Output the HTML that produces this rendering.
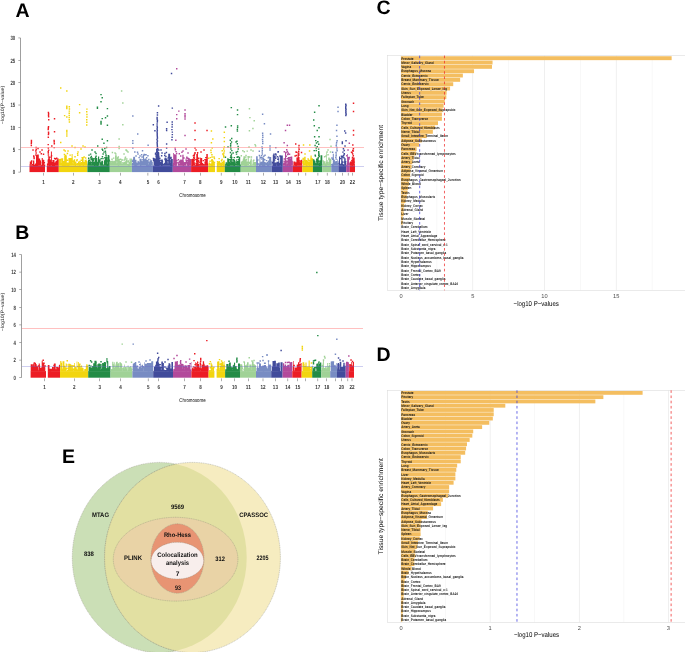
<!DOCTYPE html>
<html><head><meta charset="utf-8"><style>
html,body{margin:0;padding:0;background:#fff;overflow:hidden;}
svg{display:block;font-family:"Liberation Sans", sans-serif;will-change:transform;text-rendering:geometricPrecision;}
</style></head><body>
<svg width="685" height="652" viewBox="0 0 685 652">
<rect width="685" height="652" fill="#fff"/>
<rect x="29.50" y="165.62" width="15.50" height="6.48" fill="#EC1C24"/>
<rect x="46.80" y="165.62" width="12.00" height="6.48" fill="#EC1C24"/>
<rect x="58.80" y="165.62" width="28.60" height="6.48" fill="#F2D50F"/>
<rect x="87.40" y="165.62" width="22.40" height="6.48" fill="#238C46"/>
<rect x="109.80" y="165.62" width="22.10" height="6.48" fill="#A0D296"/>
<rect x="131.90" y="165.62" width="21.00" height="6.48" fill="#788CC3"/>
<rect x="152.90" y="165.62" width="19.90" height="6.48" fill="#414B9B"/>
<rect x="172.80" y="165.62" width="18.30" height="6.48" fill="#B24A9B"/>
<rect x="191.10" y="165.62" width="17.10" height="6.48" fill="#EC1C24"/>
<rect x="208.20" y="165.62" width="6.80" height="6.48" fill="#F2D50F"/>
<rect x="216.70" y="165.62" width="8.10" height="6.48" fill="#F2D50F"/>
<rect x="224.80" y="165.62" width="15.90" height="6.48" fill="#238C46"/>
<rect x="240.70" y="165.62" width="15.30" height="6.48" fill="#A0D296"/>
<rect x="256.00" y="165.62" width="15.80" height="6.48" fill="#788CC3"/>
<rect x="271.80" y="165.62" width="11.00" height="6.48" fill="#414B9B"/>
<rect x="282.80" y="165.62" width="10.10" height="6.48" fill="#B24A9B"/>
<rect x="292.90" y="165.62" width="9.40" height="6.48" fill="#EC1C24"/>
<rect x="302.30" y="165.62" width="10.60" height="6.48" fill="#F2D50F"/>
<rect x="312.90" y="165.62" width="9.40" height="6.48" fill="#238C46"/>
<rect x="322.30" y="165.62" width="9.00" height="6.48" fill="#A0D296"/>
<rect x="331.30" y="165.62" width="7.10" height="6.48" fill="#788CC3"/>
<rect x="338.40" y="165.62" width="7.80" height="6.48" fill="#414B9B"/>
<rect x="346.20" y="165.62" width="3.60" height="6.48" fill="#B24A9B"/>
<rect x="349.80" y="165.62" width="5.20" height="6.48" fill="#EC1C24"/>
<path fill="#EC1C24" d="M39.0 161.9h0.8V165.8h-0.8zM31.6 164.0h1.5V165.8h-1.5zM31.2 165.5h1.4V165.8h-1.4zM42.2 165.3h0.6V165.8h-0.6zM41.9 165.1h2.0V165.8h-2.0zM36.0 155.1h1.6V165.8h-1.6zM58.1 158.6h0.6V165.8h-0.6zM38.0 165.2h0.8V165.8h-0.8zM38.5 164.9h2.0V165.8h-2.0zM40.4 165.4h1.5V165.8h-1.5zM31.2 161.5h0.9V165.8h-0.9zM42.0 162.5h1.1V165.8h-1.1zM42.8 160.0h1.0V165.8h-1.0zM50.0 162.6h0.9V165.8h-0.9zM50.9 151.6h1.0V165.8h-1.0zM33.0 160.6h1.3V165.8h-1.3zM34.0 165.5h1.4V165.8h-1.4zM49.1 162.6h1.9V165.8h-1.9zM55.2 161.4h1.1V165.8h-1.1zM46.9 163.4h1.5V165.8h-1.5zM54.1 163.3h2.2V165.8h-2.2zM49.0 161.3h0.6V165.8h-0.6zM48.5 159.4h2.3V165.8h-2.3zM37.8 161.7h1.2V165.8h-1.2zM30.2 165.0h1.3V165.8h-1.3zM32.9 160.4h0.6V165.8h-0.6zM33.3 163.8h0.9V165.8h-0.9zM55.0 163.5h0.6V165.8h-0.6zM53.5 164.4h2.1V165.8h-2.1zM41.7 157.9h1.1V165.8h-1.1zM57.6 164.9h0.8V165.8h-0.8zM36.3 163.2h0.9V165.8h-0.9zM29.6 164.0h1.3V165.8h-1.3zM49.7 162.2h1.4V165.8h-1.4zM49.3 157.4h0.6V165.8h-0.6zM52.4 159.9h2.1V165.8h-2.1zM41.0 165.2h1.2V165.8h-1.2zM48.1 165.4h0.6V165.8h-0.6zM35.6 164.1h0.8V165.8h-0.8zM31.0 165.0h0.5V165.8h-0.5zM32.5 165.5h1.2V165.8h-1.2zM55.1 165.0h1.6V165.8h-1.6zM36.9 164.0h1.1V165.8h-1.1zM43.2 165.3h1.4V165.8h-1.4zM32.5 164.5h1.1V165.8h-1.1zM53.8 165.5h0.8V165.8h-0.8zM57.3 165.0h1.5V165.8h-1.5zM54.8 164.5h1.8V165.8h-1.8zM40.2 160.3h0.8V165.8h-0.8zM39.2 159.6h0.9V165.8h-0.9zM56.8 159.7h2.0V165.8h-2.0zM53.5 164.7h1.8V165.8h-1.8zM30.3 164.4h0.6V165.8h-0.6zM37.1 154.4h1.7V165.8h-1.7zM57.5 164.7h1.2V165.8h-1.2zM36.1 164.8h0.9V165.8h-0.9zM47.8 159.0h2.1V165.8h-2.1zM52.9 161.7h0.7V165.8h-0.7zM56.2 160.7h1.9V165.8h-1.9zM43.5 160.0h0.8V165.8h-0.8zM38.7 158.4h1.45v1.45h-1.45zM56.8 162.9h1.45v1.45h-1.45zM40.6 153.1h1.45v1.45h-1.45zM49.8 164.1h1.45v1.45h-1.45zM32.9 164.2h1.45v1.45h-1.45zM54.9 158.3h1.45v1.45h-1.45zM33.4 157.8h1.45v1.45h-1.45zM57.0 160.6h1.45v1.45h-1.45zM39.2 161.7h1.45v1.45h-1.45zM33.0 164.8h1.45v1.45h-1.45zM56.8 160.7h1.45v1.45h-1.45zM55.7 162.6h1.45v1.45h-1.45zM53.9 157.8h1.45v1.45h-1.45zM35.2 163.7h1.45v1.45h-1.45zM37.6 163.8h1.45v1.45h-1.45zM36.6 162.7h1.45v1.45h-1.45zM33.0 155.2h1.45v1.45h-1.45zM39.3 162.4h1.45v1.45h-1.45zM54.9 162.7h1.45v1.45h-1.45zM55.2 162.1h1.45v1.45h-1.45zM29.8 162.6h1.45v1.45h-1.45zM34.5 164.9h1.45v1.45h-1.45zM51.9 164.1h1.45v1.45h-1.45zM42.7 159.7h1.45v1.45h-1.45zM38.5 162.0h1.45v1.45h-1.45zM51.5 164.4h1.45v1.45h-1.45zM36.3 163.6h1.45v1.45h-1.45zM51.1 162.0h1.45v1.45h-1.45zM50.8 155.1h1.45v1.45h-1.45zM41.8 161.1h1.45v1.45h-1.45zM43.6 162.0h1.45v1.45h-1.45zM48.9 162.5h1.45v1.45h-1.45zM42.8 153.5h1.45v1.45h-1.45zM49.1 156.5h1.45v1.45h-1.45zM55.9 163.7h1.45v1.45h-1.45zM56.0 157.5h1.45v1.45h-1.45zM33.2 164.4h1.45v1.45h-1.45zM41.8 164.6h1.45v1.45h-1.45zM36.1 164.6h1.45v1.45h-1.45zM48.2 158.7h1.45v1.45h-1.45zM54.7 164.2h1.45v1.45h-1.45zM49.5 160.5h1.45v1.45h-1.45zM33.3 156.3h1.45v1.45h-1.45zM56.7 163.9h1.45v1.45h-1.45zM56.2 162.8h1.45v1.45h-1.45zM52.8 164.2h1.45v1.45h-1.45zM41.5 162.0h1.45v1.45h-1.45zM38.9 164.0h1.45v1.45h-1.45zM38.3 159.7h1.45v1.45h-1.45zM29.8 161.6h1.45v1.45h-1.45zM41.7 164.8h1.45v1.45h-1.45zM38.7 161.0h1.45v1.45h-1.45zM43.8 164.6h1.45v1.45h-1.45zM57.2 158.6h1.45v1.45h-1.45zM56.8 164.4h1.45v1.45h-1.45zM36.8 164.7h1.45v1.45h-1.45zM51.3 163.6h1.45v1.45h-1.45zM32.9 162.7h1.45v1.45h-1.45zM55.1 158.0h1.45v1.45h-1.45zM36.6 164.2h1.45v1.45h-1.45zM55.3 161.5h1.45v1.45h-1.45zM49.1 164.5h1.45v1.45h-1.45zM30.9 160.2h1.45v1.45h-1.45zM41.3 164.6h1.45v1.45h-1.45zM55.8 160.8h1.45v1.45h-1.45zM52.0 164.5h1.45v1.45h-1.45zM53.5 164.6h1.45v1.45h-1.45zM53.7 162.5h1.45v1.45h-1.45zM38.9 161.6h1.45v1.45h-1.45zM55.5 163.6h1.45v1.45h-1.45zM32.9 161.9h1.45v1.45h-1.45zM36.0 164.4h1.45v1.45h-1.45zM33.8 164.7h1.45v1.45h-1.45zM35.0 163.4h1.45v1.45h-1.45zM37.9 159.2h1.45v1.45h-1.45zM192.8 163.8h1.2V165.8h-1.2zM200.7 158.0h1.5V165.8h-1.5zM206.8 163.5h1.4V165.8h-1.4zM201.8 164.1h2.3V165.8h-2.3zM200.2 164.9h2.0V165.8h-2.0zM196.5 159.4h2.3V165.8h-2.3zM199.9 157.6h0.7V165.8h-0.7zM206.3 165.0h1.3V165.8h-1.3zM196.1 163.1h1.4V165.8h-1.4zM194.3 162.1h0.8V165.8h-0.8zM202.0 163.7h0.6V165.8h-0.6zM204.6 161.4h1.1V165.8h-1.1zM191.2 159.0h1.0V165.8h-1.0zM201.1 164.8h1.7V165.8h-1.7zM199.6 164.5h1.5V165.8h-1.5zM200.9 165.2h1.2V165.8h-1.2zM193.8 165.2h1.9V165.8h-1.9zM192.8 163.0h0.8V165.8h-0.8zM205.2 159.7h1.6V165.8h-1.6zM192.2 160.3h0.5V165.8h-0.5zM196.6 164.1h1.8V165.8h-1.8zM194.0 165.2h1.0V165.8h-1.0zM206.6 164.1h1.5V165.8h-1.5zM198.8 165.4h1.2V165.8h-1.2zM206.3 154.1h1.5V165.8h-1.5zM198.6 164.6h1.6V165.8h-1.6zM191.9 158.7h2.2V165.8h-2.2zM196.5 159.6h2.1V165.8h-2.1zM196.3 154.1h1.6V165.8h-1.6zM199.6 164.6h2.2V165.8h-2.2zM197.8 164.7h1.8V165.8h-1.8zM196.4 163.2h2.1V165.8h-2.1zM204.7 164.9h0.9V165.8h-0.9zM197.2 152.9h0.8V165.8h-0.8zM196.1 165.2h1.5V165.8h-1.5zM200.2 163.8h1.2V165.8h-1.2zM192.2 159.4h0.7V165.8h-0.7zM197.1 164.9h0.9V165.8h-0.9zM195.9 165.5h0.9V165.8h-0.9zM201.6 163.2h1.45v1.45h-1.45zM193.4 160.0h1.45v1.45h-1.45zM192.4 163.6h1.45v1.45h-1.45zM204.3 164.3h1.45v1.45h-1.45zM198.0 157.6h1.45v1.45h-1.45zM203.8 164.2h1.45v1.45h-1.45zM196.6 159.7h1.45v1.45h-1.45zM196.9 152.1h1.45v1.45h-1.45zM194.2 152.8h1.45v1.45h-1.45zM199.0 163.9h1.45v1.45h-1.45zM198.2 164.3h1.45v1.45h-1.45zM202.2 163.7h1.45v1.45h-1.45zM205.4 161.3h1.45v1.45h-1.45zM196.8 163.8h1.45v1.45h-1.45zM200.7 163.9h1.45v1.45h-1.45zM204.9 164.4h1.45v1.45h-1.45zM199.1 161.7h1.45v1.45h-1.45zM195.2 158.9h1.45v1.45h-1.45zM197.1 160.6h1.45v1.45h-1.45zM200.0 163.4h1.45v1.45h-1.45zM197.2 164.5h1.45v1.45h-1.45zM193.7 157.2h1.45v1.45h-1.45zM196.0 160.5h1.45v1.45h-1.45zM192.6 161.6h1.45v1.45h-1.45zM196.7 162.1h1.45v1.45h-1.45zM195.7 164.6h1.45v1.45h-1.45zM195.9 163.9h1.45v1.45h-1.45zM192.9 159.8h1.45v1.45h-1.45zM195.4 162.8h1.45v1.45h-1.45zM205.5 158.9h1.45v1.45h-1.45zM205.1 156.9h1.45v1.45h-1.45zM193.0 163.6h1.45v1.45h-1.45zM191.4 160.3h1.45v1.45h-1.45zM201.6 163.1h1.45v1.45h-1.45zM197.5 160.6h1.45v1.45h-1.45zM202.1 163.7h1.45v1.45h-1.45zM204.5 163.1h1.45v1.45h-1.45zM201.0 164.1h1.45v1.45h-1.45zM192.7 155.1h1.45v1.45h-1.45zM202.7 159.9h1.45v1.45h-1.45zM191.5 164.7h1.45v1.45h-1.45zM193.5 164.0h1.45v1.45h-1.45zM195.8 163.0h1.45v1.45h-1.45zM191.5 163.4h1.45v1.45h-1.45zM201.2 164.1h1.45v1.45h-1.45zM204.4 161.5h1.45v1.45h-1.45zM202.4 163.7h1.45v1.45h-1.45zM197.9 160.2h1.45v1.45h-1.45zM196.5 164.9h1.45v1.45h-1.45zM204.3 158.9h1.45v1.45h-1.45zM195.5 164.7h1.45v1.45h-1.45zM295.5 164.0h2.2V165.8h-2.2zM295.0 162.2h2.1V165.8h-2.1zM301.1 163.1h1.2V165.8h-1.2zM294.7 165.0h2.0V165.8h-2.0zM297.9 164.9h0.5V165.8h-0.5zM301.0 159.7h1.3V165.8h-1.3zM295.3 165.2h1.1V165.8h-1.1zM298.1 163.0h2.1V165.8h-2.1zM296.4 157.6h2.2V165.8h-2.2zM299.2 162.1h0.6V165.8h-0.6zM297.1 164.0h2.2V165.8h-2.2zM299.1 163.9h1.6V165.8h-1.6zM297.8 157.1h1.7V165.8h-1.7zM297.6 152.2h1.2V165.8h-1.2zM293.4 161.5h2.0V165.8h-2.0zM298.1 160.6h1.3V165.8h-1.3zM300.5 160.7h1.8V165.8h-1.8zM293.2 165.1h1.1V165.8h-1.1zM300.2 165.1h2.1V165.8h-2.1zM298.4 165.4h1.5V165.8h-1.5zM296.6 161.9h1.8V165.8h-1.8zM295.5 164.4h1.9V165.8h-1.9zM297.2 162.7h1.45v1.45h-1.45zM300.9 160.7h1.45v1.45h-1.45zM299.4 160.3h1.45v1.45h-1.45zM295.9 151.6h1.45v1.45h-1.45zM298.6 160.2h1.45v1.45h-1.45zM295.0 164.2h1.45v1.45h-1.45zM297.5 157.9h1.45v1.45h-1.45zM299.3 163.2h1.45v1.45h-1.45zM293.9 162.0h1.45v1.45h-1.45zM300.0 164.2h1.45v1.45h-1.45zM298.9 164.1h1.45v1.45h-1.45zM295.3 164.7h1.45v1.45h-1.45zM295.2 162.9h1.45v1.45h-1.45zM300.8 151.7h1.45v1.45h-1.45zM294.2 163.4h1.45v1.45h-1.45zM300.6 164.0h1.45v1.45h-1.45zM295.4 162.6h1.45v1.45h-1.45zM293.6 163.7h1.45v1.45h-1.45zM296.0 162.9h1.45v1.45h-1.45zM300.8 163.6h1.45v1.45h-1.45zM294.4 155.3h1.45v1.45h-1.45zM296.5 157.6h1.45v1.45h-1.45zM298.0 158.8h1.45v1.45h-1.45zM295.3 164.2h1.45v1.45h-1.45zM299.0 162.3h1.45v1.45h-1.45zM297.4 160.4h1.45v1.45h-1.45zM299.0 163.6h1.45v1.45h-1.45zM295.7 154.8h1.45v1.45h-1.45zM350.4 161.8h0.9V165.8h-0.9zM352.8 157.4h1.9V165.8h-1.9zM354.2 165.3h0.8V165.8h-0.8zM353.5 164.9h1.5V165.8h-1.5zM353.4 164.6h1.0V165.8h-1.0zM351.7 161.6h1.4V165.8h-1.4zM350.2 162.1h1.8V165.8h-1.8zM352.3 159.9h1.7V165.8h-1.7zM349.8 161.6h1.4V165.8h-1.4zM353.3 164.9h1.7V165.8h-1.7zM353.1 164.7h1.9V165.8h-1.9zM352.0 164.8h2.2V165.8h-2.2zM351.3 151.8h1.45v1.45h-1.45zM353.4 163.8h1.45v1.45h-1.45zM352.7 163.1h1.45v1.45h-1.45zM352.4 159.0h1.45v1.45h-1.45zM350.1 163.9h1.45v1.45h-1.45zM350.5 163.6h1.45v1.45h-1.45zM349.7 164.3h1.45v1.45h-1.45zM351.3 162.7h1.45v1.45h-1.45zM349.9 161.4h1.45v1.45h-1.45zM353.5 161.4h1.45v1.45h-1.45zM351.1 160.0h1.45v1.45h-1.45zM351.4 164.1h1.45v1.45h-1.45zM351.6 164.8h1.45v1.45h-1.45zM352.4 164.2h1.45v1.45h-1.45zM351.1 151.7h1.45v1.45h-1.45zM30.7 139.8h1.45v1.45h-1.45zM30.7 141.3h1.45v1.45h-1.45zM30.6 142.8h1.45v1.45h-1.45zM30.6 144.8h1.45v1.45h-1.45zM35.4 146.8h1.45v1.45h-1.45zM35.5 148.8h1.45v1.45h-1.45zM35.1 150.3h1.45v1.45h-1.45zM35.4 152.3h1.45v1.45h-1.45zM35.2 154.3h1.45v1.45h-1.45zM47.7 111.7h1.45v1.45h-1.45zM47.9 113.1h1.45v1.45h-1.45zM47.8 114.6h1.45v1.45h-1.45zM47.9 116.1h1.45v1.45h-1.45zM48.0 119.0h1.45v1.45h-1.45zM47.8 126.0h1.45v1.45h-1.45zM47.6 127.3h1.45v1.45h-1.45zM47.5 128.7h1.45v1.45h-1.45zM47.8 131.5h1.45v1.45h-1.45zM47.9 132.7h1.45v1.45h-1.45zM47.7 133.8h1.45v1.45h-1.45zM47.6 136.6h1.45v1.45h-1.45zM47.5 143.9h1.45v1.45h-1.45zM47.6 147.2h1.45v1.45h-1.45zM47.9 149.5h1.45v1.45h-1.45zM47.5 150.9h1.45v1.45h-1.45zM47.6 152.3h1.45v1.45h-1.45zM47.7 154.3h1.45v1.45h-1.45zM47.9 156.3h1.45v1.45h-1.45zM48.0 158.3h1.45v1.45h-1.45zM47.5 160.3h1.45v1.45h-1.45zM47.6 162.3h1.45v1.45h-1.45zM53.8 118.1h1.45v1.45h-1.45zM53.8 131.0h1.45v1.45h-1.45zM53.4 139.8h1.45v1.45h-1.45zM53.5 141.3h1.45v1.45h-1.45zM53.6 143.0h1.45v1.45h-1.45zM53.5 146.9h1.45v1.45h-1.45zM51.1 145.3h1.45v1.45h-1.45zM39.3 151.3h1.45v1.45h-1.45zM41.3 149.3h1.45v1.45h-1.45zM32.3 149.3h1.45v1.45h-1.45zM37.3 147.8h1.45v1.45h-1.45zM194.3 122.3h1.45v1.45h-1.45zM194.3 129.8h1.45v1.45h-1.45zM194.3 139.0h1.45v1.45h-1.45zM206.3 129.8h1.45v1.45h-1.45zM194.3 147.3h1.45v1.45h-1.45zM195.3 149.3h1.45v1.45h-1.45zM194.3 152.1h1.45v1.45h-1.45zM193.6 153.7h1.45v1.45h-1.45zM193.5 155.3h1.45v1.45h-1.45zM193.0 156.9h1.45v1.45h-1.45zM193.3 158.5h1.45v1.45h-1.45zM200.3 151.3h1.45v1.45h-1.45zM203.3 149.3h1.45v1.45h-1.45zM295.0 143.3h1.45v1.45h-1.45zM298.3 144.7h1.45v1.45h-1.45zM298.1 146.7h1.45v1.45h-1.45zM298.4 148.6h1.45v1.45h-1.45zM298.0 150.5h1.45v1.45h-1.45zM298.1 152.4h1.45v1.45h-1.45zM298.2 154.3h1.45v1.45h-1.45zM295.3 151.3h1.45v1.45h-1.45zM352.8 102.6h1.45v1.45h-1.45zM352.8 110.8h1.45v1.45h-1.45zM352.8 129.7h1.45v1.45h-1.45zM352.8 134.3h1.45v1.45h-1.45zM352.1 144.3h1.45v1.45h-1.45zM352.6 150.3h1.45v1.45h-1.45zM352.7 148.1h1.45v1.45h-1.45zM352.0 149.8h1.45v1.45h-1.45zM350.8 151.6h1.45v1.45h-1.45zM352.0 153.3h1.45v1.45h-1.45zM352.6 155.0h1.45v1.45h-1.45zM351.8 156.7h1.45v1.45h-1.45zM351.7 158.4h1.45v1.45h-1.45z"/>
<path fill="#F2D50F" d="M67.1 164.9h1.4V165.8h-1.4zM68.7 164.6h0.5V165.8h-0.5zM59.2 162.8h1.8V165.8h-1.8zM64.2 155.9h1.4V165.8h-1.4zM61.8 163.6h2.0V165.8h-2.0zM73.0 163.8h2.0V165.8h-2.0zM68.6 161.2h2.0V165.8h-2.0zM77.0 164.1h1.2V165.8h-1.2zM60.4 165.4h0.7V165.8h-0.7zM80.0 165.0h1.0V165.8h-1.0zM61.2 158.3h2.0V165.8h-2.0zM78.0 164.6h1.0V165.8h-1.0zM67.2 165.0h1.3V165.8h-1.3zM71.6 153.9h1.0V165.8h-1.0zM85.9 164.6h1.5V165.8h-1.5zM86.3 164.0h1.1V165.8h-1.1zM58.8 163.3h1.2V165.8h-1.2zM73.2 163.1h0.9V165.8h-0.9zM58.9 165.3h1.0V165.8h-1.0zM70.2 165.5h0.6V165.8h-0.6zM67.5 162.5h0.9V165.8h-0.9zM73.9 161.8h1.9V165.8h-1.9zM79.3 163.9h2.1V165.8h-2.1zM68.1 165.0h2.3V165.8h-2.3zM79.5 165.5h1.7V165.8h-1.7zM82.7 162.1h2.1V165.8h-2.1zM79.8 165.1h2.0V165.8h-2.0zM73.8 159.2h1.4V165.8h-1.4zM81.8 162.5h2.0V165.8h-2.0zM84.3 161.4h1.7V165.8h-1.7zM65.4 165.1h0.6V165.8h-0.6zM69.1 159.2h0.7V165.8h-0.7zM74.8 162.1h1.6V165.8h-1.6zM78.3 165.6h1.4V165.8h-1.4zM81.6 163.1h1.8V165.8h-1.8zM74.1 165.4h1.7V165.8h-1.7zM79.9 165.3h1.0V165.8h-1.0zM66.4 164.8h1.8V165.8h-1.8zM80.0 163.2h2.3V165.8h-2.3zM69.7 161.5h1.4V165.8h-1.4zM80.7 161.9h1.6V165.8h-1.6zM61.0 164.6h0.8V165.8h-0.8zM80.1 162.6h1.0V165.8h-1.0zM59.2 164.5h0.6V165.8h-0.6zM78.0 161.6h1.7V165.8h-1.7zM67.1 163.4h1.4V165.8h-1.4zM72.1 157.6h0.7V165.8h-0.7zM64.5 155.8h2.3V165.8h-2.3zM59.3 159.5h1.3V165.8h-1.3zM86.1 164.5h1.3V165.8h-1.3zM64.8 164.8h2.2V165.8h-2.2zM75.4 163.0h0.8V165.8h-0.8zM86.0 159.5h0.7V165.8h-0.7zM73.4 161.3h2.1V165.8h-2.1zM65.4 163.2h2.1V165.8h-2.1zM59.5 163.2h0.5V165.8h-0.5zM71.7 165.1h1.0V165.8h-1.0zM68.6 159.1h1.1V165.8h-1.1zM58.8 159.1h1.9V165.8h-1.9zM62.2 161.1h2.2V165.8h-2.2zM84.6 163.9h1.0V165.8h-1.0zM70.0 162.4h2.3V165.8h-2.3zM69.1 164.5h1.3V165.8h-1.3zM60.2 159.2h0.7V165.8h-0.7zM67.0 164.6h2.2V165.8h-2.2zM66.4 164.9h1.4V165.8h-1.4zM69.5 157.9h2.2V165.8h-2.2zM82.0 156.9h1.6V165.8h-1.6zM85.7 161.1h1.5V165.8h-1.5zM60.2 163.5h1.8V165.8h-1.8zM79.3 160.7h1.45v1.45h-1.45zM66.5 164.7h1.45v1.45h-1.45zM84.2 164.3h1.45v1.45h-1.45zM71.6 163.2h1.45v1.45h-1.45zM66.8 159.5h1.45v1.45h-1.45zM85.5 163.7h1.45v1.45h-1.45zM76.7 163.5h1.45v1.45h-1.45zM74.0 162.9h1.45v1.45h-1.45zM63.2 164.2h1.45v1.45h-1.45zM64.3 155.4h1.45v1.45h-1.45zM72.3 163.9h1.45v1.45h-1.45zM71.0 164.3h1.45v1.45h-1.45zM63.9 164.5h1.45v1.45h-1.45zM68.0 164.5h1.45v1.45h-1.45zM65.2 163.7h1.45v1.45h-1.45zM74.3 156.1h1.45v1.45h-1.45zM79.3 162.7h1.45v1.45h-1.45zM70.0 161.9h1.45v1.45h-1.45zM69.0 163.2h1.45v1.45h-1.45zM60.3 163.6h1.45v1.45h-1.45zM85.3 164.3h1.45v1.45h-1.45zM72.5 160.9h1.45v1.45h-1.45zM82.4 163.9h1.45v1.45h-1.45zM66.1 163.7h1.45v1.45h-1.45zM69.6 162.5h1.45v1.45h-1.45zM84.9 157.3h1.45v1.45h-1.45zM82.7 164.8h1.45v1.45h-1.45zM59.5 159.9h1.45v1.45h-1.45zM83.3 162.3h1.45v1.45h-1.45zM74.8 164.9h1.45v1.45h-1.45zM69.4 154.4h1.45v1.45h-1.45zM81.4 157.1h1.45v1.45h-1.45zM85.4 163.7h1.45v1.45h-1.45zM61.6 164.2h1.45v1.45h-1.45zM73.0 160.3h1.45v1.45h-1.45zM84.6 159.7h1.45v1.45h-1.45zM76.4 159.1h1.45v1.45h-1.45zM71.2 161.7h1.45v1.45h-1.45zM59.7 158.8h1.45v1.45h-1.45zM65.0 154.7h1.45v1.45h-1.45zM76.4 163.4h1.45v1.45h-1.45zM62.1 163.7h1.45v1.45h-1.45zM76.1 160.1h1.45v1.45h-1.45zM61.7 164.6h1.45v1.45h-1.45zM73.0 161.4h1.45v1.45h-1.45zM69.3 163.9h1.45v1.45h-1.45zM75.2 164.8h1.45v1.45h-1.45zM66.9 162.4h1.45v1.45h-1.45zM85.0 160.7h1.45v1.45h-1.45zM83.0 162.3h1.45v1.45h-1.45zM65.1 163.7h1.45v1.45h-1.45zM85.1 160.0h1.45v1.45h-1.45zM67.1 164.8h1.45v1.45h-1.45zM72.3 160.4h1.45v1.45h-1.45zM70.2 163.7h1.45v1.45h-1.45zM77.0 154.5h1.45v1.45h-1.45zM64.8 164.8h1.45v1.45h-1.45zM67.9 162.7h1.45v1.45h-1.45zM77.4 164.0h1.45v1.45h-1.45zM80.6 159.5h1.45v1.45h-1.45zM72.5 164.0h1.45v1.45h-1.45zM85.3 163.4h1.45v1.45h-1.45zM81.2 163.8h1.45v1.45h-1.45zM64.7 159.1h1.45v1.45h-1.45zM66.7 152.7h1.45v1.45h-1.45zM72.3 164.1h1.45v1.45h-1.45zM64.7 162.7h1.45v1.45h-1.45zM76.9 152.9h1.45v1.45h-1.45zM62.6 162.9h1.45v1.45h-1.45zM64.5 150.2h1.45v1.45h-1.45zM62.5 164.7h1.45v1.45h-1.45zM60.2 162.9h1.45v1.45h-1.45zM83.4 156.2h1.45v1.45h-1.45zM84.3 163.3h1.45v1.45h-1.45zM63.7 153.8h1.45v1.45h-1.45zM79.2 164.8h1.45v1.45h-1.45zM76.9 163.0h1.45v1.45h-1.45zM68.9 163.3h1.45v1.45h-1.45zM63.2 164.9h1.45v1.45h-1.45zM66.3 163.1h1.45v1.45h-1.45zM84.9 164.4h1.45v1.45h-1.45zM85.2 164.0h1.45v1.45h-1.45zM68.4 158.0h1.45v1.45h-1.45zM222.4 165.4h1.6V165.8h-1.6zM212.3 160.0h0.7V165.8h-0.7zM211.7 160.7h2.1V165.8h-2.1zM209.6 163.8h1.8V165.8h-1.8zM220.6 164.4h2.0V165.8h-2.0zM209.7 163.6h2.2V165.8h-2.2zM223.1 160.8h1.7V165.8h-1.7zM222.0 163.5h1.6V165.8h-1.6zM209.1 163.6h1.8V165.8h-1.8zM210.3 165.5h1.9V165.8h-1.9zM219.9 164.5h2.0V165.8h-2.0zM217.3 162.0h2.2V165.8h-2.2zM217.2 165.4h0.9V165.8h-0.9zM211.5 165.1h1.1V165.8h-1.1zM219.9 164.6h1.7V165.8h-1.7zM212.2 163.5h1.4V165.8h-1.4zM223.7 164.3h1.1V165.8h-1.1zM222.9 162.7h0.8V165.8h-0.8zM217.3 165.0h1.9V165.8h-1.9zM219.3 163.4h1.6V165.8h-1.6zM220.9 165.2h2.0V165.8h-2.0zM213.0 164.8h1.1V165.8h-1.1zM209.2 164.8h1.0V165.8h-1.0zM219.8 165.2h1.3V165.8h-1.3zM213.6 164.0h1.3V165.8h-1.3zM211.0 165.6h0.6V165.8h-0.6zM222.9 165.3h1.9V165.8h-1.9zM220.1 162.6h2.3V165.8h-2.3zM210.0 163.6h1.4V165.8h-1.4zM211.4 165.6h1.5V165.8h-1.5zM223.1 162.1h1.7V165.8h-1.7zM223.1 164.6h1.7V165.8h-1.7zM212.3 165.5h0.7V165.8h-0.7zM221.1 164.4h2.0V165.8h-2.0zM211.3 158.9h1.6V165.8h-1.6zM223.6 160.1h0.8V165.8h-0.8zM222.0 164.2h1.8V165.8h-1.8zM211.3 164.2h2.0V165.8h-2.0zM213.7 161.7h1.45v1.45h-1.45zM213.7 157.7h1.45v1.45h-1.45zM211.7 164.7h1.45v1.45h-1.45zM216.8 160.9h1.45v1.45h-1.45zM220.8 160.0h1.45v1.45h-1.45zM222.1 153.2h1.45v1.45h-1.45zM210.4 163.5h1.45v1.45h-1.45zM217.0 164.6h1.45v1.45h-1.45zM218.7 164.2h1.45v1.45h-1.45zM223.1 164.5h1.45v1.45h-1.45zM208.6 162.6h1.45v1.45h-1.45zM211.0 159.7h1.45v1.45h-1.45zM208.0 157.5h1.45v1.45h-1.45zM221.3 158.7h1.45v1.45h-1.45zM212.4 160.5h1.45v1.45h-1.45zM213.3 162.6h1.45v1.45h-1.45zM218.4 157.9h1.45v1.45h-1.45zM222.1 164.2h1.45v1.45h-1.45zM212.6 162.5h1.45v1.45h-1.45zM216.8 163.2h1.45v1.45h-1.45zM211.0 164.5h1.45v1.45h-1.45zM213.0 162.4h1.45v1.45h-1.45zM223.1 155.3h1.45v1.45h-1.45zM221.5 150.1h1.45v1.45h-1.45zM223.0 161.0h1.45v1.45h-1.45zM220.6 164.6h1.45v1.45h-1.45zM218.5 161.1h1.45v1.45h-1.45zM212.6 161.5h1.45v1.45h-1.45zM222.8 162.3h1.45v1.45h-1.45zM218.1 163.5h1.45v1.45h-1.45zM213.3 156.2h1.45v1.45h-1.45zM208.4 164.0h1.45v1.45h-1.45zM218.6 162.5h1.45v1.45h-1.45zM209.3 160.5h1.45v1.45h-1.45zM217.0 162.7h1.45v1.45h-1.45zM216.8 162.9h1.45v1.45h-1.45zM209.8 164.1h1.45v1.45h-1.45zM221.9 161.7h1.45v1.45h-1.45zM209.7 156.9h1.45v1.45h-1.45zM211.9 164.5h1.45v1.45h-1.45zM307.9 162.1h1.0V165.8h-1.0zM305.1 165.5h1.9V165.8h-1.9zM311.1 164.1h1.5V165.8h-1.5zM311.9 164.6h1.0V165.8h-1.0zM303.0 160.6h1.5V165.8h-1.5zM309.5 159.7h1.2V165.8h-1.2zM303.5 161.9h1.1V165.8h-1.1zM311.3 161.4h1.6V165.8h-1.6zM310.5 155.5h1.2V165.8h-1.2zM310.2 163.8h1.1V165.8h-1.1zM310.8 164.9h1.1V165.8h-1.1zM311.4 163.0h1.5V165.8h-1.5zM309.4 165.1h2.1V165.8h-2.1zM305.9 163.7h0.6V165.8h-0.6zM307.6 161.7h2.0V165.8h-2.0zM308.4 162.6h1.2V165.8h-1.2zM305.2 160.1h2.0V165.8h-2.0zM311.2 161.6h0.8V165.8h-0.8zM310.3 157.4h1.4V165.8h-1.4zM311.1 159.5h1.8V165.8h-1.8zM309.2 165.1h2.1V165.8h-2.1zM309.8 162.2h1.8V165.8h-1.8zM305.2 162.3h0.6V165.8h-0.6zM311.0 164.8h1.0V165.8h-1.0zM304.7 161.6h0.7V165.8h-0.7zM311.0 164.0h1.9V165.8h-1.9zM308.8 164.6h1.45v1.45h-1.45zM310.1 163.3h1.45v1.45h-1.45zM302.1 160.9h1.45v1.45h-1.45zM303.4 163.6h1.45v1.45h-1.45zM302.6 162.5h1.45v1.45h-1.45zM307.4 158.3h1.45v1.45h-1.45zM302.5 157.8h1.45v1.45h-1.45zM303.1 163.9h1.45v1.45h-1.45zM308.1 163.2h1.45v1.45h-1.45zM305.3 161.5h1.45v1.45h-1.45zM304.2 158.5h1.45v1.45h-1.45zM304.1 157.5h1.45v1.45h-1.45zM309.8 161.8h1.45v1.45h-1.45zM302.4 158.8h1.45v1.45h-1.45zM302.3 162.1h1.45v1.45h-1.45zM306.1 164.6h1.45v1.45h-1.45zM308.1 159.7h1.45v1.45h-1.45zM307.7 162.8h1.45v1.45h-1.45zM307.0 161.3h1.45v1.45h-1.45zM304.2 156.8h1.45v1.45h-1.45zM311.6 158.3h1.45v1.45h-1.45zM311.3 163.3h1.45v1.45h-1.45zM311.5 164.6h1.45v1.45h-1.45zM306.7 164.3h1.45v1.45h-1.45zM306.4 160.3h1.45v1.45h-1.45zM308.9 162.5h1.45v1.45h-1.45zM305.4 164.0h1.45v1.45h-1.45zM305.9 163.6h1.45v1.45h-1.45zM303.9 159.5h1.45v1.45h-1.45zM307.0 162.6h1.45v1.45h-1.45zM304.0 160.0h1.45v1.45h-1.45zM60.0 87.3h1.45v1.45h-1.45zM66.1 90.2h1.45v1.45h-1.45zM66.1 105.5h1.45v1.45h-1.45zM66.1 106.8h1.45v1.45h-1.45zM66.1 107.9h1.45v1.45h-1.45zM66.1 116.3h1.45v1.45h-1.45zM66.1 129.7h1.45v1.45h-1.45zM66.1 131.3h1.45v1.45h-1.45zM66.1 133.3h1.45v1.45h-1.45zM66.1 135.3h1.45v1.45h-1.45zM68.6 106.1h1.45v1.45h-1.45zM68.7 108.2h1.45v1.45h-1.45zM68.6 110.4h1.45v1.45h-1.45zM68.5 112.6h1.45v1.45h-1.45zM68.5 114.8h1.45v1.45h-1.45zM68.5 116.9h1.45v1.45h-1.45zM68.5 119.1h1.45v1.45h-1.45zM68.7 121.3h1.45v1.45h-1.45zM63.9 114.9h1.45v1.45h-1.45zM78.9 103.9h1.45v1.45h-1.45zM78.9 112.0h1.45v1.45h-1.45zM86.2 108.4h1.45v1.45h-1.45zM86.0 111.0h1.45v1.45h-1.45zM86.2 113.7h1.45v1.45h-1.45zM86.2 116.3h1.45v1.45h-1.45zM86.0 119.0h1.45v1.45h-1.45zM86.1 121.6h1.45v1.45h-1.45zM86.0 124.3h1.45v1.45h-1.45zM60.0 141.8h1.45v1.45h-1.45zM71.3 145.3h1.45v1.45h-1.45zM74.3 146.8h1.45v1.45h-1.45zM82.3 145.3h1.45v1.45h-1.45zM84.3 146.3h1.45v1.45h-1.45zM63.3 149.3h1.45v1.45h-1.45zM67.3 150.3h1.45v1.45h-1.45zM77.3 151.3h1.45v1.45h-1.45zM80.3 148.3h1.45v1.45h-1.45zM210.7 130.3h1.45v1.45h-1.45zM212.1 138.3h1.45v1.45h-1.45zM210.7 142.1h1.45v1.45h-1.45zM223.6 131.6h1.45v1.45h-1.45zM223.6 136.9h1.45v1.45h-1.45zM223.6 140.8h1.45v1.45h-1.45zM211.5 147.4h1.45v1.45h-1.45zM210.2 149.6h1.45v1.45h-1.45zM210.4 151.8h1.45v1.45h-1.45zM211.2 154.0h1.45v1.45h-1.45zM211.4 156.2h1.45v1.45h-1.45zM223.6 146.3h1.45v1.45h-1.45zM223.0 148.3h1.45v1.45h-1.45zM223.6 150.3h1.45v1.45h-1.45zM223.2 152.3h1.45v1.45h-1.45zM222.8 154.3h1.45v1.45h-1.45zM223.0 156.3h1.45v1.45h-1.45zM302.8 144.3h1.45v1.45h-1.45zM309.1 144.3h1.45v1.45h-1.45zM308.8 150.3h1.45v1.45h-1.45zM304.3 153.3h1.45v1.45h-1.45z"/>
<path fill="#238C46" d="M105.8 165.4h1.3V165.8h-1.3zM98.0 156.6h1.2V165.8h-1.2zM91.7 157.5h1.2V165.8h-1.2zM88.1 159.6h1.2V165.8h-1.2zM104.6 165.5h0.6V165.8h-0.6zM88.8 164.6h2.2V165.8h-2.2zM104.1 164.1h2.1V165.8h-2.1zM93.5 162.2h2.2V165.8h-2.2zM93.3 164.3h1.8V165.8h-1.8zM93.6 160.6h0.5V165.8h-0.5zM107.9 155.4h1.6V165.8h-1.6zM87.9 163.3h0.9V165.8h-0.9zM107.6 163.9h2.2V165.8h-2.2zM93.0 163.2h1.3V165.8h-1.3zM108.2 159.8h0.8V165.8h-0.8zM103.9 160.3h2.0V165.8h-2.0zM101.0 164.2h1.1V165.8h-1.1zM95.5 165.3h1.9V165.8h-1.9zM91.8 164.6h1.9V165.8h-1.9zM88.9 162.7h0.6V165.8h-0.6zM94.7 157.9h2.3V165.8h-2.3zM108.8 165.3h1.0V165.8h-1.0zM89.6 161.2h1.4V165.8h-1.4zM97.4 163.7h0.9V165.8h-0.9zM101.3 160.7h1.7V165.8h-1.7zM106.4 165.2h1.7V165.8h-1.7zM106.2 162.6h1.0V165.8h-1.0zM95.8 164.8h1.8V165.8h-1.8zM92.9 165.0h0.9V165.8h-0.9zM107.2 164.2h1.5V165.8h-1.5zM96.3 163.1h2.3V165.8h-2.3zM92.6 161.8h2.0V165.8h-2.0zM109.1 163.3h0.7V165.8h-0.7zM105.7 156.8h2.0V165.8h-2.0zM88.3 165.2h1.0V165.8h-1.0zM91.6 162.5h2.3V165.8h-2.3zM108.2 158.4h1.2V165.8h-1.2zM97.5 160.2h1.0V165.8h-1.0zM108.6 162.4h0.7V165.8h-0.7zM101.3 164.0h0.9V165.8h-0.9zM90.6 164.6h0.9V165.8h-0.9zM100.8 164.8h1.7V165.8h-1.7zM87.7 161.6h1.1V165.8h-1.1zM91.5 164.8h1.1V165.8h-1.1zM105.2 165.4h1.5V165.8h-1.5zM89.7 162.8h1.2V165.8h-1.2zM101.7 165.0h0.7V165.8h-0.7zM103.0 164.4h1.2V165.8h-1.2zM94.3 164.3h2.2V165.8h-2.2zM100.1 163.7h1.1V165.8h-1.1zM106.8 164.0h2.3V165.8h-2.3zM91.8 164.8h1.8V165.8h-1.8zM87.5 163.6h2.1V165.8h-2.1zM105.8 157.9h1.2V165.8h-1.2zM97.7 165.6h0.8V165.8h-0.8zM99.0 160.8h1.45v1.45h-1.45zM106.6 164.5h1.45v1.45h-1.45zM100.5 163.0h1.45v1.45h-1.45zM98.0 164.3h1.45v1.45h-1.45zM93.2 161.9h1.45v1.45h-1.45zM107.0 164.4h1.45v1.45h-1.45zM97.7 158.3h1.45v1.45h-1.45zM107.9 164.0h1.45v1.45h-1.45zM89.9 153.4h1.45v1.45h-1.45zM108.1 162.2h1.45v1.45h-1.45zM88.3 154.4h1.45v1.45h-1.45zM95.5 155.4h1.45v1.45h-1.45zM100.5 157.9h1.45v1.45h-1.45zM90.6 158.7h1.45v1.45h-1.45zM91.9 162.8h1.45v1.45h-1.45zM105.3 157.8h1.45v1.45h-1.45zM91.1 163.9h1.45v1.45h-1.45zM95.7 162.0h1.45v1.45h-1.45zM95.4 164.4h1.45v1.45h-1.45zM92.5 159.7h1.45v1.45h-1.45zM106.4 164.7h1.45v1.45h-1.45zM99.2 159.2h1.45v1.45h-1.45zM88.0 157.6h1.45v1.45h-1.45zM89.7 161.2h1.45v1.45h-1.45zM98.9 160.9h1.45v1.45h-1.45zM93.7 162.7h1.45v1.45h-1.45zM99.6 162.7h1.45v1.45h-1.45zM101.3 162.5h1.45v1.45h-1.45zM96.6 164.8h1.45v1.45h-1.45zM100.4 162.2h1.45v1.45h-1.45zM92.2 159.1h1.45v1.45h-1.45zM103.9 162.4h1.45v1.45h-1.45zM91.0 162.3h1.45v1.45h-1.45zM89.5 164.3h1.45v1.45h-1.45zM96.4 164.5h1.45v1.45h-1.45zM96.6 162.0h1.45v1.45h-1.45zM88.0 160.8h1.45v1.45h-1.45zM88.9 159.6h1.45v1.45h-1.45zM103.8 162.0h1.45v1.45h-1.45zM88.3 162.1h1.45v1.45h-1.45zM95.3 152.8h1.45v1.45h-1.45zM90.1 157.1h1.45v1.45h-1.45zM108.5 159.6h1.45v1.45h-1.45zM104.6 164.0h1.45v1.45h-1.45zM108.2 162.2h1.45v1.45h-1.45zM107.6 154.9h1.45v1.45h-1.45zM90.7 158.6h1.45v1.45h-1.45zM107.1 164.6h1.45v1.45h-1.45zM94.7 159.2h1.45v1.45h-1.45zM90.6 155.8h1.45v1.45h-1.45zM93.1 158.1h1.45v1.45h-1.45zM90.2 162.1h1.45v1.45h-1.45zM106.9 164.0h1.45v1.45h-1.45zM92.8 162.1h1.45v1.45h-1.45zM94.0 164.7h1.45v1.45h-1.45zM91.1 164.2h1.45v1.45h-1.45zM107.2 160.3h1.45v1.45h-1.45zM106.3 164.1h1.45v1.45h-1.45zM104.0 164.4h1.45v1.45h-1.45zM98.5 160.8h1.45v1.45h-1.45zM94.9 156.6h1.45v1.45h-1.45zM99.1 161.4h1.45v1.45h-1.45zM106.1 164.4h1.45v1.45h-1.45zM108.4 160.9h1.45v1.45h-1.45zM95.6 158.5h1.45v1.45h-1.45zM99.5 163.1h1.45v1.45h-1.45zM228.8 162.7h1.4V165.8h-1.4zM228.4 165.2h1.5V165.8h-1.5zM233.0 165.3h1.6V165.8h-1.6zM231.3 163.5h0.6V165.8h-0.6zM238.5 161.1h1.5V165.8h-1.5zM236.3 159.3h0.7V165.8h-0.7zM231.0 154.1h0.8V165.8h-0.8zM233.8 165.1h1.9V165.8h-1.9zM237.1 164.6h0.6V165.8h-0.6zM230.7 162.4h0.5V165.8h-0.5zM228.2 161.2h1.0V165.8h-1.0zM231.6 162.1h2.1V165.8h-2.1zM238.7 156.7h1.5V165.8h-1.5zM238.6 160.7h0.8V165.8h-0.8zM230.2 161.5h1.9V165.8h-1.9zM237.9 163.9h0.7V165.8h-0.7zM236.5 161.0h2.2V165.8h-2.2zM225.5 165.2h1.6V165.8h-1.6zM233.5 165.2h1.9V165.8h-1.9zM239.0 164.6h1.7V165.8h-1.7zM227.9 159.1h1.3V165.8h-1.3zM234.0 165.5h0.7V165.8h-0.7zM226.6 164.9h1.9V165.8h-1.9zM233.6 161.5h1.0V165.8h-1.0zM230.9 158.2h0.8V165.8h-0.8zM233.4 159.7h1.7V165.8h-1.7zM239.9 164.1h0.5V165.8h-0.5zM227.2 158.2h1.4V165.8h-1.4zM237.5 164.9h0.6V165.8h-0.6zM237.8 163.8h1.7V165.8h-1.7zM232.4 158.9h0.8V165.8h-0.8zM231.1 162.2h2.1V165.8h-2.1zM226.0 164.7h1.1V165.8h-1.1zM239.0 165.5h1.6V165.8h-1.6zM227.5 163.4h1.1V165.8h-1.1zM234.0 164.1h1.2V165.8h-1.2zM224.9 164.2h1.5V165.8h-1.5zM225.3 164.3h1.45v1.45h-1.45zM234.6 163.6h1.45v1.45h-1.45zM228.6 162.1h1.45v1.45h-1.45zM228.5 161.5h1.45v1.45h-1.45zM232.4 152.2h1.45v1.45h-1.45zM239.4 164.8h1.45v1.45h-1.45zM232.9 159.0h1.45v1.45h-1.45zM237.6 158.9h1.45v1.45h-1.45zM234.0 160.8h1.45v1.45h-1.45zM230.0 163.6h1.45v1.45h-1.45zM236.4 156.6h1.45v1.45h-1.45zM238.6 160.3h1.45v1.45h-1.45zM229.1 159.1h1.45v1.45h-1.45zM235.6 162.0h1.45v1.45h-1.45zM234.0 163.2h1.45v1.45h-1.45zM232.8 162.8h1.45v1.45h-1.45zM225.5 163.2h1.45v1.45h-1.45zM231.7 163.0h1.45v1.45h-1.45zM228.2 163.8h1.45v1.45h-1.45zM229.8 164.3h1.45v1.45h-1.45zM224.7 156.6h1.45v1.45h-1.45zM231.3 162.5h1.45v1.45h-1.45zM233.0 163.4h1.45v1.45h-1.45zM227.1 164.6h1.45v1.45h-1.45zM229.1 163.4h1.45v1.45h-1.45zM235.4 161.7h1.45v1.45h-1.45zM238.5 163.2h1.45v1.45h-1.45zM238.3 161.4h1.45v1.45h-1.45zM225.8 164.1h1.45v1.45h-1.45zM229.9 158.9h1.45v1.45h-1.45zM231.0 156.7h1.45v1.45h-1.45zM225.6 162.2h1.45v1.45h-1.45zM238.0 163.6h1.45v1.45h-1.45zM228.4 164.8h1.45v1.45h-1.45zM227.0 163.6h1.45v1.45h-1.45zM235.1 163.9h1.45v1.45h-1.45zM230.5 164.0h1.45v1.45h-1.45zM233.6 156.9h1.45v1.45h-1.45zM234.2 164.0h1.45v1.45h-1.45zM235.5 151.6h1.45v1.45h-1.45zM233.5 164.6h1.45v1.45h-1.45zM236.6 156.5h1.45v1.45h-1.45zM229.7 164.3h1.45v1.45h-1.45zM227.4 161.8h1.45v1.45h-1.45zM237.6 160.8h1.45v1.45h-1.45zM314.7 162.7h1.0V165.8h-1.0zM319.5 160.7h2.3V165.8h-2.3zM320.1 161.0h2.2V165.8h-2.2zM319.7 164.8h0.6V165.8h-0.6zM313.0 161.0h2.1V165.8h-2.1zM318.8 164.0h1.0V165.8h-1.0zM315.8 164.9h0.6V165.8h-0.6zM316.2 159.8h2.1V165.8h-2.1zM317.2 165.2h0.7V165.8h-0.7zM314.3 163.3h1.9V165.8h-1.9zM320.2 160.0h2.1V165.8h-2.1zM317.4 165.1h2.0V165.8h-2.0zM313.9 163.1h1.5V165.8h-1.5zM314.9 165.5h1.0V165.8h-1.0zM320.5 155.2h1.8V165.8h-1.8zM321.0 160.9h1.3V165.8h-1.3zM316.5 159.0h2.0V165.8h-2.0zM314.2 164.8h0.5V165.8h-0.5zM318.4 165.6h1.2V165.8h-1.2zM320.4 163.4h1.9V165.8h-1.9zM313.3 162.9h2.1V165.8h-2.1zM313.6 162.1h1.1V165.8h-1.1zM320.1 162.2h1.45v1.45h-1.45zM318.0 164.0h1.45v1.45h-1.45zM314.7 155.4h1.45v1.45h-1.45zM315.9 164.4h1.45v1.45h-1.45zM317.6 164.3h1.45v1.45h-1.45zM314.4 162.4h1.45v1.45h-1.45zM317.6 160.8h1.45v1.45h-1.45zM318.6 162.6h1.45v1.45h-1.45zM313.2 159.7h1.45v1.45h-1.45zM313.1 162.3h1.45v1.45h-1.45zM316.0 160.4h1.45v1.45h-1.45zM318.7 163.8h1.45v1.45h-1.45zM318.1 160.2h1.45v1.45h-1.45zM316.6 164.3h1.45v1.45h-1.45zM320.3 161.2h1.45v1.45h-1.45zM313.2 163.8h1.45v1.45h-1.45zM321.0 163.8h1.45v1.45h-1.45zM316.0 158.6h1.45v1.45h-1.45zM319.6 160.8h1.45v1.45h-1.45zM318.9 164.7h1.45v1.45h-1.45zM313.5 149.9h1.45v1.45h-1.45zM319.4 164.7h1.45v1.45h-1.45zM313.1 163.8h1.45v1.45h-1.45zM320.5 163.9h1.45v1.45h-1.45zM318.3 154.2h1.45v1.45h-1.45zM318.0 154.8h1.45v1.45h-1.45zM314.9 164.2h1.45v1.45h-1.45zM312.8 159.2h1.45v1.45h-1.45zM100.3 93.9h1.45v1.45h-1.45zM101.5 97.1h1.45v1.45h-1.45zM100.3 101.0h1.45v1.45h-1.45zM96.7 106.6h1.45v1.45h-1.45zM96.7 107.5h1.45v1.45h-1.45zM106.7 107.9h1.45v1.45h-1.45zM106.7 115.2h1.45v1.45h-1.45zM104.8 117.1h1.45v1.45h-1.45zM101.5 117.9h1.45v1.45h-1.45zM100.3 120.8h1.45v1.45h-1.45zM100.3 122.3h1.45v1.45h-1.45zM100.3 123.3h1.45v1.45h-1.45zM106.7 124.5h1.45v1.45h-1.45zM101.5 138.5h1.45v1.45h-1.45zM103.2 142.5h1.45v1.45h-1.45zM106.7 140.1h1.45v1.45h-1.45zM97.0 145.3h1.45v1.45h-1.45zM105.9 146.7h1.45v1.45h-1.45zM104.1 147.7h1.45v1.45h-1.45zM101.5 148.6h1.45v1.45h-1.45zM102.0 149.5h1.45v1.45h-1.45zM104.7 150.5h1.45v1.45h-1.45zM103.2 151.4h1.45v1.45h-1.45zM104.9 152.3h1.45v1.45h-1.45zM102.4 153.2h1.45v1.45h-1.45zM105.3 154.2h1.45v1.45h-1.45zM105.3 155.1h1.45v1.45h-1.45zM101.7 156.0h1.45v1.45h-1.45zM104.2 157.0h1.45v1.45h-1.45zM102.2 157.9h1.45v1.45h-1.45zM104.8 158.8h1.45v1.45h-1.45zM91.3 149.3h1.45v1.45h-1.45zM94.3 151.3h1.45v1.45h-1.45zM230.6 106.9h1.45v1.45h-1.45zM224.8 126.3h1.45v1.45h-1.45zM230.6 125.0h1.45v1.45h-1.45zM236.8 109.2h1.45v1.45h-1.45zM236.8 113.9h1.45v1.45h-1.45zM236.9 125.2h1.45v1.45h-1.45zM236.9 126.9h1.45v1.45h-1.45zM236.6 128.7h1.45v1.45h-1.45zM236.7 130.4h1.45v1.45h-1.45zM231.0 137.7h1.45v1.45h-1.45zM229.6 139.5h1.45v1.45h-1.45zM230.8 141.2h1.45v1.45h-1.45zM230.0 143.0h1.45v1.45h-1.45zM229.9 144.7h1.45v1.45h-1.45zM229.9 146.5h1.45v1.45h-1.45zM230.2 148.2h1.45v1.45h-1.45zM231.1 149.9h1.45v1.45h-1.45zM229.7 151.7h1.45v1.45h-1.45zM230.8 153.4h1.45v1.45h-1.45zM230.0 155.2h1.45v1.45h-1.45zM229.8 156.9h1.45v1.45h-1.45zM230.7 158.7h1.45v1.45h-1.45zM230.0 160.4h1.45v1.45h-1.45zM235.3 141.3h1.45v1.45h-1.45zM236.2 140.6h1.45v1.45h-1.45zM236.6 143.1h1.45v1.45h-1.45zM237.4 145.7h1.45v1.45h-1.45zM237.5 148.3h1.45v1.45h-1.45zM236.9 150.8h1.45v1.45h-1.45zM235.8 153.4h1.45v1.45h-1.45zM237.3 156.0h1.45v1.45h-1.45zM227.3 146.3h1.45v1.45h-1.45zM318.3 105.1h1.45v1.45h-1.45zM313.9 111.6h1.45v1.45h-1.45zM313.0 119.2h1.45v1.45h-1.45zM313.6 125.0h1.45v1.45h-1.45zM318.3 127.1h1.45v1.45h-1.45zM316.5 129.8h1.45v1.45h-1.45zM313.9 136.0h1.45v1.45h-1.45zM318.3 136.0h1.45v1.45h-1.45zM315.0 139.9h1.45v1.45h-1.45zM317.1 141.1h1.45v1.45h-1.45zM315.7 142.3h1.45v1.45h-1.45zM318.0 143.6h1.45v1.45h-1.45zM314.4 144.8h1.45v1.45h-1.45zM316.5 146.0h1.45v1.45h-1.45zM315.5 147.2h1.45v1.45h-1.45zM317.9 148.4h1.45v1.45h-1.45zM315.5 149.7h1.45v1.45h-1.45zM318.0 150.9h1.45v1.45h-1.45zM318.0 152.1h1.45v1.45h-1.45zM318.2 153.3h1.45v1.45h-1.45zM314.5 154.6h1.45v1.45h-1.45zM318.5 155.8h1.45v1.45h-1.45zM317.5 157.0h1.45v1.45h-1.45zM317.2 158.2h1.45v1.45h-1.45zM317.0 159.4h1.45v1.45h-1.45zM314.0 160.7h1.45v1.45h-1.45z"/>
<path fill="#A0D296" d="M126.7 164.9h1.3V165.8h-1.3zM126.2 159.5h0.6V165.8h-0.6zM122.7 164.3h1.7V165.8h-1.7zM109.8 165.0h0.6V165.8h-0.6zM123.4 163.0h1.3V165.8h-1.3zM129.6 164.7h0.7V165.8h-0.7zM124.2 165.6h0.5V165.8h-0.5zM117.6 164.0h0.7V165.8h-0.7zM114.8 162.4h1.6V165.8h-1.6zM114.3 163.3h1.6V165.8h-1.6zM112.8 164.6h2.2V165.8h-2.2zM113.1 162.0h0.7V165.8h-0.7zM129.1 163.8h1.9V165.8h-1.9zM115.6 161.9h0.5V165.8h-0.5zM122.2 161.9h1.1V165.8h-1.1zM119.6 160.9h2.2V165.8h-2.2zM115.3 165.5h2.1V165.8h-2.1zM121.5 164.6h1.2V165.8h-1.2zM111.1 165.6h1.9V165.8h-1.9zM122.0 165.1h2.2V165.8h-2.2zM114.2 163.1h1.6V165.8h-1.6zM124.0 164.9h2.0V165.8h-2.0zM116.6 165.4h1.0V165.8h-1.0zM129.5 161.1h1.9V165.8h-1.9zM109.9 160.7h2.0V165.8h-2.0zM120.1 163.5h1.8V165.8h-1.8zM114.8 164.7h0.7V165.8h-0.7zM110.7 160.7h1.1V165.8h-1.1zM125.2 161.2h2.0V165.8h-2.0zM115.7 163.6h1.5V165.8h-1.5zM127.2 164.5h1.4V165.8h-1.4zM124.0 164.7h2.2V165.8h-2.2zM129.2 164.5h0.5V165.8h-0.5zM115.0 155.3h1.8V165.8h-1.8zM126.3 158.0h1.1V165.8h-1.1zM117.1 157.1h0.9V165.8h-0.9zM123.7 161.7h1.7V165.8h-1.7zM130.6 159.1h1.3V165.8h-1.3zM125.2 163.6h2.0V165.8h-2.0zM125.8 164.3h1.5V165.8h-1.5zM114.5 165.3h1.6V165.8h-1.6zM129.9 165.5h0.8V165.8h-0.8zM112.2 164.1h2.2V165.8h-2.2zM112.9 165.5h0.6V165.8h-0.6zM125.1 161.3h1.6V165.8h-1.6zM126.1 162.4h0.6V165.8h-0.6zM117.8 159.5h2.0V165.8h-2.0zM129.5 158.4h0.6V165.8h-0.6zM129.7 165.2h2.2V165.8h-2.2zM114.3 165.5h0.7V165.8h-0.7zM128.5 162.0h2.0V165.8h-2.0zM128.0 164.4h1.6V165.8h-1.6zM112.0 160.5h0.7V165.8h-0.7zM114.3 163.6h1.1V165.8h-1.1zM110.0 163.7h1.45v1.45h-1.45zM115.5 159.8h1.45v1.45h-1.45zM117.3 163.3h1.45v1.45h-1.45zM129.9 162.1h1.45v1.45h-1.45zM127.5 161.0h1.45v1.45h-1.45zM110.2 162.7h1.45v1.45h-1.45zM118.8 158.9h1.45v1.45h-1.45zM116.9 160.0h1.45v1.45h-1.45zM120.9 163.9h1.45v1.45h-1.45zM127.8 164.5h1.45v1.45h-1.45zM126.9 164.1h1.45v1.45h-1.45zM109.6 164.0h1.45v1.45h-1.45zM125.7 149.6h1.45v1.45h-1.45zM109.7 162.2h1.45v1.45h-1.45zM119.9 158.5h1.45v1.45h-1.45zM113.5 162.1h1.45v1.45h-1.45zM116.9 157.7h1.45v1.45h-1.45zM115.1 153.3h1.45v1.45h-1.45zM115.6 163.9h1.45v1.45h-1.45zM124.3 162.1h1.45v1.45h-1.45zM111.9 160.8h1.45v1.45h-1.45zM111.3 158.6h1.45v1.45h-1.45zM124.3 158.7h1.45v1.45h-1.45zM122.8 163.1h1.45v1.45h-1.45zM118.0 162.9h1.45v1.45h-1.45zM128.4 164.5h1.45v1.45h-1.45zM128.3 164.8h1.45v1.45h-1.45zM113.9 163.7h1.45v1.45h-1.45zM128.6 162.1h1.45v1.45h-1.45zM117.6 156.2h1.45v1.45h-1.45zM114.5 162.4h1.45v1.45h-1.45zM120.8 159.2h1.45v1.45h-1.45zM125.5 160.7h1.45v1.45h-1.45zM116.9 163.3h1.45v1.45h-1.45zM112.9 157.4h1.45v1.45h-1.45zM123.5 159.4h1.45v1.45h-1.45zM113.2 162.6h1.45v1.45h-1.45zM125.9 161.4h1.45v1.45h-1.45zM112.2 162.4h1.45v1.45h-1.45zM128.3 163.8h1.45v1.45h-1.45zM113.6 163.4h1.45v1.45h-1.45zM124.4 157.4h1.45v1.45h-1.45zM112.8 164.2h1.45v1.45h-1.45zM114.8 163.3h1.45v1.45h-1.45zM120.6 164.2h1.45v1.45h-1.45zM116.5 164.0h1.45v1.45h-1.45zM130.2 159.6h1.45v1.45h-1.45zM111.7 151.7h1.45v1.45h-1.45zM111.7 162.9h1.45v1.45h-1.45zM130.3 158.5h1.45v1.45h-1.45zM125.0 162.6h1.45v1.45h-1.45zM113.7 160.8h1.45v1.45h-1.45zM111.8 164.0h1.45v1.45h-1.45zM117.8 164.8h1.45v1.45h-1.45zM118.0 158.6h1.45v1.45h-1.45zM124.2 162.1h1.45v1.45h-1.45zM122.9 162.4h1.45v1.45h-1.45zM112.6 161.2h1.45v1.45h-1.45zM118.1 159.5h1.45v1.45h-1.45zM128.7 162.6h1.45v1.45h-1.45zM121.7 159.3h1.45v1.45h-1.45zM118.5 163.8h1.45v1.45h-1.45zM124.8 156.4h1.45v1.45h-1.45zM125.9 160.0h1.45v1.45h-1.45zM127.6 160.3h1.45v1.45h-1.45zM123.1 162.5h1.45v1.45h-1.45zM254.8 164.2h0.9V165.8h-0.9zM252.2 163.8h1.7V165.8h-1.7zM251.1 165.4h1.1V165.8h-1.1zM247.0 162.1h0.6V165.8h-0.6zM245.8 162.4h1.4V165.8h-1.4zM244.6 165.6h1.3V165.8h-1.3zM241.6 161.0h1.6V165.8h-1.6zM245.7 165.0h0.7V165.8h-0.7zM242.9 165.3h1.9V165.8h-1.9zM253.2 162.8h1.3V165.8h-1.3zM249.7 161.8h1.5V165.8h-1.5zM249.9 160.8h1.1V165.8h-1.1zM244.6 160.5h1.8V165.8h-1.8zM252.6 160.3h1.1V165.8h-1.1zM254.7 164.4h1.3V165.8h-1.3zM248.7 165.1h2.2V165.8h-2.2zM240.8 161.8h1.4V165.8h-1.4zM244.2 165.3h1.9V165.8h-1.9zM241.1 165.4h0.7V165.8h-0.7zM248.4 164.9h1.5V165.8h-1.5zM254.8 165.0h1.2V165.8h-1.2zM243.4 156.5h1.8V165.8h-1.8zM243.2 160.2h0.6V165.8h-0.6zM244.4 163.1h2.3V165.8h-2.3zM250.4 159.8h1.1V165.8h-1.1zM247.7 157.3h1.1V165.8h-1.1zM242.3 165.4h1.8V165.8h-1.8zM250.6 158.5h1.2V165.8h-1.2zM241.6 163.7h1.5V165.8h-1.5zM253.8 162.1h2.2V165.8h-2.2zM244.1 164.5h1.0V165.8h-1.0zM247.3 164.8h0.9V165.8h-0.9zM252.3 164.3h1.7V165.8h-1.7zM255.1 162.6h0.9V165.8h-0.9zM243.1 158.3h2.1V165.8h-2.1zM244.8 159.4h1.9V165.8h-1.9zM244.5 163.3h1.45v1.45h-1.45zM247.4 156.0h1.45v1.45h-1.45zM242.8 160.3h1.45v1.45h-1.45zM249.0 162.5h1.45v1.45h-1.45zM248.8 156.3h1.45v1.45h-1.45zM243.5 156.2h1.45v1.45h-1.45zM245.6 158.8h1.45v1.45h-1.45zM252.8 164.1h1.45v1.45h-1.45zM244.7 164.8h1.45v1.45h-1.45zM242.1 150.1h1.45v1.45h-1.45zM240.6 155.1h1.45v1.45h-1.45zM242.6 159.5h1.45v1.45h-1.45zM241.9 164.1h1.45v1.45h-1.45zM250.2 164.5h1.45v1.45h-1.45zM245.3 154.8h1.45v1.45h-1.45zM250.7 156.3h1.45v1.45h-1.45zM254.5 164.8h1.45v1.45h-1.45zM243.8 158.6h1.45v1.45h-1.45zM250.3 164.7h1.45v1.45h-1.45zM247.7 163.8h1.45v1.45h-1.45zM246.6 164.4h1.45v1.45h-1.45zM245.0 156.4h1.45v1.45h-1.45zM242.2 162.2h1.45v1.45h-1.45zM242.4 162.6h1.45v1.45h-1.45zM243.0 160.2h1.45v1.45h-1.45zM242.6 159.5h1.45v1.45h-1.45zM247.6 164.4h1.45v1.45h-1.45zM245.5 162.1h1.45v1.45h-1.45zM253.6 163.2h1.45v1.45h-1.45zM243.6 151.1h1.45v1.45h-1.45zM253.1 159.6h1.45v1.45h-1.45zM244.4 164.1h1.45v1.45h-1.45zM244.3 164.6h1.45v1.45h-1.45zM241.1 162.0h1.45v1.45h-1.45zM246.3 161.6h1.45v1.45h-1.45zM245.7 164.8h1.45v1.45h-1.45zM250.3 160.6h1.45v1.45h-1.45zM248.3 161.7h1.45v1.45h-1.45zM253.0 159.8h1.45v1.45h-1.45zM246.2 163.3h1.45v1.45h-1.45zM246.5 150.4h1.45v1.45h-1.45zM246.0 162.9h1.45v1.45h-1.45zM323.2 161.2h2.3V165.8h-2.3zM324.0 165.0h2.0V165.8h-2.0zM326.9 160.1h0.7V165.8h-0.7zM329.2 165.6h2.1V165.8h-2.1zM329.8 159.5h1.5V165.8h-1.5zM326.8 162.4h1.6V165.8h-1.6zM329.5 165.4h0.6V165.8h-0.6zM327.2 163.8h1.0V165.8h-1.0zM322.4 165.5h1.8V165.8h-1.8zM329.3 163.4h2.0V165.8h-2.0zM323.4 164.8h1.7V165.8h-1.7zM326.2 152.2h0.7V165.8h-0.7zM327.2 165.3h1.1V165.8h-1.1zM328.9 158.9h2.0V165.8h-2.0zM323.2 164.3h1.2V165.8h-1.2zM329.2 162.3h0.8V165.8h-0.8zM329.4 165.6h1.9V165.8h-1.9zM323.0 161.4h0.7V165.8h-0.7zM327.7 163.4h1.4V165.8h-1.4zM326.0 161.9h1.6V165.8h-1.6zM329.5 159.9h1.8V165.8h-1.8zM329.3 161.1h2.0V165.8h-2.0zM322.3 160.3h1.45v1.45h-1.45zM328.9 162.6h1.45v1.45h-1.45zM329.1 164.1h1.45v1.45h-1.45zM329.6 162.5h1.45v1.45h-1.45zM327.7 163.7h1.45v1.45h-1.45zM324.5 163.2h1.45v1.45h-1.45zM324.7 164.5h1.45v1.45h-1.45zM327.3 154.1h1.45v1.45h-1.45zM328.2 157.6h1.45v1.45h-1.45zM330.0 159.3h1.45v1.45h-1.45zM324.3 163.7h1.45v1.45h-1.45zM325.4 164.8h1.45v1.45h-1.45zM323.9 156.1h1.45v1.45h-1.45zM329.4 163.3h1.45v1.45h-1.45zM328.2 158.9h1.45v1.45h-1.45zM329.2 158.5h1.45v1.45h-1.45zM326.3 164.4h1.45v1.45h-1.45zM328.7 163.4h1.45v1.45h-1.45zM327.1 163.0h1.45v1.45h-1.45zM326.4 151.3h1.45v1.45h-1.45zM323.4 161.8h1.45v1.45h-1.45zM327.3 161.8h1.45v1.45h-1.45zM329.6 162.8h1.45v1.45h-1.45zM329.4 160.2h1.45v1.45h-1.45zM329.8 164.5h1.45v1.45h-1.45zM323.8 163.5h1.45v1.45h-1.45zM120.9 90.2h1.45v1.45h-1.45zM122.1 102.3h1.45v1.45h-1.45zM122.1 124.0h1.45v1.45h-1.45zM118.4 138.2h1.45v1.45h-1.45zM118.4 145.8h1.45v1.45h-1.45zM118.4 147.8h1.45v1.45h-1.45zM125.3 149.3h1.45v1.45h-1.45zM127.3 151.3h1.45v1.45h-1.45zM126.3 150.3h1.45v1.45h-1.45zM114.3 152.3h1.45v1.45h-1.45zM123.3 153.3h1.45v1.45h-1.45zM248.7 108.1h1.45v1.45h-1.45zM249.2 116.9h1.45v1.45h-1.45zM253.5 120.1h1.45v1.45h-1.45zM252.2 127.7h1.45v1.45h-1.45zM248.7 130.1h1.45v1.45h-1.45zM254.3 143.9h1.45v1.45h-1.45zM254.9 145.3h1.45v1.45h-1.45zM248.3 146.3h1.45v1.45h-1.45zM250.3 149.3h1.45v1.45h-1.45zM252.3 150.3h1.45v1.45h-1.45zM329.3 138.8h1.45v1.45h-1.45zM330.3 145.6h1.45v1.45h-1.45zM327.3 149.3h1.45v1.45h-1.45zM329.8 151.3h1.45v1.45h-1.45zM325.3 155.3h1.45v1.45h-1.45z"/>
<path fill="#788CC3" d="M138.5 165.2h1.6V165.8h-1.6zM140.7 161.1h1.9V165.8h-1.9zM145.1 163.6h1.0V165.8h-1.0zM141.5 163.7h1.6V165.8h-1.6zM146.1 164.9h2.2V165.8h-2.2zM145.6 163.9h1.9V165.8h-1.9zM142.2 165.5h2.3V165.8h-2.3zM143.3 160.2h0.8V165.8h-0.8zM151.5 165.2h1.4V165.8h-1.4zM144.0 161.1h1.5V165.8h-1.5zM142.7 159.3h1.7V165.8h-1.7zM142.9 155.0h1.2V165.8h-1.2zM136.3 163.8h1.7V165.8h-1.7zM139.4 164.5h0.6V165.8h-0.6zM140.3 163.7h0.5V165.8h-0.5zM140.7 164.1h1.8V165.8h-1.8zM137.5 160.8h0.9V165.8h-0.9zM151.5 164.7h1.4V165.8h-1.4zM148.7 164.8h1.2V165.8h-1.2zM134.6 159.7h1.9V165.8h-1.9zM145.2 162.7h1.3V165.8h-1.3zM136.6 164.1h2.2V165.8h-2.2zM145.3 159.6h2.0V165.8h-2.0zM141.7 162.8h1.0V165.8h-1.0zM134.5 164.0h2.0V165.8h-2.0zM149.8 163.9h1.0V165.8h-1.0zM137.2 164.9h1.3V165.8h-1.3zM132.0 164.4h1.8V165.8h-1.8zM137.0 163.3h1.0V165.8h-1.0zM140.9 161.8h1.6V165.8h-1.6zM139.5 158.7h2.2V165.8h-2.2zM133.1 157.2h2.0V165.8h-2.0zM148.4 159.2h0.8V165.8h-0.8zM145.2 165.6h0.5V165.8h-0.5zM151.2 164.6h1.7V165.8h-1.7zM134.0 164.7h0.8V165.8h-0.8zM148.2 165.0h1.1V165.8h-1.1zM150.9 165.0h1.9V165.8h-1.9zM150.6 160.2h1.6V165.8h-1.6zM145.9 160.1h2.1V165.8h-2.1zM149.5 161.4h0.9V165.8h-0.9zM143.0 163.6h1.8V165.8h-1.8zM150.4 164.5h1.5V165.8h-1.5zM136.8 163.2h0.8V165.8h-0.8zM133.1 165.1h1.3V165.8h-1.3zM142.2 162.8h1.4V165.8h-1.4zM150.0 159.0h0.5V165.8h-0.5zM141.7 161.7h1.5V165.8h-1.5zM149.6 163.7h1.2V165.8h-1.2zM152.1 162.0h0.6V165.8h-0.6zM145.3 162.2h0.6V165.8h-0.6zM145.3 154.1h1.45v1.45h-1.45zM141.9 162.2h1.45v1.45h-1.45zM149.6 164.8h1.45v1.45h-1.45zM146.0 160.9h1.45v1.45h-1.45zM138.4 156.9h1.45v1.45h-1.45zM139.0 162.3h1.45v1.45h-1.45zM142.2 159.0h1.45v1.45h-1.45zM135.9 162.6h1.45v1.45h-1.45zM140.1 161.6h1.45v1.45h-1.45zM148.2 163.5h1.45v1.45h-1.45zM148.2 162.8h1.45v1.45h-1.45zM141.7 163.6h1.45v1.45h-1.45zM141.8 150.0h1.45v1.45h-1.45zM144.8 158.6h1.45v1.45h-1.45zM138.3 163.4h1.45v1.45h-1.45zM137.7 161.3h1.45v1.45h-1.45zM144.4 158.7h1.45v1.45h-1.45zM132.5 159.7h1.45v1.45h-1.45zM149.4 161.7h1.45v1.45h-1.45zM132.7 163.5h1.45v1.45h-1.45zM131.8 164.0h1.45v1.45h-1.45zM150.1 161.1h1.45v1.45h-1.45zM144.8 158.6h1.45v1.45h-1.45zM149.9 161.1h1.45v1.45h-1.45zM144.0 160.9h1.45v1.45h-1.45zM145.6 161.2h1.45v1.45h-1.45zM145.3 163.9h1.45v1.45h-1.45zM145.0 162.4h1.45v1.45h-1.45zM146.9 164.5h1.45v1.45h-1.45zM135.3 164.7h1.45v1.45h-1.45zM147.2 155.0h1.45v1.45h-1.45zM144.8 163.0h1.45v1.45h-1.45zM148.1 158.7h1.45v1.45h-1.45zM142.9 163.7h1.45v1.45h-1.45zM137.7 162.7h1.45v1.45h-1.45zM138.0 162.6h1.45v1.45h-1.45zM144.5 154.0h1.45v1.45h-1.45zM132.8 161.5h1.45v1.45h-1.45zM132.5 164.4h1.45v1.45h-1.45zM147.9 161.4h1.45v1.45h-1.45zM150.0 162.5h1.45v1.45h-1.45zM132.0 162.9h1.45v1.45h-1.45zM143.5 153.7h1.45v1.45h-1.45zM151.3 162.3h1.45v1.45h-1.45zM139.9 164.5h1.45v1.45h-1.45zM144.6 163.9h1.45v1.45h-1.45zM134.7 164.8h1.45v1.45h-1.45zM131.8 160.3h1.45v1.45h-1.45zM134.1 151.2h1.45v1.45h-1.45zM133.4 156.7h1.45v1.45h-1.45zM134.3 164.8h1.45v1.45h-1.45zM146.1 163.8h1.45v1.45h-1.45zM146.3 164.1h1.45v1.45h-1.45zM132.7 158.9h1.45v1.45h-1.45zM145.9 157.1h1.45v1.45h-1.45zM146.3 164.5h1.45v1.45h-1.45zM144.2 159.9h1.45v1.45h-1.45zM140.9 154.1h1.45v1.45h-1.45zM136.8 151.5h1.45v1.45h-1.45zM146.0 164.8h1.45v1.45h-1.45zM132.0 160.7h1.45v1.45h-1.45zM148.0 164.6h1.45v1.45h-1.45zM256.1 156.3h1.6V165.8h-1.6zM260.0 163.9h1.6V165.8h-1.6zM259.8 165.2h0.9V165.8h-0.9zM269.3 157.1h1.9V165.8h-1.9zM256.8 164.2h1.7V165.8h-1.7zM266.2 164.3h1.5V165.8h-1.5zM271.3 160.7h0.5V165.8h-0.5zM269.5 162.4h1.4V165.8h-1.4zM270.9 162.1h0.9V165.8h-0.9zM267.7 161.2h1.2V165.8h-1.2zM262.2 162.2h1.4V165.8h-1.4zM266.7 162.1h1.1V165.8h-1.1zM264.6 162.2h0.9V165.8h-0.9zM260.2 163.3h2.1V165.8h-2.1zM267.4 163.3h1.4V165.8h-1.4zM259.5 156.2h0.8V165.8h-0.8zM264.4 162.9h1.4V165.8h-1.4zM268.9 164.9h0.9V165.8h-0.9zM269.0 162.0h1.3V165.8h-1.3zM269.1 158.4h2.1V165.8h-2.1zM256.7 159.2h1.2V165.8h-1.2zM268.9 165.0h0.7V165.8h-0.7zM260.0 164.0h0.7V165.8h-0.7zM268.7 163.5h1.4V165.8h-1.4zM267.0 163.3h1.3V165.8h-1.3zM268.6 165.0h1.9V165.8h-1.9zM266.7 163.0h1.2V165.8h-1.2zM259.8 164.1h1.2V165.8h-1.2zM262.0 164.8h0.5V165.8h-0.5zM265.0 164.9h0.6V165.8h-0.6zM267.3 164.2h1.0V165.8h-1.0zM259.8 165.3h2.0V165.8h-2.0zM266.1 164.8h2.0V165.8h-2.0zM262.7 162.2h1.9V165.8h-1.9zM261.9 163.5h0.6V165.8h-0.6zM261.8 164.4h1.8V165.8h-1.8zM262.4 159.7h1.7V165.8h-1.7zM261.0 162.9h1.45v1.45h-1.45zM264.3 154.5h1.45v1.45h-1.45zM258.6 150.6h1.45v1.45h-1.45zM266.3 163.0h1.45v1.45h-1.45zM265.6 163.3h1.45v1.45h-1.45zM256.8 159.2h1.45v1.45h-1.45zM261.4 161.9h1.45v1.45h-1.45zM263.1 155.6h1.45v1.45h-1.45zM267.0 164.8h1.45v1.45h-1.45zM264.5 162.4h1.45v1.45h-1.45zM262.6 157.5h1.45v1.45h-1.45zM261.9 162.3h1.45v1.45h-1.45zM269.0 162.6h1.45v1.45h-1.45zM263.0 162.0h1.45v1.45h-1.45zM268.0 160.4h1.45v1.45h-1.45zM266.7 162.8h1.45v1.45h-1.45zM256.4 160.3h1.45v1.45h-1.45zM264.0 159.0h1.45v1.45h-1.45zM267.2 164.4h1.45v1.45h-1.45zM259.0 164.6h1.45v1.45h-1.45zM267.9 164.5h1.45v1.45h-1.45zM257.1 159.3h1.45v1.45h-1.45zM264.1 164.7h1.45v1.45h-1.45zM265.9 159.9h1.45v1.45h-1.45zM262.9 164.7h1.45v1.45h-1.45zM266.0 162.7h1.45v1.45h-1.45zM267.9 156.6h1.45v1.45h-1.45zM257.9 163.3h1.45v1.45h-1.45zM263.4 164.9h1.45v1.45h-1.45zM270.4 163.6h1.45v1.45h-1.45zM259.7 163.4h1.45v1.45h-1.45zM259.5 157.0h1.45v1.45h-1.45zM264.0 162.0h1.45v1.45h-1.45zM262.0 164.7h1.45v1.45h-1.45zM260.3 156.8h1.45v1.45h-1.45zM267.6 157.1h1.45v1.45h-1.45zM259.6 164.0h1.45v1.45h-1.45zM256.5 161.8h1.45v1.45h-1.45zM261.3 162.4h1.45v1.45h-1.45zM263.0 161.4h1.45v1.45h-1.45zM261.2 158.4h1.45v1.45h-1.45zM258.7 154.8h1.45v1.45h-1.45zM264.0 164.7h1.45v1.45h-1.45zM260.4 161.8h1.45v1.45h-1.45zM261.8 161.5h1.45v1.45h-1.45zM260.6 163.6h1.45v1.45h-1.45zM337.7 164.5h0.5V165.8h-0.5zM336.1 164.9h2.3V165.8h-2.3zM334.4 161.4h1.7V165.8h-1.7zM336.5 164.6h1.9V165.8h-1.9zM333.1 161.4h0.5V165.8h-0.5zM332.8 153.7h1.0V165.8h-1.0zM335.9 161.8h1.6V165.8h-1.6zM335.5 164.3h1.8V165.8h-1.8zM331.8 165.6h0.6V165.8h-0.6zM333.9 165.2h0.8V165.8h-0.8zM334.8 161.5h2.2V165.8h-2.2zM333.2 164.9h1.9V165.8h-1.9zM332.0 163.7h1.0V165.8h-1.0zM336.2 161.0h1.3V165.8h-1.3zM332.0 164.1h2.2V165.8h-2.2zM337.2 159.3h0.6V165.8h-0.6zM332.9 159.8h2.0V165.8h-2.0zM335.2 163.6h1.45v1.45h-1.45zM331.1 164.0h1.45v1.45h-1.45zM336.6 164.2h1.45v1.45h-1.45zM335.1 161.3h1.45v1.45h-1.45zM335.1 164.1h1.45v1.45h-1.45zM332.0 164.5h1.45v1.45h-1.45zM337.1 162.9h1.45v1.45h-1.45zM335.1 161.5h1.45v1.45h-1.45zM332.4 164.6h1.45v1.45h-1.45zM331.2 157.2h1.45v1.45h-1.45zM331.9 151.6h1.45v1.45h-1.45zM333.3 159.7h1.45v1.45h-1.45zM331.9 158.6h1.45v1.45h-1.45zM332.6 163.1h1.45v1.45h-1.45zM334.3 164.4h1.45v1.45h-1.45zM332.6 158.5h1.45v1.45h-1.45zM332.8 163.0h1.45v1.45h-1.45zM335.7 163.9h1.45v1.45h-1.45zM332.3 163.9h1.45v1.45h-1.45zM333.4 163.1h1.45v1.45h-1.45zM335.0 162.3h1.45v1.45h-1.45zM132.1 115.2h1.45v1.45h-1.45zM137.0 133.2h1.45v1.45h-1.45zM132.1 140.1h1.45v1.45h-1.45zM132.1 142.5h1.45v1.45h-1.45zM132.1 147.3h1.45v1.45h-1.45zM147.4 144.5h1.45v1.45h-1.45zM137.3 153.3h1.45v1.45h-1.45zM139.3 155.3h1.45v1.45h-1.45zM141.3 156.3h1.45v1.45h-1.45zM143.3 154.3h1.45v1.45h-1.45zM135.3 155.3h1.45v1.45h-1.45zM261.9 113.6h1.45v1.45h-1.45zM263.7 123.1h1.45v1.45h-1.45zM261.9 132.5h1.45v1.45h-1.45zM262.0 134.6h1.45v1.45h-1.45zM262.1 136.6h1.45v1.45h-1.45zM261.8 138.7h1.45v1.45h-1.45zM262.0 140.8h1.45v1.45h-1.45zM262.0 142.8h1.45v1.45h-1.45zM261.3 146.2h1.45v1.45h-1.45zM261.6 147.9h1.45v1.45h-1.45zM261.6 149.7h1.45v1.45h-1.45zM261.5 151.4h1.45v1.45h-1.45zM261.6 153.2h1.45v1.45h-1.45zM260.9 154.9h1.45v1.45h-1.45zM261.2 156.7h1.45v1.45h-1.45zM262.9 158.4h1.45v1.45h-1.45zM269.8 133.3h1.45v1.45h-1.45zM269.3 145.3h1.45v1.45h-1.45zM269.3 147.3h1.45v1.45h-1.45zM269.3 149.3h1.45v1.45h-1.45zM337.3 106.6h1.45v1.45h-1.45zM337.3 110.8h1.45v1.45h-1.45zM336.2 124.5h1.45v1.45h-1.45zM335.8 129.7h1.45v1.45h-1.45zM336.2 135.5h1.45v1.45h-1.45zM336.4 140.1h1.45v1.45h-1.45zM335.9 141.8h1.45v1.45h-1.45zM335.7 143.4h1.45v1.45h-1.45zM335.5 145.1h1.45v1.45h-1.45zM336.2 146.8h1.45v1.45h-1.45zM336.2 148.4h1.45v1.45h-1.45zM336.4 150.1h1.45v1.45h-1.45zM335.3 151.8h1.45v1.45h-1.45zM335.5 153.4h1.45v1.45h-1.45zM335.4 155.1h1.45v1.45h-1.45zM335.1 156.8h1.45v1.45h-1.45zM335.5 158.4h1.45v1.45h-1.45z"/>
<path fill="#414B9B" d="M159.1 165.0h1.8V165.8h-1.8zM170.0 165.4h1.4V165.8h-1.4zM160.2 163.5h1.5V165.8h-1.5zM166.4 159.9h0.8V165.8h-0.8zM160.1 162.1h1.7V165.8h-1.7zM161.2 160.1h1.2V165.8h-1.2zM170.9 162.6h1.9V165.8h-1.9zM158.7 152.6h0.6V165.8h-0.6zM166.9 164.2h2.0V165.8h-2.0zM165.0 159.2h2.3V165.8h-2.3zM164.9 163.6h1.1V165.8h-1.1zM170.6 161.5h1.2V165.8h-1.2zM164.9 159.7h2.1V165.8h-2.1zM158.5 164.5h0.5V165.8h-0.5zM161.3 159.6h1.6V165.8h-1.6zM170.6 159.2h0.6V165.8h-0.6zM169.1 162.6h2.1V165.8h-2.1zM158.3 159.7h2.0V165.8h-2.0zM166.5 164.1h2.1V165.8h-2.1zM154.6 159.9h1.5V165.8h-1.5zM156.9 156.0h1.9V165.8h-1.9zM157.6 161.6h1.6V165.8h-1.6zM162.2 164.6h0.9V165.8h-0.9zM167.8 163.4h1.9V165.8h-1.9zM154.6 160.3h2.0V165.8h-2.0zM157.5 157.5h1.5V165.8h-1.5zM170.5 163.3h1.4V165.8h-1.4zM164.6 164.9h0.8V165.8h-0.8zM156.5 164.0h1.8V165.8h-1.8zM164.1 163.0h1.2V165.8h-1.2zM160.3 162.0h0.7V165.8h-0.7zM168.6 162.4h0.8V165.8h-0.8zM159.8 165.5h1.4V165.8h-1.4zM153.6 158.4h2.3V165.8h-2.3zM162.6 164.5h1.5V165.8h-1.5zM168.4 155.1h1.3V165.8h-1.3zM168.2 153.8h2.0V165.8h-2.0zM158.0 164.8h0.6V165.8h-0.6zM156.5 165.4h0.7V165.8h-0.7zM164.0 163.4h2.1V165.8h-2.1zM170.7 165.4h2.1V165.8h-2.1zM164.8 165.2h1.2V165.8h-1.2zM171.8 162.6h1.0V165.8h-1.0zM165.6 161.7h2.2V165.8h-2.2zM160.7 165.0h1.3V165.8h-1.3zM170.5 164.7h2.3V165.8h-2.3zM153.7 164.1h1.0V165.8h-1.0zM170.7 159.1h2.1V165.8h-2.1zM153.6 158.7h1.45v1.45h-1.45zM166.1 160.7h1.45v1.45h-1.45zM171.3 164.7h1.45v1.45h-1.45zM155.4 159.2h1.45v1.45h-1.45zM170.4 160.3h1.45v1.45h-1.45zM158.3 161.3h1.45v1.45h-1.45zM167.0 164.4h1.45v1.45h-1.45zM158.8 163.7h1.45v1.45h-1.45zM155.0 162.2h1.45v1.45h-1.45zM155.9 163.8h1.45v1.45h-1.45zM155.4 160.3h1.45v1.45h-1.45zM152.9 159.8h1.45v1.45h-1.45zM156.4 164.7h1.45v1.45h-1.45zM170.2 163.9h1.45v1.45h-1.45zM170.3 156.8h1.45v1.45h-1.45zM169.5 164.3h1.45v1.45h-1.45zM161.1 164.5h1.45v1.45h-1.45zM170.2 157.5h1.45v1.45h-1.45zM164.6 162.5h1.45v1.45h-1.45zM159.1 157.9h1.45v1.45h-1.45zM161.7 160.9h1.45v1.45h-1.45zM155.4 163.9h1.45v1.45h-1.45zM153.7 159.9h1.45v1.45h-1.45zM163.1 164.3h1.45v1.45h-1.45zM169.1 163.6h1.45v1.45h-1.45zM160.5 164.2h1.45v1.45h-1.45zM157.8 157.5h1.45v1.45h-1.45zM159.0 164.2h1.45v1.45h-1.45zM162.0 163.3h1.45v1.45h-1.45zM169.7 164.4h1.45v1.45h-1.45zM171.2 164.7h1.45v1.45h-1.45zM169.6 160.4h1.45v1.45h-1.45zM156.7 162.3h1.45v1.45h-1.45zM158.1 163.7h1.45v1.45h-1.45zM156.5 163.1h1.45v1.45h-1.45zM170.2 164.5h1.45v1.45h-1.45zM158.1 155.8h1.45v1.45h-1.45zM153.8 159.7h1.45v1.45h-1.45zM158.2 149.4h1.45v1.45h-1.45zM153.0 158.3h1.45v1.45h-1.45zM159.1 164.3h1.45v1.45h-1.45zM152.7 157.7h1.45v1.45h-1.45zM162.6 164.1h1.45v1.45h-1.45zM160.9 155.1h1.45v1.45h-1.45zM156.8 161.5h1.45v1.45h-1.45zM155.3 164.1h1.45v1.45h-1.45zM167.2 159.9h1.45v1.45h-1.45zM156.4 164.6h1.45v1.45h-1.45zM154.3 161.1h1.45v1.45h-1.45zM162.0 163.6h1.45v1.45h-1.45zM156.6 161.1h1.45v1.45h-1.45zM166.1 158.2h1.45v1.45h-1.45zM163.7 164.0h1.45v1.45h-1.45zM153.9 159.6h1.45v1.45h-1.45zM160.4 159.7h1.45v1.45h-1.45zM153.7 158.2h1.45v1.45h-1.45zM159.0 157.5h1.45v1.45h-1.45zM169.0 162.2h1.45v1.45h-1.45zM280.6 161.2h1.0V165.8h-1.0zM280.6 163.4h1.6V165.8h-1.6zM281.5 158.1h1.3V165.8h-1.3zM272.4 162.0h1.3V165.8h-1.3zM272.3 165.3h2.1V165.8h-2.1zM278.4 156.5h0.8V165.8h-0.8zM278.0 163.1h1.9V165.8h-1.9zM279.2 164.4h1.7V165.8h-1.7zM274.1 165.1h2.0V165.8h-2.0zM281.9 165.2h0.9V165.8h-0.9zM272.8 154.8h1.9V165.8h-1.9zM276.4 164.5h1.7V165.8h-1.7zM281.1 165.0h1.7V165.8h-1.7zM272.4 165.5h1.8V165.8h-1.8zM281.0 164.7h1.0V165.8h-1.0zM278.2 162.7h1.1V165.8h-1.1zM273.5 164.2h2.1V165.8h-2.1zM281.1 159.9h0.8V165.8h-0.8zM281.6 165.5h1.2V165.8h-1.2zM276.0 164.7h1.7V165.8h-1.7zM277.8 163.4h0.7V165.8h-0.7zM279.8 161.6h1.3V165.8h-1.3zM273.1 165.1h2.0V165.8h-2.0zM280.5 155.6h2.3V165.8h-2.3zM277.6 164.1h1.0V165.8h-1.0zM280.1 156.1h1.4V165.8h-1.4zM272.8 158.5h1.4V165.8h-1.4zM277.6 161.8h1.45v1.45h-1.45zM272.5 164.3h1.45v1.45h-1.45zM274.3 155.9h1.45v1.45h-1.45zM280.0 163.9h1.45v1.45h-1.45zM280.8 164.8h1.45v1.45h-1.45zM277.6 151.1h1.45v1.45h-1.45zM275.0 153.3h1.45v1.45h-1.45zM278.1 164.7h1.45v1.45h-1.45zM274.9 162.5h1.45v1.45h-1.45zM274.0 159.4h1.45v1.45h-1.45zM273.4 158.7h1.45v1.45h-1.45zM274.6 164.6h1.45v1.45h-1.45zM277.2 164.5h1.45v1.45h-1.45zM277.1 158.6h1.45v1.45h-1.45zM277.5 162.4h1.45v1.45h-1.45zM271.9 162.0h1.45v1.45h-1.45zM272.5 160.7h1.45v1.45h-1.45zM272.9 161.4h1.45v1.45h-1.45zM275.1 163.0h1.45v1.45h-1.45zM278.2 164.2h1.45v1.45h-1.45zM273.3 153.5h1.45v1.45h-1.45zM274.9 157.5h1.45v1.45h-1.45zM280.3 162.3h1.45v1.45h-1.45zM273.1 164.5h1.45v1.45h-1.45zM280.4 164.4h1.45v1.45h-1.45zM276.5 161.8h1.45v1.45h-1.45zM272.8 162.4h1.45v1.45h-1.45zM273.2 161.8h1.45v1.45h-1.45zM276.6 163.1h1.45v1.45h-1.45zM273.6 162.8h1.45v1.45h-1.45zM273.6 164.3h1.45v1.45h-1.45zM274.0 156.6h1.45v1.45h-1.45zM276.6 156.0h1.45v1.45h-1.45zM345.2 161.7h0.6V165.8h-0.6zM344.9 165.5h0.9V165.8h-0.9zM341.8 163.4h0.7V165.8h-0.7zM343.9 165.2h0.7V165.8h-0.7zM342.1 164.7h0.8V165.8h-0.8zM341.8 165.4h0.7V165.8h-0.7zM341.2 155.7h1.3V165.8h-1.3zM342.7 164.7h0.6V165.8h-0.6zM344.2 158.3h1.5V165.8h-1.5zM344.2 165.2h2.0V165.8h-2.0zM344.8 164.6h1.4V165.8h-1.4zM339.7 164.8h2.1V165.8h-2.1zM339.0 156.4h1.0V165.8h-1.0zM342.0 165.3h1.8V165.8h-1.8zM341.9 164.8h1.1V165.8h-1.1zM343.6 165.2h1.2V165.8h-1.2zM344.8 164.9h1.4V165.8h-1.4zM338.5 163.0h1.7V165.8h-1.7zM338.6 160.8h1.3V165.8h-1.3zM341.8 163.8h1.45v1.45h-1.45zM341.6 161.2h1.45v1.45h-1.45zM342.6 164.3h1.45v1.45h-1.45zM343.6 153.2h1.45v1.45h-1.45zM343.2 157.1h1.45v1.45h-1.45zM340.7 155.5h1.45v1.45h-1.45zM339.4 163.9h1.45v1.45h-1.45zM342.2 155.6h1.45v1.45h-1.45zM338.7 163.9h1.45v1.45h-1.45zM338.4 162.6h1.45v1.45h-1.45zM339.1 164.0h1.45v1.45h-1.45zM343.3 161.4h1.45v1.45h-1.45zM344.6 162.8h1.45v1.45h-1.45zM342.8 164.8h1.45v1.45h-1.45zM344.6 163.8h1.45v1.45h-1.45zM341.4 162.0h1.45v1.45h-1.45zM344.6 162.2h1.45v1.45h-1.45zM344.9 161.0h1.45v1.45h-1.45zM339.6 157.7h1.45v1.45h-1.45zM341.3 163.9h1.45v1.45h-1.45zM344.7 163.3h1.45v1.45h-1.45zM340.9 163.2h1.45v1.45h-1.45zM156.7 112.0h1.45v1.45h-1.45zM156.7 114.3h1.45v1.45h-1.45zM156.4 116.8h1.45v1.45h-1.45zM156.4 118.3h1.45v1.45h-1.45zM156.7 119.8h1.45v1.45h-1.45zM156.6 121.3h1.45v1.45h-1.45zM156.4 123.3h1.45v1.45h-1.45zM156.4 125.3h1.45v1.45h-1.45zM156.6 126.8h1.45v1.45h-1.45zM156.4 128.3h1.45v1.45h-1.45zM156.6 129.8h1.45v1.45h-1.45zM156.4 131.3h1.45v1.45h-1.45zM156.5 132.8h1.45v1.45h-1.45zM156.5 134.3h1.45v1.45h-1.45zM156.6 135.8h1.45v1.45h-1.45zM156.7 137.3h1.45v1.45h-1.45zM156.3 138.8h1.45v1.45h-1.45zM156.7 140.3h1.45v1.45h-1.45zM156.4 141.8h1.45v1.45h-1.45zM156.5 143.3h1.45v1.45h-1.45zM156.6 144.8h1.45v1.45h-1.45zM156.7 146.3h1.45v1.45h-1.45zM156.6 147.8h1.45v1.45h-1.45zM157.3 148.6h1.45v1.45h-1.45zM156.0 149.1h1.45v1.45h-1.45zM156.2 149.7h1.45v1.45h-1.45zM156.9 150.3h1.45v1.45h-1.45zM156.1 150.8h1.45v1.45h-1.45zM156.0 151.4h1.45v1.45h-1.45zM156.1 152.0h1.45v1.45h-1.45zM157.1 152.5h1.45v1.45h-1.45zM157.2 153.1h1.45v1.45h-1.45zM157.0 153.7h1.45v1.45h-1.45zM157.4 154.2h1.45v1.45h-1.45zM157.1 154.8h1.45v1.45h-1.45zM156.2 155.4h1.45v1.45h-1.45zM156.2 155.9h1.45v1.45h-1.45zM157.0 156.5h1.45v1.45h-1.45zM155.8 157.1h1.45v1.45h-1.45zM156.8 157.6h1.45v1.45h-1.45zM155.8 158.2h1.45v1.45h-1.45zM155.8 158.8h1.45v1.45h-1.45zM156.6 159.3h1.45v1.45h-1.45zM155.9 159.9h1.45v1.45h-1.45zM157.4 160.5h1.45v1.45h-1.45zM157.3 161.0h1.45v1.45h-1.45zM156.5 161.6h1.45v1.45h-1.45zM156.0 162.2h1.45v1.45h-1.45zM155.9 162.7h1.45v1.45h-1.45zM156.6 163.3h1.45v1.45h-1.45zM156.6 163.9h1.45v1.45h-1.45zM156.3 164.4h1.45v1.45h-1.45zM157.0 165.0h1.45v1.45h-1.45zM156.6 151.5h1.45v1.45h-1.45zM157.6 152.1h1.45v1.45h-1.45zM154.9 152.6h1.45v1.45h-1.45zM154.8 153.2h1.45v1.45h-1.45zM156.0 153.7h1.45v1.45h-1.45zM156.4 154.2h1.45v1.45h-1.45zM155.5 154.8h1.45v1.45h-1.45zM157.1 155.3h1.45v1.45h-1.45zM155.4 155.9h1.45v1.45h-1.45zM155.7 156.4h1.45v1.45h-1.45zM156.4 156.9h1.45v1.45h-1.45zM157.3 157.5h1.45v1.45h-1.45zM157.6 158.0h1.45v1.45h-1.45zM156.0 158.5h1.45v1.45h-1.45zM156.3 159.1h1.45v1.45h-1.45zM158.2 159.6h1.45v1.45h-1.45zM158.2 160.2h1.45v1.45h-1.45zM156.9 160.7h1.45v1.45h-1.45zM154.9 161.2h1.45v1.45h-1.45zM156.3 161.8h1.45v1.45h-1.45zM157.0 162.3h1.45v1.45h-1.45zM155.6 162.9h1.45v1.45h-1.45zM154.6 163.4h1.45v1.45h-1.45zM158.4 163.9h1.45v1.45h-1.45zM158.1 164.5h1.45v1.45h-1.45zM155.0 165.0h1.45v1.45h-1.45zM157.9 105.2h1.45v1.45h-1.45zM152.6 124.0h1.45v1.45h-1.45zM154.2 130.1h1.45v1.45h-1.45zM170.8 72.8h1.45v1.45h-1.45zM171.6 107.4h1.45v1.45h-1.45zM171.5 121.2h1.45v1.45h-1.45zM171.5 123.8h1.45v1.45h-1.45zM171.4 126.3h1.45v1.45h-1.45zM171.2 128.9h1.45v1.45h-1.45zM171.6 131.4h1.45v1.45h-1.45zM171.6 133.9h1.45v1.45h-1.45zM171.4 136.5h1.45v1.45h-1.45zM171.2 139.0h1.45v1.45h-1.45zM166.4 121.6h1.45v1.45h-1.45zM165.9 128.1h1.45v1.45h-1.45zM165.9 129.7h1.45v1.45h-1.45zM165.9 143.3h1.45v1.45h-1.45zM165.9 147.3h1.45v1.45h-1.45zM165.7 151.8h1.45v1.45h-1.45zM164.2 152.8h1.45v1.45h-1.45zM168.6 153.8h1.45v1.45h-1.45zM164.0 154.8h1.45v1.45h-1.45zM165.2 155.8h1.45v1.45h-1.45zM167.6 156.8h1.45v1.45h-1.45zM164.5 157.8h1.45v1.45h-1.45zM164.3 158.8h1.45v1.45h-1.45zM160.3 149.3h1.45v1.45h-1.45zM161.3 152.3h1.45v1.45h-1.45zM275.1 146.9h1.45v1.45h-1.45zM277.3 151.3h1.45v1.45h-1.45zM275.3 154.3h1.45v1.45h-1.45zM279.3 155.3h1.45v1.45h-1.45zM345.0 103.5h1.45v1.45h-1.45zM345.3 104.5h1.45v1.45h-1.45zM345.1 105.5h1.45v1.45h-1.45zM345.0 106.6h1.45v1.45h-1.45zM345.0 107.6h1.45v1.45h-1.45zM345.3 108.6h1.45v1.45h-1.45zM345.1 109.6h1.45v1.45h-1.45zM345.2 110.7h1.45v1.45h-1.45zM345.1 111.7h1.45v1.45h-1.45zM345.3 112.7h1.45v1.45h-1.45zM345.4 113.7h1.45v1.45h-1.45zM345.1 114.8h1.45v1.45h-1.45zM344.0 130.3h1.45v1.45h-1.45zM344.9 132.3h1.45v1.45h-1.45zM345.3 140.1h1.45v1.45h-1.45zM341.6 141.3h1.45v1.45h-1.45zM341.6 142.8h1.45v1.45h-1.45zM344.3 145.3h1.45v1.45h-1.45zM342.7 148.1h1.45v1.45h-1.45zM343.5 149.8h1.45v1.45h-1.45zM342.2 151.4h1.45v1.45h-1.45zM343.5 153.1h1.45v1.45h-1.45zM343.0 154.8h1.45v1.45h-1.45zM341.7 156.4h1.45v1.45h-1.45z"/>
<path fill="#B24A9B" d="M173.1 163.3h2.1V165.8h-2.1zM188.8 164.9h1.0V165.8h-1.0zM188.0 165.0h1.2V165.8h-1.2zM179.6 165.6h1.6V165.8h-1.6zM182.3 163.0h1.3V165.8h-1.3zM175.0 159.5h1.8V165.8h-1.8zM188.6 161.2h1.1V165.8h-1.1zM179.8 165.4h1.9V165.8h-1.9zM188.8 163.2h2.2V165.8h-2.2zM182.2 162.9h1.5V165.8h-1.5zM173.2 164.7h2.2V165.8h-2.2zM176.1 164.6h0.7V165.8h-0.7zM187.8 165.3h0.6V165.8h-0.6zM185.6 165.6h0.9V165.8h-0.9zM183.8 163.0h1.5V165.8h-1.5zM185.7 158.3h0.7V165.8h-0.7zM185.9 165.1h0.6V165.8h-0.6zM181.8 164.4h1.4V165.8h-1.4zM175.0 165.1h1.2V165.8h-1.2zM183.6 165.0h2.0V165.8h-2.0zM183.3 165.0h1.8V165.8h-1.8zM187.9 163.9h2.2V165.8h-2.2zM180.5 162.9h2.0V165.8h-2.0zM180.0 160.2h2.2V165.8h-2.2zM179.0 164.2h0.9V165.8h-0.9zM180.8 159.8h2.3V165.8h-2.3zM189.1 158.9h2.0V165.8h-2.0zM173.8 154.3h1.4V165.8h-1.4zM189.9 163.7h0.9V165.8h-0.9zM184.4 162.9h1.2V165.8h-1.2zM174.1 163.1h1.3V165.8h-1.3zM173.2 153.1h0.8V165.8h-0.8zM187.0 162.0h2.2V165.8h-2.2zM187.6 157.9h2.1V165.8h-2.1zM173.4 164.5h1.7V165.8h-1.7zM185.2 162.8h1.0V165.8h-1.0zM189.5 164.6h1.6V165.8h-1.6zM182.3 154.8h1.3V165.8h-1.3zM178.1 161.9h1.0V165.8h-1.0zM175.0 154.4h1.6V165.8h-1.6zM182.2 163.4h1.0V165.8h-1.0zM182.6 165.1h0.8V165.8h-0.8zM175.2 163.7h1.0V165.8h-1.0zM178.1 165.3h0.9V165.8h-0.9zM182.8 162.2h2.0V165.8h-2.0zM182.4 160.7h1.45v1.45h-1.45zM176.1 159.9h1.45v1.45h-1.45zM180.5 161.7h1.45v1.45h-1.45zM183.2 162.3h1.45v1.45h-1.45zM177.9 163.8h1.45v1.45h-1.45zM176.4 162.0h1.45v1.45h-1.45zM179.2 161.3h1.45v1.45h-1.45zM172.8 163.1h1.45v1.45h-1.45zM187.5 163.8h1.45v1.45h-1.45zM182.2 162.2h1.45v1.45h-1.45zM177.7 158.9h1.45v1.45h-1.45zM175.3 164.6h1.45v1.45h-1.45zM187.6 162.6h1.45v1.45h-1.45zM173.6 162.9h1.45v1.45h-1.45zM180.2 159.5h1.45v1.45h-1.45zM174.5 163.9h1.45v1.45h-1.45zM189.2 159.5h1.45v1.45h-1.45zM175.2 163.2h1.45v1.45h-1.45zM178.7 160.4h1.45v1.45h-1.45zM183.2 157.3h1.45v1.45h-1.45zM186.8 162.0h1.45v1.45h-1.45zM185.4 159.4h1.45v1.45h-1.45zM185.7 162.3h1.45v1.45h-1.45zM186.2 159.9h1.45v1.45h-1.45zM188.4 164.3h1.45v1.45h-1.45zM187.6 164.9h1.45v1.45h-1.45zM185.8 161.3h1.45v1.45h-1.45zM181.2 151.6h1.45v1.45h-1.45zM182.5 162.7h1.45v1.45h-1.45zM186.1 156.6h1.45v1.45h-1.45zM183.1 163.0h1.45v1.45h-1.45zM180.4 162.4h1.45v1.45h-1.45zM185.1 163.5h1.45v1.45h-1.45zM179.3 161.6h1.45v1.45h-1.45zM179.2 163.3h1.45v1.45h-1.45zM186.2 157.3h1.45v1.45h-1.45zM181.2 162.5h1.45v1.45h-1.45zM175.8 163.4h1.45v1.45h-1.45zM175.1 161.4h1.45v1.45h-1.45zM182.6 164.5h1.45v1.45h-1.45zM188.5 163.3h1.45v1.45h-1.45zM187.2 157.6h1.45v1.45h-1.45zM189.2 164.0h1.45v1.45h-1.45zM180.0 155.2h1.45v1.45h-1.45zM172.8 164.7h1.45v1.45h-1.45zM182.3 162.1h1.45v1.45h-1.45zM188.5 158.9h1.45v1.45h-1.45zM181.5 162.0h1.45v1.45h-1.45zM184.4 162.9h1.45v1.45h-1.45zM178.8 161.3h1.45v1.45h-1.45zM178.6 153.0h1.45v1.45h-1.45zM184.3 161.9h1.45v1.45h-1.45zM283.0 163.2h2.2V165.8h-2.2zM290.8 161.4h1.5V165.8h-1.5zM285.1 165.0h1.9V165.8h-1.9zM285.5 163.8h0.6V165.8h-0.6zM288.0 157.7h1.0V165.8h-1.0zM283.7 164.7h1.5V165.8h-1.5zM288.8 161.2h1.9V165.8h-1.9zM283.4 162.3h0.9V165.8h-0.9zM292.3 162.2h0.6V165.8h-0.6zM289.8 164.1h2.0V165.8h-2.0zM291.0 156.5h1.3V165.8h-1.3zM282.9 163.7h2.2V165.8h-2.2zM286.9 164.6h0.7V165.8h-0.7zM290.2 165.0h1.7V165.8h-1.7zM286.3 164.8h0.8V165.8h-0.8zM285.0 152.3h1.1V165.8h-1.1zM291.0 163.3h1.9V165.8h-1.9zM287.8 157.1h1.9V165.8h-1.9zM290.4 164.8h1.6V165.8h-1.6zM289.1 160.1h2.0V165.8h-2.0zM283.7 164.1h1.8V165.8h-1.8zM284.4 161.6h2.2V165.8h-2.2zM290.3 159.3h0.7V165.8h-0.7zM290.8 160.7h2.1V165.8h-2.1zM291.0 162.4h1.9V165.8h-1.9zM286.5 157.9h1.45v1.45h-1.45zM289.7 156.7h1.45v1.45h-1.45zM285.3 151.8h1.45v1.45h-1.45zM287.4 153.1h1.45v1.45h-1.45zM283.6 151.0h1.45v1.45h-1.45zM289.7 163.7h1.45v1.45h-1.45zM290.2 163.8h1.45v1.45h-1.45zM284.4 162.4h1.45v1.45h-1.45zM284.7 162.2h1.45v1.45h-1.45zM290.8 160.2h1.45v1.45h-1.45zM289.0 162.9h1.45v1.45h-1.45zM289.7 158.5h1.45v1.45h-1.45zM288.8 153.5h1.45v1.45h-1.45zM290.1 162.8h1.45v1.45h-1.45zM283.4 160.6h1.45v1.45h-1.45zM290.2 163.2h1.45v1.45h-1.45zM288.0 157.6h1.45v1.45h-1.45zM289.8 164.9h1.45v1.45h-1.45zM287.0 164.8h1.45v1.45h-1.45zM283.6 158.2h1.45v1.45h-1.45zM286.4 161.2h1.45v1.45h-1.45zM286.7 163.2h1.45v1.45h-1.45zM284.5 163.1h1.45v1.45h-1.45zM290.3 161.0h1.45v1.45h-1.45zM285.2 164.5h1.45v1.45h-1.45zM285.0 160.0h1.45v1.45h-1.45zM286.6 160.5h1.45v1.45h-1.45zM289.9 164.4h1.45v1.45h-1.45zM288.8 164.7h1.45v1.45h-1.45zM290.1 164.1h1.45v1.45h-1.45zM348.6 163.9h0.5V165.8h-0.5zM346.8 165.6h2.0V165.8h-2.0zM348.4 163.4h1.0V165.8h-1.0zM348.0 165.1h1.8V165.8h-1.8zM347.1 154.1h0.7V165.8h-0.7zM346.7 163.0h0.7V165.8h-0.7zM347.7 165.4h2.1V165.8h-2.1zM347.0 162.5h0.8V165.8h-0.8zM347.8 157.8h1.2V165.8h-1.2zM347.7 157.0h1.45v1.45h-1.45zM348.5 163.6h1.45v1.45h-1.45zM348.4 162.8h1.45v1.45h-1.45zM346.1 155.0h1.45v1.45h-1.45zM346.2 164.8h1.45v1.45h-1.45zM346.7 163.5h1.45v1.45h-1.45zM348.5 156.7h1.45v1.45h-1.45zM347.1 161.9h1.45v1.45h-1.45zM348.2 158.3h1.45v1.45h-1.45zM347.7 162.0h1.45v1.45h-1.45zM176.0 68.1h1.45v1.45h-1.45zM178.1 110.4h1.45v1.45h-1.45zM176.0 113.9h1.45v1.45h-1.45zM176.0 118.0h1.45v1.45h-1.45zM184.3 109.2h1.45v1.45h-1.45zM184.3 113.1h1.45v1.45h-1.45zM184.3 114.8h1.45v1.45h-1.45zM184.3 116.3h1.45v1.45h-1.45zM184.3 118.3h1.45v1.45h-1.45zM184.3 134.7h1.45v1.45h-1.45zM175.1 139.5h1.45v1.45h-1.45zM174.4 147.2h1.45v1.45h-1.45zM174.6 149.0h1.45v1.45h-1.45zM175.3 150.9h1.45v1.45h-1.45zM175.9 152.7h1.45v1.45h-1.45zM174.6 154.5h1.45v1.45h-1.45zM174.6 156.4h1.45v1.45h-1.45zM182.3 150.3h1.45v1.45h-1.45zM185.3 148.3h1.45v1.45h-1.45zM187.3 152.3h1.45v1.45h-1.45zM286.6 124.5h1.45v1.45h-1.45zM288.8 124.5h1.45v1.45h-1.45zM284.8 129.8h1.45v1.45h-1.45zM283.4 142.1h1.45v1.45h-1.45zM286.6 144.8h1.45v1.45h-1.45zM286.0 149.1h1.45v1.45h-1.45zM286.7 150.7h1.45v1.45h-1.45zM287.4 152.3h1.45v1.45h-1.45zM287.0 153.9h1.45v1.45h-1.45zM285.5 155.5h1.45v1.45h-1.45zM348.6 142.5h1.45v1.45h-1.45zM347.3 149.3h1.45v1.45h-1.45z"/>
<rect x="21" y="147.05" width="343" height="0.7" fill="#ff9a9a" opacity="0.9"/>
<rect x="21" y="166.05" width="343" height="0.6" fill="#6a6ad0" opacity="0.55"/>
<rect x="20.15" y="37.94" width="0.7" height="134.16" fill="#777"/>
<rect x="18.30" y="171.80" width="2.2" height="0.6" fill="#777"/>
<text x="15.20" y="174.30" font-size="6.2" text-anchor="end" fill="#3a3a3a" font-weight="bold" textLength="2.4" lengthAdjust="spacingAndGlyphs">0</text>
<rect x="18.30" y="149.44" width="2.2" height="0.6" fill="#777"/>
<text x="15.20" y="151.94" font-size="6.2" text-anchor="end" fill="#3a3a3a" font-weight="bold" textLength="2.4" lengthAdjust="spacingAndGlyphs">5</text>
<rect x="18.30" y="127.08" width="2.2" height="0.6" fill="#777"/>
<text x="15.20" y="129.58" font-size="6.2" text-anchor="end" fill="#3a3a3a" font-weight="bold" textLength="4.8" lengthAdjust="spacingAndGlyphs">10</text>
<rect x="18.30" y="104.72" width="2.2" height="0.6" fill="#777"/>
<text x="15.20" y="107.22" font-size="6.2" text-anchor="end" fill="#3a3a3a" font-weight="bold" textLength="4.8" lengthAdjust="spacingAndGlyphs">15</text>
<rect x="18.30" y="82.36" width="2.2" height="0.6" fill="#777"/>
<text x="15.20" y="84.86" font-size="6.2" text-anchor="end" fill="#3a3a3a" font-weight="bold" textLength="4.8" lengthAdjust="spacingAndGlyphs">20</text>
<rect x="18.30" y="60.00" width="2.2" height="0.6" fill="#777"/>
<text x="15.20" y="62.50" font-size="6.2" text-anchor="end" fill="#3a3a3a" font-weight="bold" textLength="4.8" lengthAdjust="spacingAndGlyphs">25</text>
<rect x="18.30" y="37.64" width="2.2" height="0.6" fill="#777"/>
<text x="15.20" y="40.14" font-size="6.2" text-anchor="end" fill="#3a3a3a" font-weight="bold" textLength="4.8" lengthAdjust="spacingAndGlyphs">30</text>
<rect x="43.30" y="172.80" width="0.6" height="2.8" fill="#777"/>
<text x="43.60" y="183.80" font-size="5.9" text-anchor="middle" fill="#3a3a3a" font-weight="bold" textLength="2.55" lengthAdjust="spacingAndGlyphs">1</text>
<rect x="73.00" y="172.80" width="0.6" height="2.8" fill="#777"/>
<text x="73.30" y="183.80" font-size="5.9" text-anchor="middle" fill="#3a3a3a" font-weight="bold" textLength="2.55" lengthAdjust="spacingAndGlyphs">2</text>
<rect x="99.10" y="172.80" width="0.6" height="2.8" fill="#777"/>
<text x="99.40" y="183.80" font-size="5.9" text-anchor="middle" fill="#3a3a3a" font-weight="bold" textLength="2.55" lengthAdjust="spacingAndGlyphs">3</text>
<rect x="120.00" y="172.80" width="0.6" height="2.8" fill="#777"/>
<text x="120.30" y="183.80" font-size="5.9" text-anchor="middle" fill="#3a3a3a" font-weight="bold" textLength="2.55" lengthAdjust="spacingAndGlyphs">4</text>
<rect x="147.60" y="172.80" width="0.6" height="2.8" fill="#777"/>
<text x="147.90" y="183.80" font-size="5.9" text-anchor="middle" fill="#3a3a3a" font-weight="bold" textLength="2.55" lengthAdjust="spacingAndGlyphs">5</text>
<rect x="158.20" y="172.80" width="0.6" height="2.8" fill="#777"/>
<text x="158.50" y="183.80" font-size="5.9" text-anchor="middle" fill="#3a3a3a" font-weight="bold" textLength="2.55" lengthAdjust="spacingAndGlyphs">6</text>
<rect x="184.20" y="172.80" width="0.6" height="2.8" fill="#777"/>
<text x="184.50" y="183.80" font-size="5.9" text-anchor="middle" fill="#3a3a3a" font-weight="bold" textLength="2.55" lengthAdjust="spacingAndGlyphs">7</text>
<rect x="200.00" y="172.80" width="0.6" height="2.8" fill="#777"/>
<text x="200.30" y="183.80" font-size="5.9" text-anchor="middle" fill="#3a3a3a" font-weight="bold" textLength="2.55" lengthAdjust="spacingAndGlyphs">8</text>
<rect x="220.90" y="172.80" width="0.6" height="2.8" fill="#777"/>
<text x="221.20" y="183.80" font-size="5.9" text-anchor="middle" fill="#3a3a3a" font-weight="bold" textLength="2.55" lengthAdjust="spacingAndGlyphs">9</text>
<rect x="234.60" y="172.80" width="0.6" height="2.8" fill="#777"/>
<text x="234.90" y="183.80" font-size="5.9" text-anchor="middle" fill="#3a3a3a" font-weight="bold" textLength="5.1" lengthAdjust="spacingAndGlyphs">10</text>
<rect x="248.00" y="172.80" width="0.6" height="2.8" fill="#777"/>
<text x="248.30" y="183.80" font-size="5.9" text-anchor="middle" fill="#3a3a3a" font-weight="bold" textLength="5.1" lengthAdjust="spacingAndGlyphs">11</text>
<rect x="263.00" y="172.80" width="0.6" height="2.8" fill="#777"/>
<text x="263.30" y="183.80" font-size="5.9" text-anchor="middle" fill="#3a3a3a" font-weight="bold" textLength="5.1" lengthAdjust="spacingAndGlyphs">12</text>
<rect x="275.30" y="172.80" width="0.6" height="2.8" fill="#777"/>
<text x="275.60" y="183.80" font-size="5.9" text-anchor="middle" fill="#3a3a3a" font-weight="bold" textLength="5.1" lengthAdjust="spacingAndGlyphs">13</text>
<rect x="287.90" y="172.80" width="0.6" height="2.8" fill="#777"/>
<text x="288.20" y="183.80" font-size="5.9" text-anchor="middle" fill="#3a3a3a" font-weight="bold" textLength="5.1" lengthAdjust="spacingAndGlyphs">14</text>
<rect x="298.20" y="172.80" width="0.6" height="2.8" fill="#777"/>
<text x="298.50" y="183.80" font-size="5.9" text-anchor="middle" fill="#3a3a3a" font-weight="bold" textLength="5.1" lengthAdjust="spacingAndGlyphs">15</text>
<rect x="305.50" y="172.80" width="0.6" height="2.8" fill="#777"/>
<rect x="317.60" y="172.80" width="0.6" height="2.8" fill="#777"/>
<text x="317.90" y="183.80" font-size="5.9" text-anchor="middle" fill="#3a3a3a" font-weight="bold" textLength="5.1" lengthAdjust="spacingAndGlyphs">17</text>
<rect x="326.90" y="172.80" width="0.6" height="2.8" fill="#777"/>
<text x="327.20" y="183.80" font-size="5.9" text-anchor="middle" fill="#3a3a3a" font-weight="bold" textLength="5.1" lengthAdjust="spacingAndGlyphs">18</text>
<rect x="335.00" y="172.80" width="0.6" height="2.8" fill="#777"/>
<rect x="342.20" y="172.80" width="0.6" height="2.8" fill="#777"/>
<text x="342.50" y="183.80" font-size="5.9" text-anchor="middle" fill="#3a3a3a" font-weight="bold" textLength="5.1" lengthAdjust="spacingAndGlyphs">20</text>
<rect x="347.90" y="172.80" width="0.6" height="2.8" fill="#777"/>
<rect x="352.10" y="172.80" width="0.6" height="2.8" fill="#777"/>
<text x="352.40" y="183.80" font-size="5.9" text-anchor="middle" fill="#3a3a3a" font-weight="bold" textLength="5.1" lengthAdjust="spacingAndGlyphs">22</text>
<text x="192.50" y="196.60" font-size="5.4" text-anchor="middle" fill="#000" textLength="26.3" lengthAdjust="spacingAndGlyphs">Chromosome</text>
<text x="3.60" y="105.00" font-size="4.8" text-anchor="middle" fill="#1a1a1a" textLength="38.5" lengthAdjust="spacingAndGlyphs" transform="rotate(-90 3.60 105.00)">−log10(P−value)</text>
<rect x="30.60" y="371.10" width="15.40" height="6.60" fill="#EC1C24"/>
<rect x="47.80" y="371.10" width="12.20" height="6.60" fill="#EC1C24"/>
<rect x="60.00" y="371.10" width="28.20" height="6.60" fill="#F2D50F"/>
<rect x="88.20" y="371.10" width="22.30" height="6.60" fill="#238C46"/>
<rect x="110.50" y="371.10" width="21.90" height="6.60" fill="#A0D296"/>
<rect x="132.40" y="371.10" width="20.80" height="6.60" fill="#788CC3"/>
<rect x="153.20" y="371.10" width="19.80" height="6.60" fill="#414B9B"/>
<rect x="173.00" y="371.10" width="18.40" height="6.60" fill="#B24A9B"/>
<rect x="191.40" y="371.10" width="17.20" height="6.60" fill="#EC1C24"/>
<rect x="208.60" y="371.10" width="5.80" height="6.60" fill="#F2D50F"/>
<rect x="216.60" y="371.10" width="8.50" height="6.60" fill="#F2D50F"/>
<rect x="225.10" y="371.10" width="14.90" height="6.60" fill="#238C46"/>
<rect x="240.00" y="371.10" width="16.00" height="6.60" fill="#A0D296"/>
<rect x="256.00" y="371.10" width="15.20" height="6.60" fill="#788CC3"/>
<rect x="271.20" y="371.10" width="11.40" height="6.60" fill="#414B9B"/>
<rect x="282.60" y="371.10" width="9.70" height="6.60" fill="#B24A9B"/>
<rect x="292.30" y="371.10" width="9.30" height="6.60" fill="#EC1C24"/>
<rect x="301.60" y="371.10" width="10.60" height="6.60" fill="#F2D50F"/>
<rect x="312.20" y="371.10" width="9.10" height="6.60" fill="#238C46"/>
<rect x="321.30" y="371.10" width="8.90" height="6.60" fill="#A0D296"/>
<rect x="330.20" y="371.10" width="6.80" height="6.60" fill="#788CC3"/>
<rect x="337.00" y="371.10" width="8.70" height="6.60" fill="#414B9B"/>
<rect x="345.70" y="371.10" width="3.20" height="6.60" fill="#B24A9B"/>
<rect x="348.90" y="371.10" width="5.10" height="6.60" fill="#EC1C24"/>
<path fill="#EC1C24" d="M42.8 366.3h2.0V371.3h-2.0zM36.7 369.1h1.1V371.3h-1.1zM58.3 370.5h1.7V371.3h-1.7zM57.5 367.2h0.6V371.3h-0.6zM43.3 368.6h1.7V371.3h-1.7zM33.3 363.5h1.4V371.3h-1.4zM53.8 370.0h1.1V371.3h-1.1zM52.5 370.0h1.9V371.3h-1.9zM56.6 368.6h2.2V371.3h-2.2zM36.5 369.3h1.0V371.3h-1.0zM52.1 367.6h0.8V371.3h-0.8zM36.0 367.6h2.0V371.3h-2.0zM52.9 369.1h2.0V371.3h-2.0zM57.8 371.0h0.9V371.3h-0.9zM57.1 368.0h2.1V371.3h-2.1zM58.0 370.4h1.5V371.3h-1.5zM49.2 368.7h1.9V371.3h-1.9zM48.3 369.7h0.9V371.3h-0.9zM43.0 368.3h1.4V371.3h-1.4zM33.3 369.3h0.5V371.3h-0.5zM51.7 369.9h1.8V371.3h-1.8zM38.1 370.3h1.4V371.3h-1.4zM48.3 370.1h2.0V371.3h-2.0zM47.8 365.0h1.7V371.3h-1.7zM51.5 369.7h1.7V371.3h-1.7zM55.2 370.9h2.1V371.3h-2.1zM58.4 370.7h1.3V371.3h-1.3zM32.6 366.1h1.9V371.3h-1.9zM34.8 366.6h1.3V371.3h-1.3zM58.9 364.7h1.1V371.3h-1.1zM37.8 370.3h0.8V371.3h-0.8zM42.7 369.5h1.6V371.3h-1.6zM35.4 370.7h0.9V371.3h-0.9zM36.3 368.0h1.0V371.3h-1.0zM36.0 368.6h1.3V371.3h-1.3zM44.5 367.2h0.8V371.3h-0.8zM34.9 370.8h0.8V371.3h-0.8zM51.2 368.8h2.1V371.3h-2.1zM41.0 369.2h1.2V371.3h-1.2zM50.9 370.4h1.2V371.3h-1.2zM56.0 371.1h1.5V371.3h-1.5zM55.6 369.2h1.7V371.3h-1.7zM49.1 368.8h2.1V371.3h-2.1zM43.3 367.5h1.0V371.3h-1.0zM34.9 362.7h1.1V371.3h-1.1zM53.9 366.1h1.5V371.3h-1.5zM40.6 367.6h2.1V371.3h-2.1zM42.4 370.6h0.8V371.3h-0.8zM57.0 371.0h1.9V371.3h-1.9zM40.1 368.1h1.3V371.3h-1.3zM41.3 369.2h2.0V371.3h-2.0zM49.4 369.3h1.3V371.3h-1.3zM42.0 364.3h1.5V371.3h-1.5zM38.3 368.9h1.1V371.3h-1.1zM41.3 367.7h2.1V371.3h-2.1zM38.7 363.5h1.1V371.3h-1.1zM35.3 371.0h1.7V371.3h-1.7zM36.3 363.9h0.6V371.3h-0.6zM34.9 370.8h0.9V371.3h-0.9zM38.4 365.5h1.7V371.3h-1.7zM57.4 367.6h2.1V371.3h-2.1zM43.4 365.0h0.8V371.3h-0.8zM55.8 370.7h1.2V371.3h-1.2zM56.3 367.1h1.8V371.3h-1.8zM59.3 370.8h0.6V371.3h-0.6zM34.3 365.7h0.5V371.3h-0.5zM49.1 370.3h0.7V371.3h-0.7zM35.9 366.2h1.5V371.3h-1.5zM43.4 369.8h1.2V371.3h-1.2zM51.4 370.2h0.8V371.3h-0.8zM35.1 365.2h1.1V371.3h-1.1zM32.3 366.1h1.4V371.3h-1.4zM31.6 364.2h1.2V371.3h-1.2zM56.5 369.3h1.5V371.3h-1.5zM42.2 362.5h2.1V371.3h-2.1zM57.5 370.4h1.5V371.3h-1.5zM35.7 365.9h1.2V371.3h-1.2zM30.7 364.3h1.9V371.3h-1.9zM54.1 366.2h1.2V371.3h-1.2zM57.9 369.4h1.5V371.3h-1.5zM41.7 360.8h1.0V371.3h-1.0zM53.9 363.5h1.8V371.3h-1.8zM58.3 369.4h1.7V371.3h-1.7zM52.9 366.9h0.9V371.3h-0.9zM35.3 368.1h2.0V371.3h-2.0zM38.7 370.7h2.1V371.3h-2.1zM57.9 370.4h1.8V371.3h-1.8zM52.0 367.0h1.45v1.45h-1.45zM56.1 366.9h1.45v1.45h-1.45zM42.5 359.6h1.45v1.45h-1.45zM32.9 364.4h1.45v1.45h-1.45zM33.3 369.1h1.45v1.45h-1.45zM33.6 362.3h1.45v1.45h-1.45zM42.9 365.2h1.45v1.45h-1.45zM37.7 365.2h1.45v1.45h-1.45zM48.8 370.0h1.45v1.45h-1.45zM44.4 365.3h1.45v1.45h-1.45zM36.5 366.2h1.45v1.45h-1.45zM38.3 368.5h1.45v1.45h-1.45zM58.7 368.2h1.45v1.45h-1.45zM53.3 364.7h1.45v1.45h-1.45zM43.3 362.5h1.45v1.45h-1.45zM43.8 369.9h1.45v1.45h-1.45zM51.6 369.8h1.45v1.45h-1.45zM49.7 370.2h1.45v1.45h-1.45zM58.4 367.3h1.45v1.45h-1.45zM51.4 369.8h1.45v1.45h-1.45zM195.1 369.3h0.5V371.3h-0.5zM196.8 368.7h0.7V371.3h-0.7zM192.0 368.2h2.1V371.3h-2.1zM206.5 365.3h1.7V371.3h-1.7zM204.4 365.4h1.0V371.3h-1.0zM194.9 367.1h1.4V371.3h-1.4zM204.7 369.2h0.8V371.3h-0.8zM193.4 370.6h0.9V371.3h-0.9zM203.8 366.5h1.8V371.3h-1.8zM204.8 367.5h1.4V371.3h-1.4zM207.0 366.4h1.6V371.3h-1.6zM201.5 364.9h1.3V371.3h-1.3zM201.2 368.7h0.7V371.3h-0.7zM198.6 367.5h1.2V371.3h-1.2zM197.6 368.7h1.2V371.3h-1.2zM197.8 370.7h2.2V371.3h-2.2zM191.7 368.9h1.7V371.3h-1.7zM199.1 369.1h1.5V371.3h-1.5zM195.5 362.0h0.5V371.3h-0.5zM207.6 368.3h1.0V371.3h-1.0zM197.0 361.3h0.6V371.3h-0.6zM205.8 369.8h0.9V371.3h-0.9zM203.4 368.3h1.9V371.3h-1.9zM198.1 364.1h0.9V371.3h-0.9zM206.3 370.6h2.0V371.3h-2.0zM201.6 365.6h2.2V371.3h-2.2zM199.3 370.8h0.7V371.3h-0.7zM204.0 363.8h0.6V371.3h-0.6zM202.8 361.3h1.3V371.3h-1.3zM207.1 370.6h1.5V371.3h-1.5zM201.5 369.8h1.2V371.3h-1.2zM206.9 370.5h1.7V371.3h-1.7zM195.3 367.4h1.1V371.3h-1.1zM197.0 363.7h1.2V371.3h-1.2zM194.5 369.3h1.7V371.3h-1.7zM206.5 369.4h2.1V371.3h-2.1zM201.8 368.8h0.7V371.3h-0.7zM202.1 369.3h1.6V371.3h-1.6zM192.0 367.5h0.7V371.3h-0.7zM194.3 366.9h1.0V371.3h-1.0zM206.9 369.8h1.4V371.3h-1.4zM201.5 364.4h1.0V371.3h-1.0zM194.1 368.6h0.9V371.3h-0.9zM207.0 370.2h0.8V371.3h-0.8zM193.7 369.3h0.9V371.3h-0.9zM198.2 368.8h1.8V371.3h-1.8zM199.6 364.6h1.2V371.3h-1.2zM195.7 367.8h2.2V371.3h-2.2zM203.1 369.7h1.1V371.3h-1.1zM193.7 369.1h2.0V371.3h-2.0zM203.4 367.8h1.3V371.3h-1.3zM195.0 369.3h0.8V371.3h-0.8zM203.1 371.1h1.4V371.3h-1.4zM203.6 370.8h1.2V371.3h-1.2zM195.9 363.5h0.9V371.3h-0.9zM200.9 369.8h1.1V371.3h-1.1zM196.4 369.2h1.0V371.3h-1.0zM205.0 365.8h1.8V371.3h-1.8zM205.5 366.2h1.45v1.45h-1.45zM193.0 370.2h1.45v1.45h-1.45zM193.8 369.2h1.45v1.45h-1.45zM199.7 363.5h1.45v1.45h-1.45zM200.7 368.2h1.45v1.45h-1.45zM203.4 368.7h1.45v1.45h-1.45zM195.3 362.9h1.45v1.45h-1.45zM193.1 366.2h1.45v1.45h-1.45zM196.9 361.7h1.45v1.45h-1.45zM196.0 370.0h1.45v1.45h-1.45zM194.4 363.9h1.45v1.45h-1.45zM296.8 364.5h2.0V371.3h-2.0zM292.7 366.8h1.7V371.3h-1.7zM296.8 367.9h1.6V371.3h-1.6zM294.0 370.5h1.7V371.3h-1.7zM295.2 367.4h1.9V371.3h-1.9zM297.1 368.1h1.7V371.3h-1.7zM295.9 371.0h1.4V371.3h-1.4zM300.0 370.3h1.6V371.3h-1.6zM300.3 363.9h1.0V371.3h-1.0zM298.4 365.1h1.5V371.3h-1.5zM294.8 367.7h1.9V371.3h-1.9zM299.3 369.8h1.9V371.3h-1.9zM296.1 370.7h1.1V371.3h-1.1zM299.9 368.1h1.7V371.3h-1.7zM297.4 370.8h2.0V371.3h-2.0zM295.6 367.7h1.7V371.3h-1.7zM296.9 370.0h0.9V371.3h-0.9zM299.5 369.7h2.1V371.3h-2.1zM297.1 369.1h0.7V371.3h-0.7zM299.4 369.7h1.1V371.3h-1.1zM301.0 362.9h0.6V371.3h-0.6zM298.3 368.7h1.2V371.3h-1.2zM298.0 362.2h1.4V371.3h-1.4zM300.5 371.1h1.1V371.3h-1.1zM299.5 366.4h1.6V371.3h-1.6zM293.0 361.0h0.6V371.3h-0.6zM294.1 370.8h1.6V371.3h-1.6zM296.7 365.1h1.45v1.45h-1.45zM293.4 364.7h1.45v1.45h-1.45zM300.1 363.4h1.45v1.45h-1.45zM298.0 367.2h1.45v1.45h-1.45zM298.9 363.9h1.45v1.45h-1.45zM297.3 366.0h1.45v1.45h-1.45zM352.3 369.9h1.6V371.3h-1.6zM351.3 362.1h0.9V371.3h-0.9zM352.1 366.8h1.7V371.3h-1.7zM349.2 364.5h2.0V371.3h-2.0zM351.5 368.1h1.5V371.3h-1.5zM352.6 369.7h1.4V371.3h-1.4zM351.5 371.1h0.9V371.3h-0.9zM351.6 365.5h2.0V371.3h-2.0zM350.0 367.2h1.4V371.3h-1.4zM351.9 368.0h1.3V371.3h-1.3zM352.0 367.9h2.0V371.3h-2.0zM352.3 370.5h1.7V371.3h-1.7zM350.2 369.2h1.0V371.3h-1.0zM352.6 365.8h1.1V371.3h-1.1zM353.2 366.7h0.8V371.3h-0.8zM352.9 361.9h1.1V371.3h-1.1zM352.0 368.8h1.45v1.45h-1.45zM349.3 363.9h1.45v1.45h-1.45zM350.4 368.7h1.45v1.45h-1.45zM350.6 365.2h1.45v1.45h-1.45zM206.1 339.9h1.45v1.45h-1.45zM194.0 353.0h1.45v1.45h-1.45zM193.3 359.9h1.45v1.45h-1.45zM200.0 357.8h1.45v1.45h-1.45zM200.0 359.3h1.45v1.45h-1.45zM199.9 360.9h1.45v1.45h-1.45zM199.6 362.5h1.45v1.45h-1.45zM299.6 358.0h1.45v1.45h-1.45zM299.4 359.5h1.45v1.45h-1.45zM299.3 361.0h1.45v1.45h-1.45zM350.3 359.3h1.45v1.45h-1.45zM351.8 360.8h1.45v1.45h-1.45z"/>
<path fill="#F2D50F" d="M78.0 369.8h1.1V371.3h-1.1zM83.0 368.2h0.6V371.3h-0.6zM62.5 361.3h1.9V371.3h-1.9zM61.0 368.3h1.3V371.3h-1.3zM80.3 369.3h1.7V371.3h-1.7zM86.3 370.5h0.8V371.3h-0.8zM83.0 370.2h0.7V371.3h-0.7zM74.1 370.3h1.1V371.3h-1.1zM86.2 364.3h1.3V371.3h-1.3zM67.1 370.0h2.1V371.3h-2.1zM81.7 367.8h1.6V371.3h-1.6zM84.1 370.6h1.3V371.3h-1.3zM85.8 366.1h1.9V371.3h-1.9zM81.0 368.4h0.9V371.3h-0.9zM64.5 367.5h1.7V371.3h-1.7zM71.4 370.5h0.8V371.3h-0.8zM73.3 369.7h1.3V371.3h-1.3zM70.4 364.8h1.4V371.3h-1.4zM76.6 361.5h0.8V371.3h-0.8zM70.9 369.4h1.4V371.3h-1.4zM60.8 370.5h0.8V371.3h-0.8zM68.0 367.5h1.6V371.3h-1.6zM86.5 369.1h1.7V371.3h-1.7zM86.6 367.7h1.6V371.3h-1.6zM84.3 369.1h1.6V371.3h-1.6zM66.9 370.8h2.2V371.3h-2.2zM60.3 370.1h1.4V371.3h-1.4zM74.3 363.1h0.7V371.3h-0.7zM86.5 365.6h1.7V371.3h-1.7zM60.1 368.7h0.6V371.3h-0.6zM87.2 367.4h1.0V371.3h-1.0zM60.2 360.9h1.2V371.3h-1.2zM76.6 371.0h1.9V371.3h-1.9zM65.7 363.2h0.8V371.3h-0.8zM62.9 369.7h2.1V371.3h-2.1zM84.8 369.4h1.4V371.3h-1.4zM87.0 365.8h1.2V371.3h-1.2zM63.1 369.7h1.8V371.3h-1.8zM64.2 366.3h1.1V371.3h-1.1zM77.6 370.3h1.6V371.3h-1.6zM80.5 369.1h1.4V371.3h-1.4zM85.4 370.4h0.9V371.3h-0.9zM64.5 367.2h0.8V371.3h-0.8zM82.6 368.0h0.8V371.3h-0.8zM76.2 368.8h1.5V371.3h-1.5zM75.3 370.8h0.5V371.3h-0.5zM71.9 364.9h0.9V371.3h-0.9zM66.8 369.9h1.9V371.3h-1.9zM62.6 368.9h1.3V371.3h-1.3zM69.5 370.0h1.8V371.3h-1.8zM78.9 368.4h1.9V371.3h-1.9zM74.2 367.0h2.1V371.3h-2.1zM65.1 370.7h0.6V371.3h-0.6zM69.4 366.5h0.7V371.3h-0.7zM71.9 367.9h1.0V371.3h-1.0zM86.4 370.4h0.9V371.3h-0.9zM79.9 370.3h1.2V371.3h-1.2zM61.3 362.8h0.7V371.3h-0.7zM78.3 366.8h0.8V371.3h-0.8zM61.6 369.3h1.4V371.3h-1.4zM62.9 365.5h1.8V371.3h-1.8zM74.4 366.2h0.8V371.3h-0.8zM72.2 370.7h1.6V371.3h-1.6zM85.5 370.0h0.5V371.3h-0.5zM71.2 370.7h0.8V371.3h-0.8zM79.4 369.3h2.2V371.3h-2.2zM67.5 370.0h1.6V371.3h-1.6zM71.3 368.6h1.7V371.3h-1.7zM64.4 367.7h0.6V371.3h-0.6zM86.1 370.6h2.1V371.3h-2.1zM74.2 370.2h1.3V371.3h-1.3zM78.9 363.8h1.3V371.3h-1.3zM68.2 363.7h2.1V371.3h-2.1zM73.4 368.2h0.7V371.3h-0.7zM63.6 365.8h1.7V371.3h-1.7zM76.3 370.9h2.2V371.3h-2.2zM80.2 370.6h1.9V371.3h-1.9zM69.1 367.3h0.6V371.3h-0.6zM80.4 365.9h1.1V371.3h-1.1zM70.3 369.7h1.7V371.3h-1.7zM87.0 371.1h1.2V371.3h-1.2zM62.6 362.3h1.7V371.3h-1.7zM78.0 362.1h0.8V371.3h-0.8zM80.2 369.0h0.7V371.3h-0.7zM78.9 370.9h0.5V371.3h-0.5zM69.0 364.3h2.0V371.3h-2.0zM78.2 367.4h2.1V371.3h-2.1zM65.1 367.5h1.45v1.45h-1.45zM72.9 368.7h1.45v1.45h-1.45zM69.9 367.5h1.45v1.45h-1.45zM75.8 369.4h1.45v1.45h-1.45zM67.3 367.6h1.45v1.45h-1.45zM73.5 368.2h1.45v1.45h-1.45zM77.8 369.6h1.45v1.45h-1.45zM74.2 369.1h1.45v1.45h-1.45zM80.7 365.6h1.45v1.45h-1.45zM81.0 367.5h1.45v1.45h-1.45zM66.5 360.1h1.45v1.45h-1.45zM73.7 368.5h1.45v1.45h-1.45zM67.7 368.3h1.45v1.45h-1.45zM79.1 363.6h1.45v1.45h-1.45zM72.9 365.2h1.45v1.45h-1.45zM65.6 368.0h1.45v1.45h-1.45zM69.5 368.9h1.45v1.45h-1.45zM69.6 364.8h1.45v1.45h-1.45zM79.7 369.5h1.45v1.45h-1.45zM66.1 364.3h1.45v1.45h-1.45zM77.6 365.9h1.45v1.45h-1.45zM77.1 365.7h1.45v1.45h-1.45zM223.5 366.1h1.6V371.3h-1.6zM213.3 370.7h1.0V371.3h-1.0zM224.5 366.9h0.6V371.3h-0.6zM212.7 366.7h0.8V371.3h-0.8zM219.4 370.2h1.4V371.3h-1.4zM223.0 370.3h0.7V371.3h-0.7zM212.6 368.3h1.4V371.3h-1.4zM217.7 361.2h1.7V371.3h-1.7zM222.3 369.4h0.5V371.3h-0.5zM211.0 364.4h1.5V371.3h-1.5zM210.7 362.7h1.0V371.3h-1.0zM220.0 366.0h0.7V371.3h-0.7zM221.7 370.4h1.2V371.3h-1.2zM219.5 370.5h1.0V371.3h-1.0zM211.3 370.5h1.2V371.3h-1.2zM217.7 364.0h1.2V371.3h-1.2zM222.9 364.7h2.1V371.3h-2.1zM217.4 367.4h1.8V371.3h-1.8zM210.5 370.6h0.9V371.3h-0.9zM223.0 368.8h1.0V371.3h-1.0zM217.5 365.7h0.7V371.3h-0.7zM221.7 361.7h1.9V371.3h-1.9zM221.2 369.1h1.7V371.3h-1.7zM222.3 363.7h1.3V371.3h-1.3zM217.1 361.7h1.8V371.3h-1.8zM221.1 369.1h1.4V371.3h-1.4zM221.8 370.7h1.0V371.3h-1.0zM211.8 370.9h2.1V371.3h-2.1zM222.0 367.5h1.4V371.3h-1.4zM217.5 367.5h1.2V371.3h-1.2zM210.1 370.6h2.1V371.3h-2.1zM210.9 366.6h1.6V371.3h-1.6zM209.5 369.9h0.5V371.3h-0.5zM221.5 367.8h0.8V371.3h-0.8zM221.3 367.8h0.8V371.3h-0.8zM223.3 368.9h1.8V371.3h-1.8zM223.3 366.1h1.8V371.3h-1.8zM216.6 369.1h1.9V371.3h-1.9zM223.1 368.5h1.7V371.3h-1.7zM217.9 367.8h1.9V371.3h-1.9zM224.4 361.1h0.5V371.3h-0.5zM220.4 362.8h1.3V371.3h-1.3zM211.1 365.6h1.1V371.3h-1.1zM221.1 368.5h1.45v1.45h-1.45zM223.8 366.2h1.45v1.45h-1.45zM209.1 369.9h1.45v1.45h-1.45zM209.6 367.0h1.45v1.45h-1.45zM212.4 368.0h1.45v1.45h-1.45zM209.6 360.9h1.45v1.45h-1.45zM221.4 367.1h1.45v1.45h-1.45zM213.2 366.7h1.45v1.45h-1.45zM219.6 363.5h1.45v1.45h-1.45zM303.5 369.4h1.1V371.3h-1.1zM310.4 369.6h1.8V371.3h-1.8zM311.6 370.8h0.6V371.3h-0.6zM305.4 362.6h1.2V371.3h-1.2zM307.2 368.5h1.6V371.3h-1.6zM306.5 369.7h2.1V371.3h-2.1zM307.2 370.4h1.3V371.3h-1.3zM303.2 364.0h1.4V371.3h-1.4zM303.1 370.9h2.0V371.3h-2.0zM308.5 369.8h0.7V371.3h-0.7zM306.1 368.6h1.8V371.3h-1.8zM306.0 367.9h1.2V371.3h-1.2zM304.6 370.2h2.1V371.3h-2.1zM303.0 369.2h1.4V371.3h-1.4zM309.2 366.1h0.6V371.3h-0.6zM305.5 369.5h2.1V371.3h-2.1zM306.2 367.7h1.0V371.3h-1.0zM304.6 368.8h1.6V371.3h-1.6zM309.1 368.4h1.0V371.3h-1.0zM307.5 366.4h1.7V371.3h-1.7zM306.1 370.6h0.6V371.3h-0.6zM303.2 370.2h0.8V371.3h-0.8zM308.6 360.6h1.1V371.3h-1.1zM304.1 370.2h0.9V371.3h-0.9zM303.1 367.3h1.7V371.3h-1.7zM304.3 366.1h1.9V371.3h-1.9zM306.1 366.4h1.5V371.3h-1.5zM306.3 369.1h0.7V371.3h-0.7zM311.1 366.6h1.1V371.3h-1.1zM302.5 362.3h1.8V371.3h-1.8zM305.6 367.9h1.1V371.3h-1.1zM304.3 370.5h0.9V371.3h-0.9zM310.5 370.5h0.5V371.3h-0.5zM310.7 362.2h1.45v1.45h-1.45zM307.3 366.5h1.45v1.45h-1.45zM305.6 368.2h1.45v1.45h-1.45zM302.8 367.2h1.45v1.45h-1.45zM304.0 369.9h1.45v1.45h-1.45zM309.7 367.0h1.45v1.45h-1.45zM309.8 369.0h1.45v1.45h-1.45zM306.9 369.1h1.45v1.45h-1.45zM218.8 358.9h1.45v1.45h-1.45zM220.8 360.3h1.45v1.45h-1.45zM208.8 363.1h1.45v1.45h-1.45zM301.6 345.8h1.45v1.45h-1.45zM301.6 347.5h1.45v1.45h-1.45zM301.6 349.3h1.45v1.45h-1.45z"/>
<path fill="#238C46" d="M94.3 369.1h0.6V371.3h-0.6zM88.9 367.8h2.1V371.3h-2.1zM103.1 363.9h2.1V371.3h-2.1zM93.3 370.6h1.1V371.3h-1.1zM105.9 368.2h1.8V371.3h-1.8zM96.4 368.2h1.0V371.3h-1.0zM104.1 362.8h2.0V371.3h-2.0zM107.5 368.7h1.2V371.3h-1.2zM95.2 370.2h2.2V371.3h-2.2zM107.2 362.7h1.1V371.3h-1.1zM108.1 370.2h1.2V371.3h-1.2zM105.4 370.5h1.1V371.3h-1.1zM108.3 368.9h1.2V371.3h-1.2zM101.5 371.0h0.9V371.3h-0.9zM96.9 371.1h1.1V371.3h-1.1zM96.5 369.3h1.8V371.3h-1.8zM103.4 370.2h1.6V371.3h-1.6zM88.7 366.9h1.6V371.3h-1.6zM94.8 362.6h0.8V371.3h-0.8zM108.5 367.2h0.9V371.3h-0.9zM101.0 370.9h1.0V371.3h-1.0zM95.5 367.0h1.6V371.3h-1.6zM99.6 370.0h0.7V371.3h-0.7zM95.1 369.1h1.2V371.3h-1.2zM93.6 369.9h2.0V371.3h-2.0zM101.3 370.9h1.1V371.3h-1.1zM106.0 369.7h1.9V371.3h-1.9zM89.4 370.0h1.1V371.3h-1.1zM102.1 363.0h1.8V371.3h-1.8zM100.4 364.0h1.2V371.3h-1.2zM90.5 365.0h0.9V371.3h-0.9zM98.0 370.7h2.2V371.3h-2.2zM98.5 371.1h0.9V371.3h-0.9zM90.3 369.1h0.7V371.3h-0.7zM97.8 369.6h1.4V371.3h-1.4zM92.0 368.1h1.4V371.3h-1.4zM96.5 370.1h2.0V371.3h-2.0zM107.8 369.3h1.1V371.3h-1.1zM101.9 369.6h1.5V371.3h-1.5zM90.1 369.1h2.1V371.3h-2.1zM90.8 367.8h1.6V371.3h-1.6zM95.5 362.9h1.1V371.3h-1.1zM96.2 370.3h1.2V371.3h-1.2zM103.0 368.5h1.6V371.3h-1.6zM97.3 364.2h0.9V371.3h-0.9zM98.4 369.0h1.9V371.3h-1.9zM104.6 370.0h0.5V371.3h-0.5zM108.8 366.1h1.7V371.3h-1.7zM99.3 370.1h1.3V371.3h-1.3zM92.1 365.9h1.6V371.3h-1.6zM94.0 370.5h1.6V371.3h-1.6zM101.9 368.0h0.8V371.3h-0.8zM95.2 370.5h1.4V371.3h-1.4zM99.0 370.5h1.5V371.3h-1.5zM95.1 367.6h1.7V371.3h-1.7zM102.0 367.4h1.8V371.3h-1.8zM93.2 363.3h1.3V371.3h-1.3zM100.8 369.1h1.8V371.3h-1.8zM98.2 363.5h2.1V371.3h-2.1zM102.8 366.9h0.7V371.3h-0.7zM104.4 362.9h1.0V371.3h-1.0zM92.2 367.9h1.9V371.3h-1.9zM88.6 368.5h2.0V371.3h-2.0zM106.7 367.8h1.7V371.3h-1.7zM107.4 361.0h0.8V371.3h-0.8zM95.8 369.3h0.5V371.3h-0.5zM89.7 366.8h0.6V371.3h-0.6zM90.9 369.6h0.8V371.3h-0.8zM94.4 360.7h2.1V371.3h-2.1zM107.6 368.5h2.2V371.3h-2.2zM106.3 370.0h1.7V371.3h-1.7zM89.9 360.1h1.45v1.45h-1.45zM99.7 366.6h1.45v1.45h-1.45zM106.3 369.8h1.45v1.45h-1.45zM102.9 367.9h1.45v1.45h-1.45zM104.7 368.0h1.45v1.45h-1.45zM94.0 365.0h1.45v1.45h-1.45zM105.7 369.2h1.45v1.45h-1.45zM102.8 368.4h1.45v1.45h-1.45zM92.7 369.4h1.45v1.45h-1.45zM108.3 368.6h1.45v1.45h-1.45zM98.8 367.6h1.45v1.45h-1.45zM88.5 364.8h1.45v1.45h-1.45zM103.8 362.1h1.45v1.45h-1.45zM95.6 369.4h1.45v1.45h-1.45zM95.4 365.2h1.45v1.45h-1.45zM102.0 368.3h1.45v1.45h-1.45zM226.2 369.2h0.7V371.3h-0.7zM237.5 370.0h2.1V371.3h-2.1zM228.4 369.7h0.5V371.3h-0.5zM225.9 369.5h1.4V371.3h-1.4zM235.1 367.1h1.5V371.3h-1.5zM229.6 366.0h1.7V371.3h-1.7zM235.7 368.4h1.3V371.3h-1.3zM229.4 368.3h0.6V371.3h-0.6zM234.3 362.4h0.8V371.3h-0.8zM238.0 363.6h2.0V371.3h-2.0zM232.4 369.7h0.8V371.3h-0.8zM236.1 370.6h2.2V371.3h-2.2zM225.2 369.2h1.1V371.3h-1.1zM234.0 362.9h0.7V371.3h-0.7zM230.1 369.3h2.0V371.3h-2.0zM233.9 370.8h1.9V371.3h-1.9zM239.1 369.0h0.7V371.3h-0.7zM229.0 369.1h1.5V371.3h-1.5zM238.2 363.5h0.9V371.3h-0.9zM228.9 367.3h1.1V371.3h-1.1zM228.6 366.4h1.7V371.3h-1.7zM226.5 370.8h2.1V371.3h-2.1zM235.5 370.4h1.1V371.3h-1.1zM226.3 364.0h2.2V371.3h-2.2zM238.6 369.7h1.4V371.3h-1.4zM232.8 365.3h2.2V371.3h-2.2zM235.1 368.8h1.9V371.3h-1.9zM233.4 370.1h1.9V371.3h-1.9zM237.9 367.7h0.5V371.3h-0.5zM231.6 368.8h0.8V371.3h-0.8zM233.9 371.1h1.2V371.3h-1.2zM226.5 370.5h1.7V371.3h-1.7zM228.9 362.4h1.9V371.3h-1.9zM238.2 371.1h0.8V371.3h-0.8zM236.3 369.1h1.5V371.3h-1.5zM225.4 369.9h1.2V371.3h-1.2zM233.9 370.1h2.2V371.3h-2.2zM226.2 370.6h1.7V371.3h-1.7zM229.9 368.3h1.0V371.3h-1.0zM227.5 365.8h1.2V371.3h-1.2zM229.9 370.2h1.9V371.3h-1.9zM226.6 368.4h1.6V371.3h-1.6zM237.6 369.9h1.45v1.45h-1.45zM235.2 366.0h1.45v1.45h-1.45zM230.0 369.8h1.45v1.45h-1.45zM233.4 364.8h1.45v1.45h-1.45zM231.4 367.8h1.45v1.45h-1.45zM234.4 366.7h1.45v1.45h-1.45zM230.8 369.6h1.45v1.45h-1.45zM231.3 367.2h1.45v1.45h-1.45zM232.6 368.8h1.45v1.45h-1.45zM228.0 366.4h1.45v1.45h-1.45zM319.8 366.5h0.9V371.3h-0.9zM317.2 370.7h1.1V371.3h-1.1zM316.6 363.6h1.4V371.3h-1.4zM314.0 369.5h0.8V371.3h-0.8zM319.5 366.7h0.9V371.3h-0.9zM312.5 365.7h0.6V371.3h-0.6zM316.7 368.3h0.7V371.3h-0.7zM320.1 367.5h1.2V371.3h-1.2zM316.0 370.9h1.4V371.3h-1.4zM319.8 369.2h1.5V371.3h-1.5zM319.9 367.0h1.1V371.3h-1.1zM317.2 371.0h0.8V371.3h-0.8zM318.9 367.4h0.8V371.3h-0.8zM312.4 370.3h0.5V371.3h-0.5zM318.2 371.0h1.4V371.3h-1.4zM320.0 362.5h1.3V371.3h-1.3zM312.6 368.3h1.9V371.3h-1.9zM314.2 370.8h1.2V371.3h-1.2zM317.5 365.8h0.9V371.3h-0.9zM313.8 366.9h1.7V371.3h-1.7zM318.7 369.6h2.1V371.3h-2.1zM318.4 361.2h1.2V371.3h-1.2zM319.5 367.1h1.8V371.3h-1.8zM320.2 363.5h1.1V371.3h-1.1zM318.4 364.0h1.9V371.3h-1.9zM316.3 364.1h1.2V371.3h-1.2zM318.2 362.0h1.4V371.3h-1.4zM312.5 368.4h0.5V371.3h-0.5zM312.8 363.1h1.45v1.45h-1.45zM312.7 361.9h1.45v1.45h-1.45zM313.8 369.8h1.45v1.45h-1.45zM318.1 365.9h1.45v1.45h-1.45zM315.3 366.8h1.45v1.45h-1.45zM316.1 367.3h1.45v1.45h-1.45zM106.2 358.3h1.45v1.45h-1.45zM106.2 360.3h1.45v1.45h-1.45zM106.8 361.8h1.45v1.45h-1.45zM104.8 362.3h1.45v1.45h-1.45zM90.9 361.3h1.45v1.45h-1.45zM95.3 361.8h1.45v1.45h-1.45zM100.3 361.1h1.45v1.45h-1.45zM236.2 357.6h1.45v1.45h-1.45zM236.1 358.9h1.45v1.45h-1.45zM236.3 360.2h1.45v1.45h-1.45zM236.1 361.4h1.45v1.45h-1.45zM228.3 360.6h1.45v1.45h-1.45zM316.1 271.7h1.45v1.45h-1.45zM317.1 334.9h1.45v1.45h-1.45zM312.8 360.3h1.45v1.45h-1.45zM313.8 359.8h1.45v1.45h-1.45zM314.8 359.5h1.45v1.45h-1.45z"/>
<path fill="#A0D296" d="M120.8 364.3h1.4V371.3h-1.4zM114.8 369.2h1.7V371.3h-1.7zM128.3 369.7h0.7V371.3h-0.7zM124.4 369.0h1.3V371.3h-1.3zM123.2 368.6h0.9V371.3h-0.9zM110.5 369.8h1.9V371.3h-1.9zM128.7 367.1h1.4V371.3h-1.4zM124.2 364.5h0.7V371.3h-0.7zM116.9 364.3h2.0V371.3h-2.0zM125.4 368.6h1.9V371.3h-1.9zM125.2 370.2h2.1V371.3h-2.1zM112.7 368.0h1.2V371.3h-1.2zM113.8 362.2h0.9V371.3h-0.9zM119.0 370.2h0.8V371.3h-0.8zM123.1 368.3h0.8V371.3h-0.8zM122.3 368.0h1.2V371.3h-1.2zM114.9 364.7h0.6V371.3h-0.6zM123.0 370.0h1.4V371.3h-1.4zM127.6 365.4h1.0V371.3h-1.0zM115.5 366.5h1.5V371.3h-1.5zM118.6 370.8h1.3V371.3h-1.3zM124.6 370.4h1.7V371.3h-1.7zM122.6 370.6h1.7V371.3h-1.7zM128.9 370.9h2.0V371.3h-2.0zM115.9 369.8h0.6V371.3h-0.6zM112.4 369.8h1.3V371.3h-1.3zM117.1 369.1h1.3V371.3h-1.3zM127.8 370.6h1.7V371.3h-1.7zM115.4 369.3h0.5V371.3h-0.5zM112.9 364.4h1.7V371.3h-1.7zM131.5 370.9h0.9V371.3h-0.9zM119.1 370.8h1.0V371.3h-1.0zM131.0 368.5h1.4V371.3h-1.4zM120.1 363.3h1.8V371.3h-1.8zM120.9 368.8h0.8V371.3h-0.8zM130.0 366.3h1.2V371.3h-1.2zM122.8 367.3h1.3V371.3h-1.3zM115.9 362.3h1.4V371.3h-1.4zM112.2 361.7h1.1V371.3h-1.1zM131.9 366.8h0.5V371.3h-0.5zM124.3 368.3h1.9V371.3h-1.9zM113.4 365.6h1.0V371.3h-1.0zM126.5 366.6h0.8V371.3h-0.8zM124.9 371.0h1.6V371.3h-1.6zM120.2 367.1h1.1V371.3h-1.1zM117.9 366.2h0.7V371.3h-0.7zM116.8 369.5h1.8V371.3h-1.8zM122.5 370.6h1.9V371.3h-1.9zM111.1 369.1h1.7V371.3h-1.7zM114.4 368.0h1.2V371.3h-1.2zM119.6 367.8h0.7V371.3h-0.7zM117.1 369.0h2.1V371.3h-2.1zM117.5 363.2h1.6V371.3h-1.6zM119.1 369.7h1.8V371.3h-1.8zM112.9 368.5h0.6V371.3h-0.6zM129.6 368.5h0.8V371.3h-0.8zM127.2 370.4h1.0V371.3h-1.0zM130.2 367.5h0.9V371.3h-0.9zM119.6 368.5h0.6V371.3h-0.6zM130.6 367.2h1.0V371.3h-1.0zM112.9 365.6h1.0V371.3h-1.0zM110.9 370.5h1.1V371.3h-1.1zM120.9 370.4h0.5V371.3h-0.5zM115.4 370.7h0.6V371.3h-0.6zM114.8 370.5h1.4V371.3h-1.4zM128.5 369.8h1.2V371.3h-1.2zM115.8 370.9h1.9V371.3h-1.9zM119.4 362.3h1.5V371.3h-1.5zM112.4 370.1h1.45v1.45h-1.45zM124.8 366.9h1.45v1.45h-1.45zM125.3 369.1h1.45v1.45h-1.45zM120.7 369.6h1.45v1.45h-1.45zM119.4 369.1h1.45v1.45h-1.45zM122.5 369.0h1.45v1.45h-1.45zM116.0 366.3h1.45v1.45h-1.45zM112.1 364.0h1.45v1.45h-1.45zM120.6 369.3h1.45v1.45h-1.45zM112.7 367.6h1.45v1.45h-1.45zM120.8 365.3h1.45v1.45h-1.45zM118.1 368.3h1.45v1.45h-1.45zM128.9 369.1h1.45v1.45h-1.45zM130.8 361.5h1.45v1.45h-1.45zM115.7 363.7h1.45v1.45h-1.45zM123.1 369.5h1.45v1.45h-1.45zM251.8 365.9h0.9V371.3h-0.9zM247.0 362.2h1.6V371.3h-1.6zM241.0 368.3h1.0V371.3h-1.0zM250.7 370.8h0.5V371.3h-0.5zM240.6 371.0h1.2V371.3h-1.2zM248.4 370.1h1.6V371.3h-1.6zM245.7 367.7h1.6V371.3h-1.6zM244.2 371.1h1.8V371.3h-1.8zM244.0 361.7h1.0V371.3h-1.0zM248.0 369.5h0.6V371.3h-0.6zM249.8 370.6h1.9V371.3h-1.9zM252.5 367.8h1.2V371.3h-1.2zM253.9 365.2h2.1V371.3h-2.1zM251.2 370.9h0.7V371.3h-0.7zM253.3 366.7h1.6V371.3h-1.6zM248.5 369.3h0.5V371.3h-0.5zM254.1 371.1h1.9V371.3h-1.9zM246.7 365.4h0.7V371.3h-0.7zM253.0 364.2h1.8V371.3h-1.8zM241.9 370.7h0.5V371.3h-0.5zM253.5 367.9h1.9V371.3h-1.9zM243.8 370.5h2.0V371.3h-2.0zM246.6 364.0h1.8V371.3h-1.8zM249.3 364.5h2.2V371.3h-2.2zM253.9 370.7h2.1V371.3h-2.1zM252.0 369.4h0.9V371.3h-0.9zM245.5 370.8h2.2V371.3h-2.2zM247.9 367.9h1.7V371.3h-1.7zM252.3 368.8h1.1V371.3h-1.1zM251.9 361.5h1.7V371.3h-1.7zM244.9 365.2h1.9V371.3h-1.9zM249.2 367.4h1.2V371.3h-1.2zM241.2 369.5h0.7V371.3h-0.7zM242.0 365.5h0.6V371.3h-0.6zM251.7 370.1h1.5V371.3h-1.5zM251.6 366.9h1.9V371.3h-1.9zM243.6 368.9h1.5V371.3h-1.5zM244.3 362.3h0.8V371.3h-0.8zM250.1 370.3h2.1V371.3h-2.1zM244.2 370.8h1.4V371.3h-1.4zM244.8 368.2h1.4V371.3h-1.4zM254.5 366.6h1.5V371.3h-1.5zM249.4 369.1h1.8V371.3h-1.8zM240.0 364.2h2.2V371.3h-2.2zM242.0 370.0h0.7V371.3h-0.7zM250.5 371.0h0.7V371.3h-0.7zM247.9 369.8h0.5V371.3h-0.5zM245.5 369.5h1.45v1.45h-1.45zM239.8 369.2h1.45v1.45h-1.45zM243.4 368.8h1.45v1.45h-1.45zM246.0 368.6h1.45v1.45h-1.45zM244.6 370.3h1.45v1.45h-1.45zM252.3 365.1h1.45v1.45h-1.45zM247.2 370.4h1.45v1.45h-1.45zM243.3 361.2h1.45v1.45h-1.45zM246.6 369.5h1.45v1.45h-1.45zM252.1 361.6h1.45v1.45h-1.45zM241.6 367.6h1.45v1.45h-1.45zM248.2 369.9h1.45v1.45h-1.45zM325.4 365.9h1.2V371.3h-1.2zM328.1 369.2h1.4V371.3h-1.4zM322.2 367.7h0.7V371.3h-0.7zM328.2 370.2h2.0V371.3h-2.0zM328.0 368.2h1.9V371.3h-1.9zM328.9 369.3h0.8V371.3h-0.8zM325.9 368.5h1.7V371.3h-1.7zM324.0 368.9h2.0V371.3h-2.0zM325.0 368.2h0.9V371.3h-0.9zM327.6 366.3h1.1V371.3h-1.1zM323.1 370.1h0.6V371.3h-0.6zM322.7 367.9h1.9V371.3h-1.9zM321.7 368.0h1.0V371.3h-1.0zM322.9 360.8h1.0V371.3h-1.0zM325.3 367.1h0.9V371.3h-0.9zM322.3 366.5h1.4V371.3h-1.4zM322.1 369.5h1.4V371.3h-1.4zM326.7 370.2h0.8V371.3h-0.8zM327.6 370.8h1.9V371.3h-1.9zM325.0 368.3h1.0V371.3h-1.0zM328.7 365.1h1.5V371.3h-1.5zM328.1 366.9h1.0V371.3h-1.0zM324.6 367.8h1.3V371.3h-1.3zM327.2 363.1h0.8V371.3h-0.8zM322.7 362.8h1.0V371.3h-1.0zM321.6 370.1h2.1V371.3h-2.1zM321.4 364.7h1.45v1.45h-1.45zM322.4 364.9h1.45v1.45h-1.45zM321.1 369.9h1.45v1.45h-1.45zM323.9 370.0h1.45v1.45h-1.45zM324.8 368.7h1.45v1.45h-1.45zM326.9 367.7h1.45v1.45h-1.45zM328.7 363.0h1.45v1.45h-1.45zM121.5 343.4h1.45v1.45h-1.45zM248.5 357.0h1.45v1.45h-1.45zM251.3 360.3h1.45v1.45h-1.45zM253.3 359.8h1.45v1.45h-1.45zM323.8 355.8h1.45v1.45h-1.45zM324.3 357.3h1.45v1.45h-1.45zM322.8 359.3h1.45v1.45h-1.45zM125.3 361.3h1.45v1.45h-1.45zM116.3 361.8h1.45v1.45h-1.45z"/>
<path fill="#788CC3" d="M151.6 363.8h1.6V371.3h-1.6zM144.0 362.3h0.6V371.3h-0.6zM136.0 366.9h0.9V371.3h-0.9zM136.4 365.6h1.3V371.3h-1.3zM134.4 370.6h1.6V371.3h-1.6zM142.3 366.0h1.6V371.3h-1.6zM140.5 369.0h1.2V371.3h-1.2zM146.9 366.5h1.8V371.3h-1.8zM140.8 367.9h1.5V371.3h-1.5zM148.6 368.3h2.2V371.3h-2.2zM149.9 365.1h0.9V371.3h-0.9zM147.3 363.2h2.1V371.3h-2.1zM150.7 364.3h1.0V371.3h-1.0zM142.3 369.1h1.0V371.3h-1.0zM149.0 362.9h1.9V371.3h-1.9zM146.3 370.4h0.8V371.3h-0.8zM144.2 369.3h0.9V371.3h-0.9zM134.5 365.5h0.8V371.3h-0.8zM137.1 369.3h1.9V371.3h-1.9zM150.1 369.7h1.0V371.3h-1.0zM140.6 368.6h0.5V371.3h-0.5zM140.3 362.4h0.5V371.3h-0.5zM137.2 371.0h0.9V371.3h-0.9zM134.5 367.3h1.7V371.3h-1.7zM142.9 369.6h0.9V371.3h-0.9zM150.8 362.8h0.7V371.3h-0.7zM132.8 363.8h1.7V371.3h-1.7zM146.9 363.7h1.4V371.3h-1.4zM135.6 369.7h1.4V371.3h-1.4zM140.7 365.7h0.8V371.3h-0.8zM144.3 366.7h1.8V371.3h-1.8zM144.9 363.7h2.1V371.3h-2.1zM140.1 369.3h0.7V371.3h-0.7zM147.1 366.5h2.1V371.3h-2.1zM146.2 364.5h2.1V371.3h-2.1zM141.7 364.8h1.3V371.3h-1.3zM139.0 366.8h0.7V371.3h-0.7zM149.2 366.0h0.9V371.3h-0.9zM151.0 370.5h0.7V371.3h-0.7zM151.9 364.2h1.3V371.3h-1.3zM136.0 368.4h0.6V371.3h-0.6zM132.8 368.8h1.3V371.3h-1.3zM152.0 362.8h1.2V371.3h-1.2zM148.6 369.9h1.5V371.3h-1.5zM138.7 368.9h1.3V371.3h-1.3zM145.8 369.4h1.4V371.3h-1.4zM145.0 370.1h2.2V371.3h-2.2zM139.4 370.7h0.5V371.3h-0.5zM133.6 363.1h1.2V371.3h-1.2zM146.9 363.1h2.1V371.3h-2.1zM144.6 371.0h1.5V371.3h-1.5zM140.4 366.8h0.9V371.3h-0.9zM133.8 369.0h1.4V371.3h-1.4zM142.6 370.6h1.2V371.3h-1.2zM147.6 367.1h1.9V371.3h-1.9zM134.8 362.1h1.5V371.3h-1.5zM151.4 370.9h1.8V371.3h-1.8zM150.7 369.7h1.6V371.3h-1.6zM151.3 361.2h1.9V371.3h-1.9zM137.5 369.0h1.5V371.3h-1.5zM138.6 366.9h1.8V371.3h-1.8zM144.2 367.4h2.1V371.3h-2.1zM152.7 368.4h0.5V371.3h-0.5zM144.5 367.8h1.45v1.45h-1.45zM144.7 367.4h1.45v1.45h-1.45zM132.5 368.8h1.45v1.45h-1.45zM149.5 370.1h1.45v1.45h-1.45zM147.8 370.3h1.45v1.45h-1.45zM145.0 364.0h1.45v1.45h-1.45zM136.9 368.5h1.45v1.45h-1.45zM136.7 365.5h1.45v1.45h-1.45zM142.6 366.7h1.45v1.45h-1.45zM138.6 366.9h1.45v1.45h-1.45zM151.1 364.4h1.45v1.45h-1.45zM151.0 369.3h1.45v1.45h-1.45zM142.4 368.4h1.45v1.45h-1.45zM139.0 363.9h1.45v1.45h-1.45zM135.6 367.1h1.45v1.45h-1.45zM260.9 366.2h1.6V371.3h-1.6zM265.6 369.0h1.6V371.3h-1.6zM257.0 363.1h0.5V371.3h-0.5zM269.1 370.8h2.0V371.3h-2.0zM267.7 369.2h0.8V371.3h-0.8zM259.0 363.6h2.0V371.3h-2.0zM260.0 366.2h1.5V371.3h-1.5zM259.6 370.6h1.1V371.3h-1.1zM268.1 370.5h0.8V371.3h-0.8zM260.2 366.6h1.6V371.3h-1.6zM264.0 365.0h2.0V371.3h-2.0zM259.2 370.3h1.4V371.3h-1.4zM259.7 370.7h0.7V371.3h-0.7zM261.3 366.4h2.0V371.3h-2.0zM257.3 367.2h0.9V371.3h-0.9zM264.1 370.7h0.5V371.3h-0.5zM264.6 370.7h1.5V371.3h-1.5zM267.7 367.2h0.9V371.3h-0.9zM262.0 367.7h1.2V371.3h-1.2zM268.8 364.6h2.2V371.3h-2.2zM264.2 366.6h1.7V371.3h-1.7zM269.0 364.8h2.2V371.3h-2.2zM259.3 368.6h1.5V371.3h-1.5zM259.5 370.0h1.8V371.3h-1.8zM266.8 368.7h1.3V371.3h-1.3zM269.3 369.8h1.9V371.3h-1.9zM262.8 371.0h1.1V371.3h-1.1zM263.1 369.5h1.4V371.3h-1.4zM257.6 370.8h1.3V371.3h-1.3zM258.6 369.2h1.3V371.3h-1.3zM263.6 368.9h1.4V371.3h-1.4zM258.0 367.5h0.5V371.3h-0.5zM270.2 369.2h1.0V371.3h-1.0zM260.9 368.1h1.8V371.3h-1.8zM268.1 370.5h0.5V371.3h-0.5zM259.1 368.9h1.1V371.3h-1.1zM261.9 368.6h2.1V371.3h-2.1zM264.7 366.6h2.1V371.3h-2.1zM265.0 369.3h1.9V371.3h-1.9zM256.5 367.7h2.1V371.3h-2.1zM264.8 365.1h0.6V371.3h-0.6zM261.7 369.6h1.6V371.3h-1.6zM270.0 369.7h1.1V371.3h-1.1zM269.6 369.7h0.9V371.3h-0.9zM263.4 370.6h2.2V371.3h-2.2zM259.2 370.8h1.9V371.3h-1.9zM262.3 365.6h1.8V371.3h-1.8zM268.1 361.4h0.7V371.3h-0.7zM261.4 368.3h1.9V371.3h-1.9zM268.4 367.8h1.45v1.45h-1.45zM259.4 369.7h1.45v1.45h-1.45zM262.8 370.2h1.45v1.45h-1.45zM258.1 362.2h1.45v1.45h-1.45zM263.9 362.5h1.45v1.45h-1.45zM257.9 367.8h1.45v1.45h-1.45zM262.4 369.9h1.45v1.45h-1.45zM259.5 360.3h1.45v1.45h-1.45zM266.0 367.6h1.45v1.45h-1.45zM264.4 362.6h1.45v1.45h-1.45zM269.3 366.8h1.45v1.45h-1.45zM256.5 362.2h1.45v1.45h-1.45zM331.4 361.2h2.1V371.3h-2.1zM334.0 370.3h1.4V371.3h-1.4zM332.4 370.1h0.9V371.3h-0.9zM334.4 364.7h1.1V371.3h-1.1zM334.1 370.7h1.9V371.3h-1.9zM335.6 366.7h1.4V371.3h-1.4zM331.8 368.8h1.7V371.3h-1.7zM335.1 370.4h1.5V371.3h-1.5zM332.2 371.0h1.8V371.3h-1.8zM334.5 365.6h1.4V371.3h-1.4zM332.4 368.2h1.3V371.3h-1.3zM335.3 368.0h0.6V371.3h-0.6zM332.0 369.8h1.5V371.3h-1.5zM331.6 361.2h0.9V371.3h-0.9zM332.7 365.3h2.0V371.3h-2.0zM332.0 371.1h1.4V371.3h-1.4zM335.4 370.6h1.6V371.3h-1.6zM333.7 366.2h1.3V371.3h-1.3zM332.2 366.8h2.0V371.3h-2.0zM330.7 361.6h1.9V371.3h-1.9zM332.3 362.4h1.7V371.3h-1.7zM336.2 363.1h0.6V371.3h-0.6zM331.9 366.0h1.9V371.3h-1.9zM332.7 361.2h1.45v1.45h-1.45zM335.5 367.0h1.45v1.45h-1.45zM334.2 366.0h1.45v1.45h-1.45zM332.3 367.6h1.45v1.45h-1.45zM132.5 343.4h1.45v1.45h-1.45zM261.9 355.9h1.45v1.45h-1.45zM266.3 354.5h1.45v1.45h-1.45zM262.3 359.8h1.45v1.45h-1.45zM267.8 360.3h1.45v1.45h-1.45zM336.1 338.6h1.45v1.45h-1.45zM266.3 354.1h1.45v1.45h-1.45zM334.7 353.5h1.45v1.45h-1.45zM145.3 360.3h1.45v1.45h-1.45zM149.3 359.3h1.45v1.45h-1.45zM138.3 361.3h1.45v1.45h-1.45z"/>
<path fill="#414B9B" d="M168.5 371.0h2.1V371.3h-2.1zM156.4 368.9h1.9V371.3h-1.9zM164.0 370.8h2.1V371.3h-2.1zM159.7 370.5h0.8V371.3h-0.8zM159.2 367.3h1.7V371.3h-1.7zM155.6 368.0h1.9V371.3h-1.9zM156.0 363.5h1.9V371.3h-1.9zM157.5 363.8h2.1V371.3h-2.1zM157.7 362.2h0.5V371.3h-0.5zM169.6 364.7h0.7V371.3h-0.7zM168.5 363.2h1.6V371.3h-1.6zM171.9 363.2h1.1V371.3h-1.1zM171.4 366.0h1.0V371.3h-1.0zM166.8 367.4h1.9V371.3h-1.9zM158.7 367.7h0.9V371.3h-0.9zM155.9 361.4h2.0V371.3h-2.0zM158.0 366.2h1.7V371.3h-1.7zM155.6 364.7h1.8V371.3h-1.8zM159.3 369.6h0.7V371.3h-0.7zM168.5 363.7h1.3V371.3h-1.3zM156.4 369.2h0.7V371.3h-0.7zM170.6 370.8h0.8V371.3h-0.8zM168.1 366.3h0.7V371.3h-0.7zM154.9 366.3h0.9V371.3h-0.9zM170.5 368.5h1.2V371.3h-1.2zM153.8 369.9h1.1V371.3h-1.1zM168.8 364.3h1.7V371.3h-1.7zM163.7 370.5h1.7V371.3h-1.7zM160.8 369.6h1.0V371.3h-1.0zM167.8 369.4h0.9V371.3h-0.9zM158.8 366.6h2.0V371.3h-2.0zM171.7 367.4h1.3V371.3h-1.3zM170.3 369.8h0.9V371.3h-0.9zM155.2 364.7h1.4V371.3h-1.4zM162.7 363.1h1.2V371.3h-1.2zM170.9 370.5h1.1V371.3h-1.1zM166.3 367.9h1.0V371.3h-1.0zM158.9 368.3h1.3V371.3h-1.3zM162.7 370.4h2.1V371.3h-2.1zM171.4 362.0h1.6V371.3h-1.6zM161.4 371.0h2.2V371.3h-2.2zM170.0 369.0h1.9V371.3h-1.9zM169.6 365.0h0.9V371.3h-0.9zM162.5 370.1h1.2V371.3h-1.2zM169.0 370.7h1.7V371.3h-1.7zM172.1 369.0h0.9V371.3h-0.9zM161.4 361.4h1.5V371.3h-1.5zM171.4 369.1h1.6V371.3h-1.6zM155.3 367.9h0.6V371.3h-0.6zM161.4 368.7h1.1V371.3h-1.1zM156.6 367.2h2.1V371.3h-2.1zM163.9 369.8h1.2V371.3h-1.2zM159.4 368.5h1.3V371.3h-1.3zM171.5 370.1h1.5V371.3h-1.5zM154.3 369.2h0.8V371.3h-0.8zM168.7 369.9h2.0V371.3h-2.0zM168.6 367.7h1.3V371.3h-1.3zM163.8 370.8h0.6V371.3h-0.6zM166.4 369.0h1.7V371.3h-1.7zM171.1 369.5h1.9V371.3h-1.9zM154.5 366.4h1.4V371.3h-1.4zM157.6 368.2h0.6V371.3h-0.6zM153.9 366.8h1.8V371.3h-1.8zM158.2 368.0h1.45v1.45h-1.45zM157.4 369.6h1.45v1.45h-1.45zM156.4 363.7h1.45v1.45h-1.45zM161.5 365.4h1.45v1.45h-1.45zM159.5 363.9h1.45v1.45h-1.45zM164.2 366.2h1.45v1.45h-1.45zM160.4 367.1h1.45v1.45h-1.45zM165.6 367.4h1.45v1.45h-1.45zM165.0 370.0h1.45v1.45h-1.45zM159.3 369.3h1.45v1.45h-1.45zM168.8 370.3h1.45v1.45h-1.45zM161.3 362.3h1.45v1.45h-1.45zM167.7 365.4h1.45v1.45h-1.45zM158.6 369.3h1.45v1.45h-1.45zM273.1 370.5h0.9V371.3h-0.9zM277.0 368.4h1.5V371.3h-1.5zM276.6 365.5h0.7V371.3h-0.7zM277.3 363.2h1.0V371.3h-1.0zM272.0 368.5h1.2V371.3h-1.2zM274.1 360.7h1.8V371.3h-1.8zM281.3 370.6h1.3V371.3h-1.3zM276.4 364.3h1.4V371.3h-1.4zM271.3 370.7h1.5V371.3h-1.5zM273.7 370.0h2.0V371.3h-2.0zM271.7 370.8h0.6V371.3h-0.6zM275.6 369.2h2.2V371.3h-2.2zM279.4 367.9h0.6V371.3h-0.6zM277.3 367.3h0.7V371.3h-0.7zM276.3 363.3h1.1V371.3h-1.1zM279.1 370.6h0.7V371.3h-0.7zM271.8 366.6h0.9V371.3h-0.9zM280.5 362.3h2.1V371.3h-2.1zM272.6 364.8h1.8V371.3h-1.8zM276.6 367.1h2.2V371.3h-2.2zM272.5 370.5h0.9V371.3h-0.9zM278.2 362.5h1.6V371.3h-1.6zM274.2 362.2h0.9V371.3h-0.9zM272.5 361.1h1.8V371.3h-1.8zM277.6 371.1h1.5V371.3h-1.5zM278.1 364.6h1.5V371.3h-1.5zM277.1 370.0h0.7V371.3h-0.7zM278.6 370.6h0.6V371.3h-0.6zM274.1 367.6h1.9V371.3h-1.9zM275.3 367.3h2.1V371.3h-2.1zM273.9 362.6h1.5V371.3h-1.5zM275.4 367.3h1.2V371.3h-1.2zM281.0 370.2h1.6V371.3h-1.6zM277.8 368.3h1.0V371.3h-1.0zM278.4 370.3h1.45v1.45h-1.45zM276.3 368.9h1.45v1.45h-1.45zM277.2 363.6h1.45v1.45h-1.45zM275.8 366.4h1.45v1.45h-1.45zM274.0 369.2h1.45v1.45h-1.45zM276.3 367.4h1.45v1.45h-1.45zM273.3 364.6h1.45v1.45h-1.45zM276.2 368.6h1.45v1.45h-1.45zM273.6 363.2h1.45v1.45h-1.45zM341.4 369.8h0.9V371.3h-0.9zM343.8 365.8h1.9V371.3h-1.9zM343.0 367.4h1.4V371.3h-1.4zM342.8 368.5h0.5V371.3h-0.5zM344.9 368.3h0.8V371.3h-0.8zM337.7 363.5h0.9V371.3h-0.9zM337.3 364.1h1.9V371.3h-1.9zM341.7 370.6h1.7V371.3h-1.7zM337.0 370.6h0.9V371.3h-0.9zM342.9 365.6h0.8V371.3h-0.8zM339.8 370.8h1.4V371.3h-1.4zM343.9 367.3h1.8V371.3h-1.8zM343.0 370.5h1.1V371.3h-1.1zM339.8 367.5h1.8V371.3h-1.8zM338.2 368.3h0.9V371.3h-0.9zM337.1 368.5h0.6V371.3h-0.6zM338.2 370.5h2.0V371.3h-2.0zM343.5 369.4h1.9V371.3h-1.9zM341.7 366.9h2.2V371.3h-2.2zM340.4 369.8h2.2V371.3h-2.2zM344.7 368.7h1.0V371.3h-1.0zM339.7 361.7h1.6V371.3h-1.6zM343.3 362.8h1.4V371.3h-1.4zM337.9 364.3h1.5V371.3h-1.5zM343.8 370.8h1.6V371.3h-1.6zM341.2 367.0h1.0V371.3h-1.0zM339.8 368.0h1.45v1.45h-1.45zM340.9 366.9h1.45v1.45h-1.45zM343.6 369.1h1.45v1.45h-1.45zM338.9 369.6h1.45v1.45h-1.45zM337.6 362.9h1.45v1.45h-1.45zM343.9 369.8h1.45v1.45h-1.45zM156.9 352.6h1.45v1.45h-1.45zM280.4 349.8h1.45v1.45h-1.45zM158.0 356.8h1.45v1.45h-1.45zM157.4 358.0h1.45v1.45h-1.45zM157.2 359.5h1.45v1.45h-1.45zM157.0 361.0h1.45v1.45h-1.45zM157.5 362.5h1.45v1.45h-1.45zM167.3 358.8h1.45v1.45h-1.45zM164.3 361.3h1.45v1.45h-1.45zM337.8 357.3h1.45v1.45h-1.45zM339.3 359.3h1.45v1.45h-1.45zM342.3 360.3h1.45v1.45h-1.45z"/>
<path fill="#B24A9B" d="M186.0 365.5h1.0V371.3h-1.0zM179.4 367.4h1.8V371.3h-1.8zM188.0 369.0h2.2V371.3h-2.2zM190.9 361.9h0.5V371.3h-0.5zM173.5 368.9h1.4V371.3h-1.4zM187.2 370.1h1.0V371.3h-1.0zM187.4 364.9h1.4V371.3h-1.4zM182.0 364.6h0.6V371.3h-0.6zM177.0 371.1h1.3V371.3h-1.3zM177.8 364.7h1.6V371.3h-1.6zM184.7 365.3h1.3V371.3h-1.3zM185.3 367.7h0.9V371.3h-0.9zM184.0 370.1h1.7V371.3h-1.7zM178.7 370.7h1.1V371.3h-1.1zM179.4 367.3h1.7V371.3h-1.7zM176.2 370.6h1.7V371.3h-1.7zM186.8 370.7h0.8V371.3h-0.8zM177.6 369.7h1.4V371.3h-1.4zM189.3 369.6h2.1V371.3h-2.1zM186.8 367.5h1.7V371.3h-1.7zM173.2 369.4h1.1V371.3h-1.1zM176.7 361.0h1.2V371.3h-1.2zM173.4 369.5h1.9V371.3h-1.9zM173.2 369.7h2.0V371.3h-2.0zM176.9 369.1h0.7V371.3h-0.7zM175.2 369.8h0.8V371.3h-0.8zM183.6 369.5h1.3V371.3h-1.3zM182.7 365.4h1.8V371.3h-1.8zM179.3 364.2h2.1V371.3h-2.1zM183.3 369.3h1.3V371.3h-1.3zM175.5 367.0h2.0V371.3h-2.0zM174.8 361.5h2.1V371.3h-2.1zM173.6 369.9h1.7V371.3h-1.7zM182.9 369.2h1.9V371.3h-1.9zM182.2 370.2h1.6V371.3h-1.6zM176.5 370.9h1.7V371.3h-1.7zM178.0 370.4h0.7V371.3h-0.7zM182.7 364.1h0.8V371.3h-0.8zM174.8 362.4h1.6V371.3h-1.6zM175.3 364.7h0.9V371.3h-0.9zM181.7 369.3h2.1V371.3h-2.1zM180.3 369.2h2.1V371.3h-2.1zM189.4 370.1h2.0V371.3h-2.0zM183.0 370.6h2.1V371.3h-2.1zM188.6 365.0h1.8V371.3h-1.8zM174.9 365.4h1.8V371.3h-1.8zM178.8 368.8h1.7V371.3h-1.7zM180.1 368.3h1.9V371.3h-1.9zM187.9 367.6h1.0V371.3h-1.0zM173.5 370.7h1.3V371.3h-1.3zM188.8 368.7h1.7V371.3h-1.7zM174.5 365.4h1.7V371.3h-1.7zM181.1 363.7h1.5V371.3h-1.5zM178.0 370.5h0.6V371.3h-0.6zM189.6 370.1h1.8V371.3h-1.8zM175.7 366.3h2.0V371.3h-2.0zM183.7 368.8h0.7V371.3h-0.7zM189.2 370.4h1.45v1.45h-1.45zM180.1 370.1h1.45v1.45h-1.45zM190.1 369.9h1.45v1.45h-1.45zM189.4 363.1h1.45v1.45h-1.45zM185.5 370.2h1.45v1.45h-1.45zM184.9 367.7h1.45v1.45h-1.45zM181.3 369.8h1.45v1.45h-1.45zM181.7 364.0h1.45v1.45h-1.45zM175.1 362.1h1.45v1.45h-1.45zM180.1 369.1h1.45v1.45h-1.45zM176.9 367.9h1.45v1.45h-1.45zM184.0 367.0h1.45v1.45h-1.45zM188.3 367.5h1.45v1.45h-1.45zM290.2 369.8h2.1V371.3h-2.1zM283.3 371.0h1.6V371.3h-1.6zM290.6 369.3h1.7V371.3h-1.7zM286.9 370.3h1.7V371.3h-1.7zM286.1 366.1h1.8V371.3h-1.8zM288.3 370.0h0.7V371.3h-0.7zM285.1 366.6h0.6V371.3h-0.6zM288.2 367.5h2.1V371.3h-2.1zM291.0 367.9h1.3V371.3h-1.3zM287.3 369.2h0.5V371.3h-0.5zM284.5 368.0h1.6V371.3h-1.6zM287.2 364.8h2.1V371.3h-2.1zM283.4 365.8h0.6V371.3h-0.6zM288.4 368.0h1.6V371.3h-1.6zM282.9 363.2h1.3V371.3h-1.3zM288.4 370.5h0.6V371.3h-0.6zM290.9 370.3h1.4V371.3h-1.4zM289.5 362.3h2.1V371.3h-2.1zM288.9 370.7h1.9V371.3h-1.9zM287.1 369.3h1.9V371.3h-1.9zM284.0 365.7h2.0V371.3h-2.0zM282.7 367.5h0.6V371.3h-0.6zM290.7 361.9h1.6V371.3h-1.6zM283.6 370.2h1.5V371.3h-1.5zM285.8 368.4h0.8V371.3h-0.8zM283.0 366.5h1.6V371.3h-1.6zM290.5 370.8h1.8V371.3h-1.8zM287.4 365.7h0.6V371.3h-0.6zM284.3 367.7h2.2V371.3h-2.2zM291.0 369.4h1.3V371.3h-1.3zM289.0 368.4h1.7V371.3h-1.7zM284.8 368.2h1.45v1.45h-1.45zM288.6 369.3h1.45v1.45h-1.45zM283.7 367.8h1.45v1.45h-1.45zM288.1 370.1h1.45v1.45h-1.45zM284.7 364.5h1.45v1.45h-1.45zM285.0 370.0h1.45v1.45h-1.45zM346.9 362.3h2.0V371.3h-2.0zM346.7 369.5h2.2V371.3h-2.2zM345.9 368.0h0.9V371.3h-0.9zM345.7 368.3h0.9V371.3h-0.9zM347.9 370.5h0.8V371.3h-0.8zM346.8 370.5h0.7V371.3h-0.7zM346.0 361.8h1.9V371.3h-1.9zM345.8 362.9h1.9V371.3h-1.9zM347.8 363.6h1.0V371.3h-1.0zM346.4 364.9h2.1V371.3h-2.1zM345.6 370.0h1.45v1.45h-1.45zM346.9 369.7h1.45v1.45h-1.45zM176.3 354.8h1.45v1.45h-1.45zM173.3 357.7h1.45v1.45h-1.45zM176.2 354.8h1.45v1.45h-1.45zM188.9 358.4h1.45v1.45h-1.45zM180.0 359.9h1.45v1.45h-1.45zM179.8 361.3h1.45v1.45h-1.45zM179.9 362.6h1.45v1.45h-1.45zM185.3 361.3h1.45v1.45h-1.45zM348.1 355.2h1.45v1.45h-1.45zM284.8 361.8h1.45v1.45h-1.45zM286.8 361.8h1.45v1.45h-1.45zM288.3 361.6h1.45v1.45h-1.45z"/>
<rect x="22" y="328.05" width="341" height="0.7" fill="#ff9a9a" opacity="0.9"/>
<rect x="22" y="366.05" width="341" height="0.6" fill="#6a6ad0" opacity="0.55"/>
<rect x="21.05" y="254.50" width="0.7" height="123.20" fill="#777"/>
<rect x="19.20" y="377.40" width="2.2" height="0.6" fill="#777"/>
<text x="16.00" y="379.90" font-size="6.2" text-anchor="end" fill="#3a3a3a" font-weight="bold" textLength="2.4" lengthAdjust="spacingAndGlyphs">0</text>
<rect x="19.20" y="359.80" width="2.2" height="0.6" fill="#777"/>
<text x="16.00" y="362.30" font-size="6.2" text-anchor="end" fill="#3a3a3a" font-weight="bold" textLength="2.4" lengthAdjust="spacingAndGlyphs">2</text>
<rect x="19.20" y="342.20" width="2.2" height="0.6" fill="#777"/>
<text x="16.00" y="344.70" font-size="6.2" text-anchor="end" fill="#3a3a3a" font-weight="bold" textLength="2.4" lengthAdjust="spacingAndGlyphs">4</text>
<rect x="19.20" y="324.60" width="2.2" height="0.6" fill="#777"/>
<text x="16.00" y="327.10" font-size="6.2" text-anchor="end" fill="#3a3a3a" font-weight="bold" textLength="2.4" lengthAdjust="spacingAndGlyphs">6</text>
<rect x="19.20" y="307.00" width="2.2" height="0.6" fill="#777"/>
<text x="16.00" y="309.50" font-size="6.2" text-anchor="end" fill="#3a3a3a" font-weight="bold" textLength="2.4" lengthAdjust="spacingAndGlyphs">8</text>
<rect x="19.20" y="289.40" width="2.2" height="0.6" fill="#777"/>
<text x="16.00" y="291.90" font-size="6.2" text-anchor="end" fill="#3a3a3a" font-weight="bold" textLength="4.8" lengthAdjust="spacingAndGlyphs">10</text>
<rect x="19.20" y="271.80" width="2.2" height="0.6" fill="#777"/>
<text x="16.00" y="274.30" font-size="6.2" text-anchor="end" fill="#3a3a3a" font-weight="bold" textLength="4.8" lengthAdjust="spacingAndGlyphs">12</text>
<rect x="19.20" y="254.20" width="2.2" height="0.6" fill="#777"/>
<text x="16.00" y="256.70" font-size="6.2" text-anchor="end" fill="#3a3a3a" font-weight="bold" textLength="4.8" lengthAdjust="spacingAndGlyphs">14</text>
<rect x="44.20" y="378.40" width="0.6" height="2.8" fill="#777"/>
<text x="44.50" y="389.00" font-size="5.9" text-anchor="middle" fill="#3a3a3a" font-weight="bold" textLength="2.55" lengthAdjust="spacingAndGlyphs">1</text>
<rect x="74.00" y="378.40" width="0.6" height="2.8" fill="#777"/>
<text x="74.30" y="389.00" font-size="5.9" text-anchor="middle" fill="#3a3a3a" font-weight="bold" textLength="2.55" lengthAdjust="spacingAndGlyphs">2</text>
<rect x="99.40" y="378.40" width="0.6" height="2.8" fill="#777"/>
<text x="99.70" y="389.00" font-size="5.9" text-anchor="middle" fill="#3a3a3a" font-weight="bold" textLength="2.55" lengthAdjust="spacingAndGlyphs">3</text>
<rect x="120.20" y="378.40" width="0.6" height="2.8" fill="#777"/>
<text x="120.50" y="389.00" font-size="5.9" text-anchor="middle" fill="#3a3a3a" font-weight="bold" textLength="2.55" lengthAdjust="spacingAndGlyphs">4</text>
<rect x="147.90" y="378.40" width="0.6" height="2.8" fill="#777"/>
<text x="148.20" y="389.00" font-size="5.9" text-anchor="middle" fill="#3a3a3a" font-weight="bold" textLength="2.55" lengthAdjust="spacingAndGlyphs">5</text>
<rect x="158.40" y="378.40" width="0.6" height="2.8" fill="#777"/>
<text x="158.70" y="389.00" font-size="5.9" text-anchor="middle" fill="#3a3a3a" font-weight="bold" textLength="2.55" lengthAdjust="spacingAndGlyphs">6</text>
<rect x="184.20" y="378.40" width="0.6" height="2.8" fill="#777"/>
<text x="184.50" y="389.00" font-size="5.9" text-anchor="middle" fill="#3a3a3a" font-weight="bold" textLength="2.55" lengthAdjust="spacingAndGlyphs">7</text>
<rect x="200.20" y="378.40" width="0.6" height="2.8" fill="#777"/>
<text x="200.50" y="389.00" font-size="5.9" text-anchor="middle" fill="#3a3a3a" font-weight="bold" textLength="2.55" lengthAdjust="spacingAndGlyphs">8</text>
<rect x="221.10" y="378.40" width="0.6" height="2.8" fill="#777"/>
<text x="221.40" y="389.00" font-size="5.9" text-anchor="middle" fill="#3a3a3a" font-weight="bold" textLength="2.55" lengthAdjust="spacingAndGlyphs">9</text>
<rect x="234.30" y="378.40" width="0.6" height="2.8" fill="#777"/>
<text x="234.60" y="389.00" font-size="5.9" text-anchor="middle" fill="#3a3a3a" font-weight="bold" textLength="5.1" lengthAdjust="spacingAndGlyphs">10</text>
<rect x="248.00" y="378.40" width="0.6" height="2.8" fill="#777"/>
<text x="248.30" y="389.00" font-size="5.9" text-anchor="middle" fill="#3a3a3a" font-weight="bold" textLength="5.1" lengthAdjust="spacingAndGlyphs">11</text>
<rect x="262.70" y="378.40" width="0.6" height="2.8" fill="#777"/>
<text x="263.00" y="389.00" font-size="5.9" text-anchor="middle" fill="#3a3a3a" font-weight="bold" textLength="5.1" lengthAdjust="spacingAndGlyphs">12</text>
<rect x="275.10" y="378.40" width="0.6" height="2.8" fill="#777"/>
<text x="275.40" y="389.00" font-size="5.9" text-anchor="middle" fill="#3a3a3a" font-weight="bold" textLength="5.1" lengthAdjust="spacingAndGlyphs">13</text>
<rect x="287.50" y="378.40" width="0.6" height="2.8" fill="#777"/>
<text x="287.80" y="389.00" font-size="5.9" text-anchor="middle" fill="#3a3a3a" font-weight="bold" textLength="5.1" lengthAdjust="spacingAndGlyphs">14</text>
<rect x="297.40" y="378.40" width="0.6" height="2.8" fill="#777"/>
<text x="297.70" y="389.00" font-size="5.9" text-anchor="middle" fill="#3a3a3a" font-weight="bold" textLength="5.1" lengthAdjust="spacingAndGlyphs">15</text>
<rect x="305.30" y="378.40" width="0.6" height="2.8" fill="#777"/>
<rect x="317.50" y="378.40" width="0.6" height="2.8" fill="#777"/>
<text x="317.80" y="389.00" font-size="5.9" text-anchor="middle" fill="#3a3a3a" font-weight="bold" textLength="5.1" lengthAdjust="spacingAndGlyphs">17</text>
<rect x="326.40" y="378.40" width="0.6" height="2.8" fill="#777"/>
<text x="326.70" y="389.00" font-size="5.9" text-anchor="middle" fill="#3a3a3a" font-weight="bold" textLength="5.1" lengthAdjust="spacingAndGlyphs">18</text>
<rect x="335.10" y="378.40" width="0.6" height="2.8" fill="#777"/>
<rect x="341.30" y="378.40" width="0.6" height="2.8" fill="#777"/>
<text x="341.60" y="389.00" font-size="5.9" text-anchor="middle" fill="#3a3a3a" font-weight="bold" textLength="5.1" lengthAdjust="spacingAndGlyphs">20</text>
<rect x="347.50" y="378.40" width="0.6" height="2.8" fill="#777"/>
<rect x="351.70" y="378.40" width="0.6" height="2.8" fill="#777"/>
<text x="352.00" y="389.00" font-size="5.9" text-anchor="middle" fill="#3a3a3a" font-weight="bold" textLength="5.1" lengthAdjust="spacingAndGlyphs">22</text>
<text x="192.50" y="401.80" font-size="5.4" text-anchor="middle" fill="#000" textLength="26.3" lengthAdjust="spacingAndGlyphs">Chromosome</text>
<text x="3.60" y="312.00" font-size="4.8" text-anchor="middle" fill="#1a1a1a" textLength="38.5" lengthAdjust="spacingAndGlyphs" transform="rotate(-90 3.60 312.00)">−log10(P−value)</text>
<rect x="436.57" y="55.60" width="0.6" height="234.70" fill="#f3f3f3"/>
<rect x="508.32" y="55.60" width="0.6" height="234.70" fill="#f3f3f3"/>
<rect x="580.08" y="55.60" width="0.6" height="234.70" fill="#f3f3f3"/>
<rect x="651.83" y="55.60" width="0.6" height="234.70" fill="#f3f3f3"/>
<rect x="400.65" y="55.60" width="0.7" height="234.70" fill="#e9e9e9"/>
<rect x="472.40" y="55.60" width="0.7" height="234.70" fill="#e9e9e9"/>
<rect x="544.15" y="55.60" width="0.7" height="234.70" fill="#e9e9e9"/>
<rect x="615.90" y="55.60" width="0.7" height="234.70" fill="#e9e9e9"/>
<rect x="401.00" y="56.25" width="270.64" height="3.90" fill="#F4BE60"/>
<rect x="401.00" y="60.58" width="91.55" height="3.90" fill="#F4BE60"/>
<rect x="401.00" y="64.91" width="90.98" height="3.90" fill="#F4BE60"/>
<rect x="401.00" y="69.24" width="73.04" height="3.90" fill="#F4BE60"/>
<rect x="401.00" y="73.57" width="61.85" height="3.90" fill="#F4BE60"/>
<rect x="401.00" y="77.90" width="59.12" height="3.90" fill="#F4BE60"/>
<rect x="401.00" y="82.23" width="52.23" height="3.90" fill="#F4BE60"/>
<rect x="401.00" y="86.56" width="49.08" height="3.90" fill="#F4BE60"/>
<rect x="401.00" y="90.89" width="45.63" height="3.90" fill="#F4BE60"/>
<rect x="401.00" y="95.22" width="45.35" height="3.90" fill="#F4BE60"/>
<rect x="401.00" y="99.55" width="43.77" height="3.90" fill="#F4BE60"/>
<rect x="401.00" y="103.88" width="42.62" height="3.90" fill="#F4BE60"/>
<rect x="401.00" y="108.21" width="41.61" height="3.90" fill="#F4BE60"/>
<rect x="401.00" y="112.54" width="40.90" height="3.90" fill="#F4BE60"/>
<rect x="401.00" y="116.87" width="40.90" height="3.90" fill="#F4BE60"/>
<rect x="401.00" y="121.20" width="37.02" height="3.90" fill="#F4BE60"/>
<rect x="401.00" y="125.53" width="34.15" height="3.90" fill="#F4BE60"/>
<rect x="401.00" y="129.86" width="31.86" height="3.90" fill="#F4BE60"/>
<rect x="401.00" y="134.19" width="25.83" height="3.90" fill="#F4BE60"/>
<rect x="401.00" y="138.52" width="20.81" height="3.90" fill="#F4BE60"/>
<rect x="401.00" y="142.85" width="18.22" height="3.90" fill="#F4BE60"/>
<rect x="401.00" y="147.18" width="15.64" height="3.90" fill="#F4BE60"/>
<rect x="401.00" y="151.52" width="15.07" height="3.90" fill="#F4BE60"/>
<rect x="401.00" y="155.85" width="12.91" height="3.90" fill="#F4BE60"/>
<rect x="401.00" y="160.18" width="11.48" height="3.90" fill="#F4BE60"/>
<rect x="401.00" y="164.51" width="10.62" height="3.90" fill="#F4BE60"/>
<rect x="401.00" y="168.84" width="9.61" height="3.90" fill="#F4BE60"/>
<rect x="401.00" y="173.17" width="9.18" height="3.90" fill="#F4BE60"/>
<rect x="401.00" y="177.50" width="8.61" height="3.90" fill="#F4BE60"/>
<rect x="401.00" y="181.83" width="7.89" height="3.90" fill="#F4BE60"/>
<rect x="401.00" y="186.16" width="6.89" height="3.90" fill="#F4BE60"/>
<rect x="401.00" y="190.49" width="6.46" height="3.90" fill="#F4BE60"/>
<rect x="401.00" y="194.82" width="5.74" height="3.90" fill="#F4BE60"/>
<rect x="401.00" y="199.15" width="4.45" height="3.90" fill="#F4BE60"/>
<rect x="401.00" y="203.48" width="3.16" height="3.90" fill="#F4BE60"/>
<rect x="401.00" y="207.81" width="2.73" height="3.90" fill="#F4BE60"/>
<rect x="401.00" y="212.14" width="2.73" height="3.90" fill="#F4BE60"/>
<rect x="401.00" y="216.47" width="1.87" height="3.90" fill="#F4BE60"/>
<rect x="401.00" y="220.80" width="1.72" height="3.90" fill="#F4BE60"/>
<rect x="387.60" y="55.60" width="302.40" height="234.70" fill="none" stroke="#dcdcdc" stroke-width="0.6"/>
<text x="401.20" y="59.50" font-size="3.6" text-anchor="start" fill="#1a1a1a" font-weight="bold" textLength="12.29" lengthAdjust="spacingAndGlyphs">Prostate</text>
<text x="401.20" y="63.83" font-size="3.6" text-anchor="start" fill="#1a1a1a" font-weight="bold" textLength="32.46" lengthAdjust="spacingAndGlyphs">Minor_Salivary_Gland</text>
<text x="401.20" y="68.16" font-size="3.6" text-anchor="start" fill="#1a1a1a" font-weight="bold" textLength="10.03" lengthAdjust="spacingAndGlyphs">Vagina</text>
<text x="401.20" y="72.49" font-size="3.6" text-anchor="start" fill="#1a1a1a" font-weight="bold" textLength="29.9" lengthAdjust="spacingAndGlyphs">Esophagus_Mucosa</text>
<text x="401.20" y="76.82" font-size="3.6" text-anchor="start" fill="#1a1a1a" font-weight="bold" textLength="26.41" lengthAdjust="spacingAndGlyphs">Cervix_Ectocervix</text>
<text x="401.20" y="81.15" font-size="3.6" text-anchor="start" fill="#1a1a1a" font-weight="bold" textLength="37.47" lengthAdjust="spacingAndGlyphs">Breast_Mammary_Tissue</text>
<text x="401.20" y="85.48" font-size="3.6" text-anchor="start" fill="#1a1a1a" font-weight="bold" textLength="27.51" lengthAdjust="spacingAndGlyphs">Cervix_Endocervix</text>
<text x="401.20" y="89.81" font-size="3.6" text-anchor="start" fill="#1a1a1a" font-weight="bold" textLength="45.86" lengthAdjust="spacingAndGlyphs">Skin_Sun_Exposed_Lower_leg</text>
<text x="401.20" y="94.14" font-size="3.6" text-anchor="start" fill="#1a1a1a" font-weight="bold" textLength="9.72" lengthAdjust="spacingAndGlyphs">Uterus</text>
<text x="401.20" y="98.47" font-size="3.6" text-anchor="start" fill="#1a1a1a" font-weight="bold" textLength="22.62" lengthAdjust="spacingAndGlyphs">Fallopian_Tube</text>
<text x="401.20" y="102.80" font-size="3.6" text-anchor="start" fill="#1a1a1a" font-weight="bold" textLength="13.02" lengthAdjust="spacingAndGlyphs">Stomach</text>
<text x="401.20" y="107.13" font-size="3.6" text-anchor="start" fill="#1a1a1a" font-weight="bold" textLength="7.34" lengthAdjust="spacingAndGlyphs">Lung</text>
<text x="401.20" y="111.46" font-size="3.6" text-anchor="start" fill="#1a1a1a" font-weight="bold" textLength="54.3" lengthAdjust="spacingAndGlyphs">Skin_Not_Sun_Exposed_Suprapubic</text>
<text x="401.20" y="115.79" font-size="3.6" text-anchor="start" fill="#1a1a1a" font-weight="bold" textLength="11.37" lengthAdjust="spacingAndGlyphs">Bladder</text>
<text x="401.20" y="120.12" font-size="3.6" text-anchor="start" fill="#1a1a1a" font-weight="bold" textLength="26.84" lengthAdjust="spacingAndGlyphs">Colon_Transverse</text>
<text x="401.20" y="124.45" font-size="3.6" text-anchor="start" fill="#1a1a1a" font-weight="bold" textLength="11.0" lengthAdjust="spacingAndGlyphs">Thyroid</text>
<text x="401.20" y="128.78" font-size="3.6" text-anchor="start" fill="#1a1a1a" font-weight="bold" textLength="38.52" lengthAdjust="spacingAndGlyphs">Cells_Cultured_fibroblasts</text>
<text x="401.20" y="133.11" font-size="3.6" text-anchor="start" fill="#1a1a1a" font-weight="bold" textLength="18.4" lengthAdjust="spacingAndGlyphs">Nerve_Tibial</text>
<text x="401.20" y="137.44" font-size="3.6" text-anchor="start" fill="#1a1a1a" font-weight="bold" textLength="46.77" lengthAdjust="spacingAndGlyphs">Small_Intestine_Terminal_Ileum</text>
<text x="401.20" y="141.77" font-size="3.6" text-anchor="start" fill="#1a1a1a" font-weight="bold" textLength="34.86" lengthAdjust="spacingAndGlyphs">Adipose_Subcutaneous</text>
<text x="401.20" y="146.10" font-size="3.6" text-anchor="start" fill="#1a1a1a" font-weight="bold" textLength="8.8" lengthAdjust="spacingAndGlyphs">Ovary</text>
<text x="401.20" y="150.43" font-size="3.6" text-anchor="start" fill="#1a1a1a" font-weight="bold" textLength="13.94" lengthAdjust="spacingAndGlyphs">Pancreas</text>
<text x="401.20" y="154.76" font-size="3.6" text-anchor="start" fill="#1a1a1a" font-weight="bold" textLength="54.47" lengthAdjust="spacingAndGlyphs">Cells_EBV-transformed_lymphocytes</text>
<text x="401.20" y="159.09" font-size="3.6" text-anchor="start" fill="#1a1a1a" font-weight="bold" textLength="18.4" lengthAdjust="spacingAndGlyphs">Artery_Tibial</text>
<text x="401.20" y="163.42" font-size="3.6" text-anchor="start" fill="#1a1a1a" font-weight="bold" textLength="18.52" lengthAdjust="spacingAndGlyphs">Artery_Aorta</text>
<text x="401.20" y="167.75" font-size="3.6" text-anchor="start" fill="#1a1a1a" font-weight="bold" textLength="24.21" lengthAdjust="spacingAndGlyphs">Artery_Coronary</text>
<text x="401.20" y="172.08" font-size="3.6" text-anchor="start" fill="#1a1a1a" font-weight="bold" textLength="41.76" lengthAdjust="spacingAndGlyphs">Adipose_Visceral_Omentum</text>
<text x="401.20" y="176.42" font-size="3.6" text-anchor="start" fill="#1a1a1a" font-weight="bold" textLength="22.38" lengthAdjust="spacingAndGlyphs">Colon_Sigmoid</text>
<text x="401.20" y="180.75" font-size="3.6" text-anchor="start" fill="#1a1a1a" font-weight="bold" textLength="59.44" lengthAdjust="spacingAndGlyphs">Esophagus_Gastroesophageal_Junction</text>
<text x="401.20" y="185.08" font-size="3.6" text-anchor="start" fill="#1a1a1a" font-weight="bold" textLength="19.63" lengthAdjust="spacingAndGlyphs">Whole_Blood</text>
<text x="401.20" y="189.41" font-size="3.6" text-anchor="start" fill="#1a1a1a" font-weight="bold" textLength="10.27" lengthAdjust="spacingAndGlyphs">Spleen</text>
<text x="401.20" y="193.74" font-size="3.6" text-anchor="start" fill="#1a1a1a" font-weight="bold" textLength="8.44" lengthAdjust="spacingAndGlyphs">Testis</text>
<text x="401.20" y="198.07" font-size="3.6" text-anchor="start" fill="#1a1a1a" font-weight="bold" textLength="34.12" lengthAdjust="spacingAndGlyphs">Esophagus_Muscularis</text>
<text x="401.20" y="202.40" font-size="3.6" text-anchor="start" fill="#1a1a1a" font-weight="bold" textLength="23.48" lengthAdjust="spacingAndGlyphs">Kidney_Medulla</text>
<text x="401.20" y="206.73" font-size="3.6" text-anchor="start" fill="#1a1a1a" font-weight="bold" textLength="21.64" lengthAdjust="spacingAndGlyphs">Kidney_Cortex</text>
<text x="401.20" y="211.06" font-size="3.6" text-anchor="start" fill="#1a1a1a" font-weight="bold" textLength="22.01" lengthAdjust="spacingAndGlyphs">Adrenal_Gland</text>
<text x="401.20" y="215.39" font-size="3.6" text-anchor="start" fill="#1a1a1a" font-weight="bold" textLength="7.15" lengthAdjust="spacingAndGlyphs">Liver</text>
<text x="401.20" y="219.72" font-size="3.6" text-anchor="start" fill="#1a1a1a" font-weight="bold" textLength="24.03" lengthAdjust="spacingAndGlyphs">Muscle_Skeletal</text>
<text x="401.20" y="224.05" font-size="3.6" text-anchor="start" fill="#1a1a1a" font-weight="bold" textLength="11.92" lengthAdjust="spacingAndGlyphs">Pituitary</text>
<text x="401.20" y="228.38" font-size="3.6" text-anchor="start" fill="#1a1a1a" font-weight="bold" textLength="26.41" lengthAdjust="spacingAndGlyphs">Brain_Cerebellum</text>
<text x="401.20" y="232.71" font-size="3.6" text-anchor="start" fill="#1a1a1a" font-weight="bold" textLength="29.9" lengthAdjust="spacingAndGlyphs">Heart_Left_Ventricle</text>
<text x="401.20" y="237.04" font-size="3.6" text-anchor="start" fill="#1a1a1a" font-weight="bold" textLength="36.14" lengthAdjust="spacingAndGlyphs">Heart_Atrial_Appendage</text>
<text x="401.20" y="241.37" font-size="3.6" text-anchor="start" fill="#1a1a1a" font-weight="bold" textLength="44.39" lengthAdjust="spacingAndGlyphs">Brain_Cerebellar_Hemisphere</text>
<text x="401.20" y="245.70" font-size="3.6" text-anchor="start" fill="#1a1a1a" font-weight="bold" textLength="46.41" lengthAdjust="spacingAndGlyphs">Brain_Spinal_cord_cervical_c-1</text>
<text x="401.20" y="250.03" font-size="3.6" text-anchor="start" fill="#1a1a1a" font-weight="bold" textLength="34.3" lengthAdjust="spacingAndGlyphs">Brain_Substantia_nigra</text>
<text x="401.20" y="254.36" font-size="3.6" text-anchor="start" fill="#1a1a1a" font-weight="bold" textLength="44.95" lengthAdjust="spacingAndGlyphs">Brain_Putamen_basal_ganglia</text>
<text x="401.20" y="258.69" font-size="3.6" text-anchor="start" fill="#1a1a1a" font-weight="bold" textLength="62.37" lengthAdjust="spacingAndGlyphs">Brain_Nucleus_accumbens_basal_ganglia</text>
<text x="401.20" y="263.02" font-size="3.6" text-anchor="start" fill="#1a1a1a" font-weight="bold" textLength="30.63" lengthAdjust="spacingAndGlyphs">Brain_Hypothalamus</text>
<text x="401.20" y="267.35" font-size="3.6" text-anchor="start" fill="#1a1a1a" font-weight="bold" textLength="29.71" lengthAdjust="spacingAndGlyphs">Brain_Hippocampus</text>
<text x="401.20" y="271.68" font-size="3.6" text-anchor="start" fill="#1a1a1a" font-weight="bold" textLength="39.43" lengthAdjust="spacingAndGlyphs">Brain_Frontal_Cortex_BA9</text>
<text x="401.20" y="276.01" font-size="3.6" text-anchor="start" fill="#1a1a1a" font-weight="bold" textLength="19.26" lengthAdjust="spacingAndGlyphs">Brain_Cortex</text>
<text x="401.20" y="280.34" font-size="3.6" text-anchor="start" fill="#1a1a1a" font-weight="bold" textLength="44.21" lengthAdjust="spacingAndGlyphs">Brain_Caudate_basal_ganglia</text>
<text x="401.20" y="284.67" font-size="3.6" text-anchor="start" fill="#1a1a1a" font-weight="bold" textLength="56.87" lengthAdjust="spacingAndGlyphs">Brain_Anterior_cingulate_cortex_BA24</text>
<text x="401.20" y="289.00" font-size="3.6" text-anchor="start" fill="#1a1a1a" font-weight="bold" textLength="24.21" lengthAdjust="spacingAndGlyphs">Brain_Amygdala</text>
<line x1="419.67" y1="55.60" x2="419.67" y2="290.30" stroke="#3a3adf" stroke-width="0.75" stroke-dasharray="2.6 2.6"/>
<line x1="444.48" y1="55.60" x2="444.48" y2="290.30" stroke="#ee2b2b" stroke-width="0.75" stroke-dasharray="2.6 2.6"/>
<text x="401.00" y="298.00" font-size="5.7" text-anchor="middle" fill="#4d4d4d">0</text>
<text x="472.75" y="298.00" font-size="5.7" text-anchor="middle" fill="#4d4d4d">5</text>
<text x="544.50" y="298.00" font-size="5.7" text-anchor="middle" fill="#4d4d4d">10</text>
<text x="616.25" y="298.00" font-size="5.7" text-anchor="middle" fill="#4d4d4d">15</text>
<text x="536.20" y="305.60" font-size="7.0" text-anchor="middle" fill="#000" textLength="45.2" lengthAdjust="spacingAndGlyphs">−log10 P−values</text>
<text x="383.40" y="173.00" font-size="6.6" text-anchor="middle" fill="#000" textLength="96.2" lengthAdjust="spacingAndGlyphs" transform="rotate(-90 383.40 173.00)">Tissue type−specific enrichment</text>
<rect x="445.27" y="390.30" width="0.6" height="232.00" fill="#f3f3f3"/>
<rect x="534.43" y="390.30" width="0.6" height="232.00" fill="#f3f3f3"/>
<rect x="623.58" y="390.30" width="0.6" height="232.00" fill="#f3f3f3"/>
<rect x="400.65" y="390.30" width="0.7" height="232.00" fill="#e9e9e9"/>
<rect x="489.80" y="390.30" width="0.7" height="232.00" fill="#e9e9e9"/>
<rect x="578.95" y="390.30" width="0.7" height="232.00" fill="#e9e9e9"/>
<rect x="668.10" y="390.30" width="0.7" height="232.00" fill="#e9e9e9"/>
<rect x="401.00" y="390.94" width="241.60" height="3.85" fill="#F4BE60"/>
<rect x="401.00" y="395.22" width="202.37" height="3.85" fill="#F4BE60"/>
<rect x="401.00" y="399.50" width="194.35" height="3.85" fill="#F4BE60"/>
<rect x="401.00" y="403.78" width="104.31" height="3.85" fill="#F4BE60"/>
<rect x="401.00" y="408.06" width="92.72" height="3.85" fill="#F4BE60"/>
<rect x="401.00" y="412.34" width="92.72" height="3.85" fill="#F4BE60"/>
<rect x="401.00" y="416.62" width="91.82" height="3.85" fill="#F4BE60"/>
<rect x="401.00" y="420.91" width="88.26" height="3.85" fill="#F4BE60"/>
<rect x="401.00" y="425.19" width="81.13" height="3.85" fill="#F4BE60"/>
<rect x="401.00" y="429.47" width="72.21" height="3.85" fill="#F4BE60"/>
<rect x="401.00" y="433.75" width="71.32" height="3.85" fill="#F4BE60"/>
<rect x="401.00" y="438.03" width="68.65" height="3.85" fill="#F4BE60"/>
<rect x="401.00" y="442.31" width="65.97" height="3.85" fill="#F4BE60"/>
<rect x="401.00" y="446.59" width="65.08" height="3.85" fill="#F4BE60"/>
<rect x="401.00" y="450.87" width="64.19" height="3.85" fill="#F4BE60"/>
<rect x="401.00" y="455.15" width="59.73" height="3.85" fill="#F4BE60"/>
<rect x="401.00" y="459.43" width="59.73" height="3.85" fill="#F4BE60"/>
<rect x="401.00" y="463.71" width="56.16" height="3.85" fill="#F4BE60"/>
<rect x="401.00" y="467.99" width="55.27" height="3.85" fill="#F4BE60"/>
<rect x="401.00" y="472.27" width="54.38" height="3.85" fill="#F4BE60"/>
<rect x="401.00" y="476.55" width="54.38" height="3.85" fill="#F4BE60"/>
<rect x="401.00" y="480.83" width="52.60" height="3.85" fill="#F4BE60"/>
<rect x="401.00" y="485.11" width="48.14" height="3.85" fill="#F4BE60"/>
<rect x="401.00" y="489.39" width="48.14" height="3.85" fill="#F4BE60"/>
<rect x="401.00" y="493.67" width="47.25" height="3.85" fill="#F4BE60"/>
<rect x="401.00" y="497.95" width="41.90" height="3.85" fill="#F4BE60"/>
<rect x="401.00" y="502.23" width="40.12" height="3.85" fill="#F4BE60"/>
<rect x="401.00" y="506.51" width="32.09" height="3.85" fill="#F4BE60"/>
<rect x="401.00" y="510.79" width="26.75" height="3.85" fill="#F4BE60"/>
<rect x="401.00" y="515.07" width="25.85" height="3.85" fill="#F4BE60"/>
<rect x="401.00" y="519.36" width="20.50" height="3.85" fill="#F4BE60"/>
<rect x="401.00" y="523.64" width="19.61" height="3.85" fill="#F4BE60"/>
<rect x="401.00" y="527.92" width="19.61" height="3.85" fill="#F4BE60"/>
<rect x="401.00" y="532.20" width="19.61" height="3.85" fill="#F4BE60"/>
<rect x="401.00" y="536.48" width="18.72" height="3.85" fill="#F4BE60"/>
<rect x="401.00" y="540.76" width="16.94" height="3.85" fill="#F4BE60"/>
<rect x="401.00" y="545.04" width="16.05" height="3.85" fill="#F4BE60"/>
<rect x="401.00" y="549.32" width="14.26" height="3.85" fill="#F4BE60"/>
<rect x="401.00" y="553.60" width="14.26" height="3.85" fill="#F4BE60"/>
<rect x="401.00" y="557.88" width="13.37" height="3.85" fill="#F4BE60"/>
<rect x="401.00" y="562.16" width="13.37" height="3.85" fill="#F4BE60"/>
<rect x="401.00" y="566.44" width="10.70" height="3.85" fill="#F4BE60"/>
<rect x="401.00" y="570.72" width="7.58" height="3.85" fill="#F4BE60"/>
<rect x="401.00" y="575.00" width="4.99" height="3.85" fill="#F4BE60"/>
<rect x="401.00" y="579.28" width="3.57" height="3.85" fill="#F4BE60"/>
<rect x="401.00" y="583.56" width="3.21" height="3.85" fill="#F4BE60"/>
<rect x="401.00" y="587.84" width="3.12" height="3.85" fill="#F4BE60"/>
<rect x="401.00" y="592.12" width="2.67" height="3.85" fill="#F4BE60"/>
<rect x="401.00" y="596.40" width="2.67" height="3.85" fill="#F4BE60"/>
<rect x="401.00" y="600.68" width="2.23" height="3.85" fill="#F4BE60"/>
<rect x="401.00" y="604.96" width="1.78" height="3.85" fill="#F4BE60"/>
<rect x="401.00" y="609.24" width="1.78" height="3.85" fill="#F4BE60"/>
<rect x="401.00" y="613.53" width="1.78" height="3.85" fill="#F4BE60"/>
<rect x="401.00" y="617.81" width="1.34" height="3.85" fill="#F4BE60"/>
<rect x="387.50" y="390.30" width="302.50" height="232.00" fill="none" stroke="#dcdcdc" stroke-width="0.6"/>
<text x="401.20" y="394.17" font-size="3.6" text-anchor="start" fill="#1a1a1a" font-weight="bold" textLength="12.29" lengthAdjust="spacingAndGlyphs">Prostate</text>
<text x="401.20" y="398.45" font-size="3.6" text-anchor="start" fill="#1a1a1a" font-weight="bold" textLength="11.92" lengthAdjust="spacingAndGlyphs">Pituitary</text>
<text x="401.20" y="402.73" font-size="3.6" text-anchor="start" fill="#1a1a1a" font-weight="bold" textLength="8.44" lengthAdjust="spacingAndGlyphs">Testis</text>
<text x="401.20" y="407.01" font-size="3.6" text-anchor="start" fill="#1a1a1a" font-weight="bold" textLength="32.46" lengthAdjust="spacingAndGlyphs">Minor_Salivary_Gland</text>
<text x="401.20" y="411.29" font-size="3.6" text-anchor="start" fill="#1a1a1a" font-weight="bold" textLength="22.62" lengthAdjust="spacingAndGlyphs">Fallopian_Tube</text>
<text x="401.20" y="415.57" font-size="3.6" text-anchor="start" fill="#1a1a1a" font-weight="bold" textLength="13.94" lengthAdjust="spacingAndGlyphs">Pancreas</text>
<text x="401.20" y="419.85" font-size="3.6" text-anchor="start" fill="#1a1a1a" font-weight="bold" textLength="11.37" lengthAdjust="spacingAndGlyphs">Bladder</text>
<text x="401.20" y="424.13" font-size="3.6" text-anchor="start" fill="#1a1a1a" font-weight="bold" textLength="8.8" lengthAdjust="spacingAndGlyphs">Ovary</text>
<text x="401.20" y="428.41" font-size="3.6" text-anchor="start" fill="#1a1a1a" font-weight="bold" textLength="18.52" lengthAdjust="spacingAndGlyphs">Artery_Aorta</text>
<text x="401.20" y="432.69" font-size="3.6" text-anchor="start" fill="#1a1a1a" font-weight="bold" textLength="13.02" lengthAdjust="spacingAndGlyphs">Stomach</text>
<text x="401.20" y="436.97" font-size="3.6" text-anchor="start" fill="#1a1a1a" font-weight="bold" textLength="22.38" lengthAdjust="spacingAndGlyphs">Colon_Sigmoid</text>
<text x="401.20" y="441.25" font-size="3.6" text-anchor="start" fill="#1a1a1a" font-weight="bold" textLength="9.72" lengthAdjust="spacingAndGlyphs">Uterus</text>
<text x="401.20" y="445.53" font-size="3.6" text-anchor="start" fill="#1a1a1a" font-weight="bold" textLength="26.41" lengthAdjust="spacingAndGlyphs">Cervix_Ectocervix</text>
<text x="401.20" y="449.81" font-size="3.6" text-anchor="start" fill="#1a1a1a" font-weight="bold" textLength="26.84" lengthAdjust="spacingAndGlyphs">Colon_Transverse</text>
<text x="401.20" y="454.09" font-size="3.6" text-anchor="start" fill="#1a1a1a" font-weight="bold" textLength="34.12" lengthAdjust="spacingAndGlyphs">Esophagus_Muscularis</text>
<text x="401.20" y="458.37" font-size="3.6" text-anchor="start" fill="#1a1a1a" font-weight="bold" textLength="27.51" lengthAdjust="spacingAndGlyphs">Cervix_Endocervix</text>
<text x="401.20" y="462.66" font-size="3.6" text-anchor="start" fill="#1a1a1a" font-weight="bold" textLength="11.0" lengthAdjust="spacingAndGlyphs">Thyroid</text>
<text x="401.20" y="466.94" font-size="3.6" text-anchor="start" fill="#1a1a1a" font-weight="bold" textLength="7.34" lengthAdjust="spacingAndGlyphs">Lung</text>
<text x="401.20" y="471.22" font-size="3.6" text-anchor="start" fill="#1a1a1a" font-weight="bold" textLength="37.47" lengthAdjust="spacingAndGlyphs">Breast_Mammary_Tissue</text>
<text x="401.20" y="475.50" font-size="3.6" text-anchor="start" fill="#1a1a1a" font-weight="bold" textLength="7.15" lengthAdjust="spacingAndGlyphs">Liver</text>
<text x="401.20" y="479.78" font-size="3.6" text-anchor="start" fill="#1a1a1a" font-weight="bold" textLength="23.48" lengthAdjust="spacingAndGlyphs">Kidney_Medulla</text>
<text x="401.20" y="484.06" font-size="3.6" text-anchor="start" fill="#1a1a1a" font-weight="bold" textLength="29.9" lengthAdjust="spacingAndGlyphs">Heart_Left_Ventricle</text>
<text x="401.20" y="488.34" font-size="3.6" text-anchor="start" fill="#1a1a1a" font-weight="bold" textLength="24.21" lengthAdjust="spacingAndGlyphs">Artery_Coronary</text>
<text x="401.20" y="492.62" font-size="3.6" text-anchor="start" fill="#1a1a1a" font-weight="bold" textLength="10.03" lengthAdjust="spacingAndGlyphs">Vagina</text>
<text x="401.20" y="496.90" font-size="3.6" text-anchor="start" fill="#1a1a1a" font-weight="bold" textLength="59.44" lengthAdjust="spacingAndGlyphs">Esophagus_Gastroesophageal_Junction</text>
<text x="401.20" y="501.18" font-size="3.6" text-anchor="start" fill="#1a1a1a" font-weight="bold" textLength="38.52" lengthAdjust="spacingAndGlyphs">Cells_Cultured_fibroblasts</text>
<text x="401.20" y="505.46" font-size="3.6" text-anchor="start" fill="#1a1a1a" font-weight="bold" textLength="36.14" lengthAdjust="spacingAndGlyphs">Heart_Atrial_Appendage</text>
<text x="401.20" y="509.74" font-size="3.6" text-anchor="start" fill="#1a1a1a" font-weight="bold" textLength="18.4" lengthAdjust="spacingAndGlyphs">Artery_Tibial</text>
<text x="401.20" y="514.02" font-size="3.6" text-anchor="start" fill="#1a1a1a" font-weight="bold" textLength="29.9" lengthAdjust="spacingAndGlyphs">Esophagus_Mucosa</text>
<text x="401.20" y="518.30" font-size="3.6" text-anchor="start" fill="#1a1a1a" font-weight="bold" textLength="41.76" lengthAdjust="spacingAndGlyphs">Adipose_Visceral_Omentum</text>
<text x="401.20" y="522.58" font-size="3.6" text-anchor="start" fill="#1a1a1a" font-weight="bold" textLength="34.86" lengthAdjust="spacingAndGlyphs">Adipose_Subcutaneous</text>
<text x="401.20" y="526.86" font-size="3.6" text-anchor="start" fill="#1a1a1a" font-weight="bold" textLength="45.86" lengthAdjust="spacingAndGlyphs">Skin_Sun_Exposed_Lower_leg</text>
<text x="401.20" y="531.14" font-size="3.6" text-anchor="start" fill="#1a1a1a" font-weight="bold" textLength="18.4" lengthAdjust="spacingAndGlyphs">Nerve_Tibial</text>
<text x="401.20" y="535.42" font-size="3.6" text-anchor="start" fill="#1a1a1a" font-weight="bold" textLength="10.27" lengthAdjust="spacingAndGlyphs">Spleen</text>
<text x="401.20" y="539.70" font-size="3.6" text-anchor="start" fill="#1a1a1a" font-weight="bold" textLength="21.64" lengthAdjust="spacingAndGlyphs">Kidney_Cortex</text>
<text x="401.20" y="543.98" font-size="3.6" text-anchor="start" fill="#1a1a1a" font-weight="bold" textLength="46.77" lengthAdjust="spacingAndGlyphs">Small_Intestine_Terminal_Ileum</text>
<text x="401.20" y="548.26" font-size="3.6" text-anchor="start" fill="#1a1a1a" font-weight="bold" textLength="54.3" lengthAdjust="spacingAndGlyphs">Skin_Not_Sun_Exposed_Suprapubic</text>
<text x="401.20" y="552.54" font-size="3.6" text-anchor="start" fill="#1a1a1a" font-weight="bold" textLength="24.03" lengthAdjust="spacingAndGlyphs">Muscle_Skeletal</text>
<text x="401.20" y="556.83" font-size="3.6" text-anchor="start" fill="#1a1a1a" font-weight="bold" textLength="54.47" lengthAdjust="spacingAndGlyphs">Cells_EBV-transformed_lymphocytes</text>
<text x="401.20" y="561.11" font-size="3.6" text-anchor="start" fill="#1a1a1a" font-weight="bold" textLength="26.41" lengthAdjust="spacingAndGlyphs">Brain_Cerebellum</text>
<text x="401.20" y="565.39" font-size="3.6" text-anchor="start" fill="#1a1a1a" font-weight="bold" textLength="44.39" lengthAdjust="spacingAndGlyphs">Brain_Cerebellar_Hemisphere</text>
<text x="401.20" y="569.67" font-size="3.6" text-anchor="start" fill="#1a1a1a" font-weight="bold" textLength="19.63" lengthAdjust="spacingAndGlyphs">Whole_Blood</text>
<text x="401.20" y="573.95" font-size="3.6" text-anchor="start" fill="#1a1a1a" font-weight="bold" textLength="30.63" lengthAdjust="spacingAndGlyphs">Brain_Hypothalamus</text>
<text x="401.20" y="578.23" font-size="3.6" text-anchor="start" fill="#1a1a1a" font-weight="bold" textLength="62.37" lengthAdjust="spacingAndGlyphs">Brain_Nucleus_accumbens_basal_ganglia</text>
<text x="401.20" y="582.51" font-size="3.6" text-anchor="start" fill="#1a1a1a" font-weight="bold" textLength="19.26" lengthAdjust="spacingAndGlyphs">Brain_Cortex</text>
<text x="401.20" y="586.79" font-size="3.6" text-anchor="start" fill="#1a1a1a" font-weight="bold" textLength="39.43" lengthAdjust="spacingAndGlyphs">Brain_Frontal_Cortex_BA9</text>
<text x="401.20" y="591.07" font-size="3.6" text-anchor="start" fill="#1a1a1a" font-weight="bold" textLength="46.41" lengthAdjust="spacingAndGlyphs">Brain_Spinal_cord_cervical_c-1</text>
<text x="401.20" y="595.35" font-size="3.6" text-anchor="start" fill="#1a1a1a" font-weight="bold" textLength="56.87" lengthAdjust="spacingAndGlyphs">Brain_Anterior_cingulate_cortex_BA24</text>
<text x="401.20" y="599.63" font-size="3.6" text-anchor="start" fill="#1a1a1a" font-weight="bold" textLength="22.01" lengthAdjust="spacingAndGlyphs">Adrenal_Gland</text>
<text x="401.20" y="603.91" font-size="3.6" text-anchor="start" fill="#1a1a1a" font-weight="bold" textLength="24.21" lengthAdjust="spacingAndGlyphs">Brain_Amygdala</text>
<text x="401.20" y="608.19" font-size="3.6" text-anchor="start" fill="#1a1a1a" font-weight="bold" textLength="44.21" lengthAdjust="spacingAndGlyphs">Brain_Caudate_basal_ganglia</text>
<text x="401.20" y="612.47" font-size="3.6" text-anchor="start" fill="#1a1a1a" font-weight="bold" textLength="29.71" lengthAdjust="spacingAndGlyphs">Brain_Hippocampus</text>
<text x="401.20" y="616.75" font-size="3.6" text-anchor="start" fill="#1a1a1a" font-weight="bold" textLength="34.3" lengthAdjust="spacingAndGlyphs">Brain_Substantia_nigra</text>
<text x="401.20" y="621.03" font-size="3.6" text-anchor="start" fill="#1a1a1a" font-weight="bold" textLength="44.95" lengthAdjust="spacingAndGlyphs">Brain_Putamen_basal_ganglia</text>
<line x1="516.98" y1="390.30" x2="516.98" y2="622.30" stroke="#3a3adf" stroke-width="0.75" stroke-dasharray="2.6 2.6"/>
<line x1="671.12" y1="390.30" x2="671.12" y2="622.30" stroke="#ee2b2b" stroke-width="0.75" stroke-dasharray="2.6 2.6"/>
<text x="401.00" y="629.80" font-size="5.7" text-anchor="middle" fill="#4d4d4d">0</text>
<text x="490.15" y="629.80" font-size="5.7" text-anchor="middle" fill="#4d4d4d">1</text>
<text x="579.30" y="629.80" font-size="5.7" text-anchor="middle" fill="#4d4d4d">2</text>
<text x="668.45" y="629.80" font-size="5.7" text-anchor="middle" fill="#4d4d4d">3</text>
<text x="536.50" y="637.40" font-size="7.0" text-anchor="middle" fill="#000" textLength="45.2" lengthAdjust="spacingAndGlyphs">−log10 P−values</text>
<text x="383.40" y="506.30" font-size="6.6" text-anchor="middle" fill="#000" textLength="96.2" lengthAdjust="spacingAndGlyphs" transform="rotate(-90 383.40 506.30)">Tissue type−specific enrichment</text>
<g stroke="#8a8a7a" stroke-width="0.4" stroke-dasharray="1.2 0.6">
<ellipse cx="159.5" cy="557.5" rx="87.2" ry="95.1" fill="#CBDFB6"/>
<ellipse cx="192.5" cy="557.5" rx="87.9" ry="95.1" fill="#F6ECC0"/>
</g>
<clipPath id="cg"><ellipse cx="159.5" cy="557.5" rx="87.2" ry="95.1"/></clipPath>
<ellipse cx="192.5" cy="557.5" rx="87.9" ry="95.1" fill="#E2E0A2" clip-path="url(#cg)" stroke="#8a8a7a" stroke-width="0.4" stroke-dasharray="1.2 0.6"/>
<g stroke="#8a8a7a" stroke-width="0.4" stroke-dasharray="1.2 0.6">
<ellipse cx="175.6" cy="559.2" rx="62.3" ry="41.9" fill="#E9D3A6"/>
<ellipse cx="177.4" cy="558.5" rx="26.6" ry="34.7" fill="#E89473"/>
<ellipse cx="177.4" cy="560.7" rx="26.3" ry="18.4" fill="#F8EEEC"/>
</g>
<text x="100.50" y="516.80" font-size="6.4" text-anchor="middle" fill="#111" font-weight="bold" textLength="17.0" lengthAdjust="spacingAndGlyphs">MTAG</text>
<text x="253.70" y="516.80" font-size="6.4" text-anchor="middle" fill="#111" font-weight="bold" textLength="28.9" lengthAdjust="spacingAndGlyphs">CPASSOC</text>
<text x="88.90" y="556.40" font-size="6.4" text-anchor="middle" fill="#111" font-weight="bold" textLength="10.0" lengthAdjust="spacingAndGlyphs">838</text>
<text x="133.00" y="560.20" font-size="6.4" text-anchor="middle" fill="#111" font-weight="bold" textLength="18.0" lengthAdjust="spacingAndGlyphs">PLINK</text>
<text x="220.10" y="560.80" font-size="6.4" text-anchor="middle" fill="#111" font-weight="bold" textLength="9.6" lengthAdjust="spacingAndGlyphs">312</text>
<text x="262.40" y="560.10" font-size="6.4" text-anchor="middle" fill="#111" font-weight="bold" textLength="12.0" lengthAdjust="spacingAndGlyphs">2205</text>
<text x="177.50" y="508.90" font-size="6.4" text-anchor="middle" fill="#111" font-weight="bold" textLength="13.2" lengthAdjust="spacingAndGlyphs">9569</text>
<text x="177.50" y="536.90" font-size="6.4" text-anchor="middle" fill="#111" font-weight="bold" textLength="27.2" lengthAdjust="spacingAndGlyphs">Rho-Hess</text>
<text x="177.50" y="557.30" font-size="6.6" text-anchor="middle" fill="#111" font-weight="bold" textLength="40.4" lengthAdjust="spacingAndGlyphs">Colocalization</text>
<text x="177.50" y="565.40" font-size="6.6" text-anchor="middle" fill="#111" font-weight="bold" textLength="23.0" lengthAdjust="spacingAndGlyphs">analysis</text>
<text x="177.70" y="576.20" font-size="6.6" text-anchor="middle" fill="#111" font-weight="bold">7</text>
<text x="178.00" y="589.80" font-size="6.6" text-anchor="middle" fill="#111" font-weight="bold" textLength="6.0" lengthAdjust="spacingAndGlyphs">93</text>
<text x="15.60" y="17.00" font-size="19.5" text-anchor="start" fill="#000" font-weight="bold">A</text>
<text x="15.30" y="238.50" font-size="19.5" text-anchor="start" fill="#000" font-weight="bold">B</text>
<text x="376.40" y="14.30" font-size="19.5" text-anchor="start" fill="#000" font-weight="bold">C</text>
<text x="376.40" y="361.00" font-size="19.5" text-anchor="start" fill="#000" font-weight="bold">D</text>
<text x="61.90" y="463.00" font-size="19.5" text-anchor="start" fill="#000" font-weight="bold">E</text>
</svg></body></html>
